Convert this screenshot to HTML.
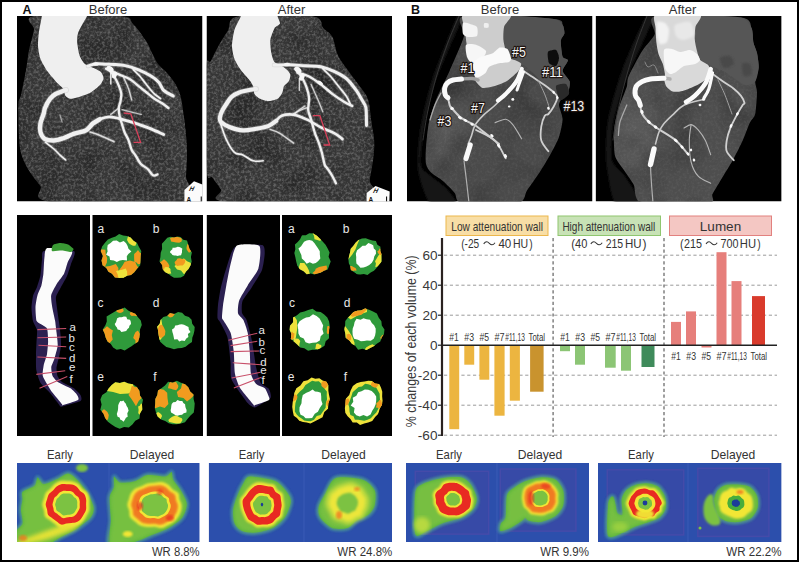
<!DOCTYPE html>
<html><head><meta charset="utf-8"><style>
html,body{margin:0;padding:0;background:#fff;width:799px;height:562px;overflow:hidden}
svg{display:block}
text{font-family:"Liberation Sans",sans-serif}
</style></head><body>
<svg width="799" height="562" viewBox="0 0 799 562">
<defs><filter id="spk" x="0" y="0" width="100%" height="100%" color-interpolation-filters="sRGB">
<feTurbulence type="fractalNoise" baseFrequency="0.38" numOctaves="3" seed="7" result="t"/>
<feColorMatrix in="t" type="matrix" values="0 0 0 0 1  0 0 0 0 1  0 0 0 0 1  0 0 0 2.6 -1.05"/>
<feGaussianBlur stdDeviation="0.7"/>
</filter>
<filter id="lowf" x="0" y="0" width="100%" height="100%" color-interpolation-filters="sRGB">
<feTurbulence type="fractalNoise" baseFrequency="0.03" numOctaves="2" seed="4" result="t"/>
<feColorMatrix in="t" type="matrix" values="0 0 0 0 0  0 0 0 0 0  0 0 0 0 0  0 0 0 1.8 -0.75"/>
</filter>
<filter id="blur1"><feGaussianBlur stdDeviation="0.6"/></filter>
<filter id="blur2"><feGaussianBlur stdDeviation="1.2"/></filter>
<filter id="blur3"><feGaussianBlur stdDeviation="2.2"/></filter>
<filter id="bl4"><feGaussianBlur stdDeviation="3.5"/></filter>
<filter id="lblsh" x="-30%" y="-30%" width="160%" height="160%"><feMorphology in="SourceAlpha" operator="dilate" radius="1.1" result="d"/><feFlood flood-color="#2a1a14"/><feComposite in2="d" operator="in" result="o"/><feMerge><feMergeNode in="o"/><feMergeNode in="SourceGraphic"/></feMerge></filter>

<clipPath id="clipa1"><rect x="17" y="16" width="185.5" height="185.5"/></clipPath>
<clipPath id="hearta1"><path d="M35.0,16.0 C49.2,13.7 102.7,14.7 119.0,16.0 C135.3,17.3 128.5,19.8 133.0,24.0 C137.5,28.2 142.8,36.2 146.0,41.0 C149.2,45.8 150.0,49.2 152.0,53.0 C154.0,56.8 155.5,60.7 158.0,64.0 C160.5,67.3 164.0,69.5 167.0,73.0 C170.0,76.5 173.7,80.8 176.0,85.0 C178.3,89.2 179.8,93.2 181.0,98.0 C182.2,102.8 182.8,109.4 183.5,114.0 C184.2,118.6 184.4,119.8 185.0,125.6 C185.6,131.4 186.8,140.6 187.0,149.0 C187.2,157.4 186.6,167.2 186.0,176.0 C185.4,184.8 205.8,197.7 183.3,202.0 C160.9,206.3 75.1,204.7 51.3,202.0 C27.5,199.3 43.9,190.9 40.4,186.0 C36.9,181.1 33.3,177.7 30.2,172.6 C27.1,167.5 23.6,161.3 21.8,155.7 C20.0,150.1 19.8,147.2 19.2,138.8 C18.6,130.4 18.1,112.3 18.4,105.0 C18.7,97.7 19.7,100.8 21.0,95.0 C22.3,89.2 24.7,77.5 26.0,70.0 C27.3,62.5 27.7,56.7 29.0,50.0 C30.3,43.3 33.0,35.7 34.0,30.0 C35.0,24.3 20.8,18.3 35.0,16.0Z"/></clipPath>
<clipPath id="clipa2"><rect x="206.5" y="16" width="185.5" height="185.5"/></clipPath>
<clipPath id="hearta2"><path d="M239.5,16.0 C253.4,13.5 297.0,14.0 311.0,16.0 C325.0,18.0 319.9,24.7 323.5,28.2 C327.1,31.7 330.0,32.6 332.4,37.1 C334.8,41.6 335.0,49.2 337.7,54.9 C340.4,60.5 344.8,66.0 348.4,71.0 C351.9,76.0 355.7,80.5 359.0,85.2 C362.3,89.9 365.9,93.1 368.0,99.4 C370.1,105.7 370.5,115.9 371.5,122.8 C372.5,129.7 373.9,134.7 374.2,140.6 C374.5,146.5 374.1,151.9 373.3,158.4 C372.6,164.9 370.9,172.4 369.7,179.7 C368.5,187.0 389.9,198.3 366.2,202.0 C342.5,205.7 251.9,204.1 227.7,202.0 C203.5,199.9 223.5,193.6 221.0,189.5 C218.5,185.4 214.9,181.4 212.5,177.7 C210.1,174.0 207.6,185.5 206.5,167.5 C205.4,149.5 205.3,87.5 206.0,69.8 C206.7,52.1 208.9,65.0 210.8,61.3 C212.7,57.6 214.7,52.9 217.5,47.8 C220.3,42.7 224.0,36.2 227.7,30.9 C231.4,25.6 225.6,18.5 239.5,16.0Z"/></clipPath>
<clipPath id="clipb1"><rect x="407" y="16" width="185.5" height="185.5"/></clipPath>
<clipPath id="hbb1"><path d="M464.0,16.0 C474.5,14.0 542.2,18.0 553.7,19.0 C565.2,20.0 561.4,23.0 562.6,24.7 C563.8,26.4 564.6,31.7 564.4,33.6 C564.2,35.5 561.0,38.0 560.8,40.7 C560.6,43.4 561.8,54.4 562.6,56.7 C563.4,59.0 568.0,58.6 568.0,60.3 C568.0,62.0 562.4,68.5 562.6,71.0 C562.8,73.5 569.1,79.1 569.7,81.6 C570.3,84.1 568.8,90.4 568.0,92.3 C567.2,94.2 563.6,96.1 562.6,97.6 C561.6,99.1 559.0,102.5 559.0,105.0 C559.0,107.5 562.6,115.5 562.6,119.2 C562.6,122.9 560.4,132.8 559.0,137.0 C557.6,141.2 552.5,150.6 550.2,154.8 C547.9,159.0 542.2,168.4 539.5,172.6 C536.8,176.8 529.5,186.9 527.0,190.4 C524.5,193.9 525.7,201.5 518.1,203.0 C510.5,204.5 469.4,204.2 462.0,203.0 C454.6,201.8 456.9,195.5 454.7,192.9 C452.5,190.3 445.7,183.4 442.9,181.0 C440.1,178.6 433.0,174.6 431.0,172.6 C429.0,170.6 426.6,167.0 426.0,164.0 C425.4,161.0 425.6,152.2 426.0,147.3 C426.4,142.4 427.8,127.4 429.0,121.9 C430.2,116.4 433.6,106.1 436.0,100.0 C438.4,93.9 446.7,77.5 450.0,70.0 C453.3,62.5 462.4,42.3 464.0,36.0 C465.6,29.7 453.5,18.0 464.0,16.0Z"/></clipPath>
<radialGradient id="lgb1" cx="0.5" cy="0.5" r="0.5"><stop offset="0" stop-color="#707070" stop-opacity="0.45"/><stop offset="1" stop-color="#707070" stop-opacity="0"/></radialGradient>
<clipPath id="clipb2"><rect x="595.6" y="16" width="186" height="185.5"/></clipPath>
<clipPath id="hbb2"><path d="M655.5,16.0 C665.6,14.1 729.8,16.2 741.0,17.6 C752.2,19.0 750.2,25.3 751.6,28.2 C753.0,31.1 752.8,39.6 753.4,42.5 C754.0,45.4 756.4,50.2 757.0,53.1 C757.6,56.0 758.9,64.1 758.7,67.4 C758.5,70.7 755.4,78.7 755.2,81.6 C755.0,84.5 757.0,88.5 757.0,92.3 C757.0,96.1 756.0,110.4 755.2,114.0 C754.4,117.6 751.3,119.7 749.8,122.8 C748.3,125.9 744.6,136.4 742.7,140.6 C740.8,144.8 736.1,154.2 733.8,158.4 C731.5,162.6 725.6,172.0 723.1,176.2 C720.6,180.4 714.2,190.9 712.5,194.0 C710.8,197.1 717.1,201.9 708.9,203.0 C700.7,204.1 650.8,205.2 642.0,203.0 C633.2,200.8 635.8,188.3 633.6,184.4 C631.4,180.5 625.6,172.5 623.4,169.2 C621.2,165.9 616.1,160.2 615.0,155.7 C613.9,151.2 613.6,135.8 614.0,130.4 C614.4,125.0 616.9,114.1 618.4,109.0 C619.9,103.9 625.6,90.5 626.8,86.7 C628.0,82.9 626.7,80.6 628.5,76.5 C630.3,72.4 638.9,56.1 642.0,51.2 C645.1,46.3 653.1,38.4 654.7,34.3 C656.3,30.2 645.4,17.9 655.5,16.0Z"/></clipPath>
<radialGradient id="lgb2" cx="0.5" cy="0.5" r="0.5"><stop offset="0" stop-color="#707070" stop-opacity="0.45"/><stop offset="1" stop-color="#707070" stop-opacity="0"/></radialGradient>
<clipPath id="csa"><path d="M140.7,255.9 L140.5,260.5 L140.2,265.3 L137.0,268.7 L134.3,272.2 L131.1,275.1 L127.0,275.8 L123.3,277.7 L119.1,278.1 L114.9,277.6 L112.0,273.8 L108.4,271.7 L106.3,268.0 L102.5,265.2 L101.5,260.6 L102.9,255.9 L100.7,251.0 L102.1,246.4 L105.0,242.8 L107.9,239.4 L111.9,237.8 L115.6,236.5 L119.1,234.0 L123.1,235.5 L127.0,236.0 L130.6,237.6 L133.5,240.7 L137.0,243.1 L139.0,247.1 L141.3,251.1Z"/></clipPath>
<clipPath id="csb"><path d="M190.9,256.9 L191.7,261.4 L190.5,265.6 L188.5,269.1 L185.9,271.8 L184.0,275.7 L180.8,277.6 L177.4,277.7 L174.0,277.7 L171.0,276.0 L168.3,273.7 L165.3,272.2 L162.7,269.3 L162.1,264.9 L159.5,261.4 L160.4,256.9 L160.7,252.7 L162.1,248.9 L161.9,243.8 L164.7,240.8 L167.3,237.8 L170.7,236.7 L174.1,237.5 L177.3,236.6 L180.6,237.0 L183.2,239.8 L187.0,240.4 L188.3,244.8 L189.5,248.8 L191.9,252.4Z"/></clipPath>
<clipPath id="csc"><path d="M140.0,329.4 L139.9,333.4 L139.4,337.6 L138.1,341.8 L134.5,343.9 L131.5,346.3 L128.2,348.3 L124.7,350.6 L120.8,348.9 L116.7,349.7 L113.1,347.6 L110.8,343.9 L107.5,341.5 L105.7,337.7 L104.6,333.6 L102.7,329.4 L105.4,325.3 L106.8,321.5 L106.6,316.5 L110.3,314.2 L113.7,312.2 L117.0,310.2 L120.7,309.2 L124.7,307.5 L128.2,310.5 L131.6,312.2 L135.3,313.8 L137.8,317.1 L140.8,320.4 L141.8,324.9Z"/></clipPath>
<clipPath id="csd"><path d="M194.4,330.7 L193.6,334.3 L192.3,337.7 L192.0,341.9 L188.6,344.2 L185.6,346.7 L181.8,347.9 L177.9,348.3 L174.0,349.2 L170.2,348.0 L166.3,346.9 L163.2,344.4 L160.2,341.8 L159.1,338.0 L158.6,334.3 L158.2,330.7 L157.1,326.8 L159.7,323.7 L160.5,319.9 L163.3,317.1 L167.2,316.1 L170.0,312.9 L174.2,314.0 L178.1,311.9 L182.1,312.8 L185.0,315.7 L188.9,316.9 L191.6,319.8 L192.2,323.8 L194.7,326.9Z"/></clipPath>
<clipPath id="cse"><path d="M142.0,404.6 L142.3,409.4 L140.0,413.4 L139.5,418.6 L135.3,420.8 L132.4,424.4 L128.8,427.5 L124.1,426.9 L119.7,428.7 L115.4,426.9 L111.6,424.4 L107.9,421.8 L105.1,418.1 L103.5,413.7 L100.3,409.7 L101.6,404.6 L100.4,399.6 L102.2,395.0 L106.4,392.2 L108.6,388.4 L111.7,385.1 L115.3,382.2 L119.9,383.1 L124.2,381.8 L128.3,383.5 L132.8,384.3 L136.7,386.8 L139.4,390.8 L140.1,395.8 L143.0,399.8Z"/></clipPath>
<clipPath id="csf"><path d="M194.7,403.4 L194.4,407.8 L193.8,412.4 L190.5,415.6 L187.7,418.8 L185.0,422.3 L180.9,423.6 L176.7,424.2 L172.6,424.3 L168.7,423.2 L165.2,421.0 L161.1,419.5 L157.6,416.6 L155.9,412.3 L154.8,407.9 L155.2,403.4 L155.3,399.0 L157.3,395.1 L158.0,390.4 L161.7,387.9 L165.0,385.4 L168.1,381.7 L172.7,382.6 L176.9,380.7 L181.0,382.7 L185.1,384.2 L188.3,387.2 L190.2,391.4 L193.5,394.4 L193.6,399.1Z"/></clipPath>
<clipPath id="csa2"><path d="M328.9,254.9 L329.2,259.3 L326.7,262.8 L326.9,268.0 L324.1,271.1 L321.2,274.3 L317.1,274.1 L313.6,274.8 L310.2,274.4 L306.8,273.9 L303.8,271.8 L299.9,270.8 L298.1,267.0 L295.3,263.8 L294.3,259.4 L294.9,254.9 L295.7,250.8 L296.3,246.6 L298.7,243.4 L300.0,239.0 L303.6,237.6 L306.8,236.0 L310.0,233.0 L313.7,234.3 L317.6,233.8 L321.2,235.6 L323.8,239.0 L325.5,243.0 L327.0,246.8 L328.3,250.7Z"/></clipPath>
<clipPath id="csb2"><path d="M381.0,256.9 L380.5,260.7 L379.7,264.4 L377.7,267.5 L376.1,271.2 L372.5,272.1 L369.7,274.3 L366.5,275.9 L363.0,275.5 L359.4,275.4 L356.9,272.4 L354.1,270.3 L352.0,267.4 L350.7,264.0 L349.8,260.5 L348.5,256.9 L349.3,253.2 L349.7,249.3 L350.8,245.4 L353.1,242.3 L356.3,240.3 L359.8,239.8 L363.1,238.9 L366.5,237.6 L369.6,240.1 L373.2,240.2 L375.2,243.7 L377.8,246.2 L379.7,249.4 L381.7,252.8Z"/></clipPath>
<clipPath id="csc2"><path d="M329.1,330.0 L329.0,334.0 L329.0,338.3 L325.7,341.2 L324.5,345.8 L320.8,348.2 L316.7,349.7 L312.4,349.8 L308.1,350.8 L304.3,348.3 L300.2,347.6 L297.2,344.6 L294.1,341.7 L290.8,338.7 L291.5,334.0 L289.6,330.0 L290.0,325.7 L293.1,322.3 L293.0,317.4 L297.0,315.2 L300.2,312.6 L304.3,311.5 L308.2,310.0 L312.5,308.8 L316.3,311.4 L320.6,312.1 L324.2,314.5 L327.3,317.6 L329.1,321.6 L329.7,325.9Z"/></clipPath>
<clipPath id="csd2"><path d="M383.2,329.4 L381.8,333.4 L382.5,338.2 L380.2,342.0 L376.6,344.4 L373.6,347.4 L369.5,347.9 L365.7,348.8 L361.8,349.0 L357.6,349.2 L354.5,346.3 L350.0,345.5 L349.1,340.6 L346.9,337.3 L346.0,333.3 L343.8,329.4 L345.3,325.2 L346.2,321.1 L348.6,317.7 L350.6,313.9 L354.3,312.0 L358.0,310.8 L361.8,309.3 L365.7,309.7 L369.4,311.1 L373.8,310.9 L377.0,313.8 L379.7,317.1 L382.3,320.6 L382.3,325.2Z"/></clipPath>
<clipPath id="cse2"><path d="M329.8,400.7 L327.9,405.4 L328.5,410.9 L325.5,414.6 L322.9,418.1 L320.1,421.6 L316.3,422.2 L312.8,423.3 L309.1,424.0 L305.6,422.4 L301.8,421.7 L299.1,418.1 L296.7,414.4 L295.1,410.0 L294.1,405.4 L292.5,400.7 L292.4,395.5 L294.9,391.3 L295.8,386.2 L299.3,383.5 L301.7,379.4 L305.6,379.0 L309.1,376.9 L312.9,377.4 L316.9,377.0 L320.3,379.4 L322.4,384.1 L324.7,387.6 L327.4,391.1 L327.9,396.0Z"/></clipPath>
<clipPath id="csf2"><path d="M381.2,402.0 L382.0,406.7 L380.4,411.0 L379.6,416.0 L376.5,419.0 L373.3,421.5 L370.2,424.7 L366.2,423.7 L362.4,425.5 L358.9,423.2 L355.2,422.0 L351.6,419.8 L349.3,415.8 L347.8,411.3 L346.1,406.9 L347.7,402.0 L347.1,397.4 L347.2,392.4 L349.4,388.3 L352.5,385.4 L355.8,383.3 L359.0,381.1 L362.5,379.8 L366.1,380.8 L370.2,379.3 L373.5,382.1 L376.3,385.2 L378.1,389.4 L380.3,393.1 L381.6,397.4Z"/></clipPath>
<clipPath id="sp17"><rect x="17" y="463" width="182.7" height="79"/></clipPath>
<clipPath id="sp208"><rect x="208.7" y="463" width="183.3" height="79"/></clipPath>
<clipPath id="sp406"><rect x="406" y="463" width="183" height="79"/></clipPath>
<clipPath id="sp598"><rect x="598" y="463" width="183.6" height="79"/></clipPath></defs>
<rect x="0" y="0" width="799" height="562" fill="#fff"/>
<text x="22.5" y="14.2" font-size="12.5" font-weight="bold" fill="#111">A</text>
<text x="108" y="14.2" font-size="13" fill="#333" text-anchor="middle">Before</text>
<text x="291.5" y="14.2" font-size="13" fill="#333" text-anchor="middle">After</text>
<text x="411" y="14.2" font-size="12.5" font-weight="bold" fill="#111">B</text>
<text x="500" y="14.2" font-size="13" fill="#333" text-anchor="middle">Before</text>
<text x="682.5" y="14.2" font-size="13" fill="#333" text-anchor="middle">After</text>
<g clip-path="url(#clipa1)">
<rect x="17" y="16" width="185.5" height="185.5" fill="#000"/>
<g clip-path="url(#hearta1)">
<rect x="17" y="16" width="185.5" height="185.5" fill="#363636"/>
<rect x="17" y="16" width="185.5" height="185.5" filter="url(#lowf)" opacity="0.4"/>
<rect x="17" y="16" width="185.5" height="185.5" filter="url(#spk)" opacity="0.22"/>
</g>
<path d="M42.0,12.0 C36.7,12.5 42.2,13.9 41.8,16.4 C41.4,18.9 39.2,29.7 38.8,33.2 C38.4,36.7 37.8,43.0 38.0,46.0 C38.2,49.0 39.3,55.8 40.4,58.8 C41.5,61.8 45.8,69.0 47.6,71.6 C49.4,74.2 53.7,79.1 55.6,81.2 C57.5,83.3 62.5,87.5 63.6,89.2 C64.7,90.9 64.5,94.5 65.2,95.6 C65.9,96.7 68.5,98.6 70.0,98.8 C71.5,99.0 75.6,97.9 78.0,97.2 C80.4,96.5 88.2,93.9 90.8,92.4 C93.4,90.9 98.9,86.1 100.4,84.4 C101.9,82.7 103.6,79.5 103.6,78.0 C103.6,76.5 101.9,72.9 100.4,71.6 C98.9,70.3 92.7,67.7 90.8,66.8 C88.9,65.9 85.7,64.9 84.4,63.6 C83.1,62.3 80.4,58.0 79.6,55.6 C78.8,53.2 77.4,45.4 77.2,42.8 C77.0,40.2 77.3,35.4 78.0,33.2 C78.7,31.0 81.8,25.6 82.8,23.6 C83.8,21.6 86.3,17.8 86.8,16.4 C87.3,15.0 92.2,12.5 87.0,12.0 C81.8,11.5 47.3,11.5 42.0,12.0Z" fill="#efefef"/>
<path d="M66.0,90.0 C65.6,90.1 65.3,90.1 63.6,90.8 C61.9,91.5 57.9,92.7 55.6,94.0 C53.3,95.3 51.8,96.5 50.0,98.8 C48.2,101.1 46.0,105.5 45.0,108.0 C44.0,110.5 44.5,110.9 43.7,113.5 C42.9,116.1 41.0,120.5 40.4,123.6 C39.8,126.7 39.7,129.5 40.4,132.0 C41.1,134.5 42.4,137.4 44.6,138.8 C46.9,140.2 50.7,140.6 53.9,140.5 C57.1,140.4 60.6,139.1 64.0,138.0 C67.4,136.9 70.5,135.0 74.2,133.7 C77.9,132.4 82.9,132.1 86.0,130.4 C89.1,128.7 90.5,125.4 92.8,123.6 C95.1,121.8 98.5,120.0 99.6,119.3" fill="none" stroke="#bbbbbb" stroke-width="6.0" stroke-linecap="round" opacity="0.35" filter="url(#blur1)"/>
<path d="M92.8,123.6 C93.9,122.9 96.9,120.4 99.6,119.3 C102.3,118.2 105.5,116.9 109.2,116.9 C112.9,116.9 117.2,118.1 122.0,119.3 C126.8,120.5 133.2,122.5 138.0,124.1 C142.8,125.7 146.6,127.2 150.9,128.9 C155.2,130.6 161.6,133.6 163.7,134.5" fill="none" stroke="#bbbbbb" stroke-width="4.4" stroke-linecap="round" opacity="0.35" filter="url(#blur1)"/>
<path d="M88.0,66.0 C89.4,65.6 93.6,64.1 96.5,63.8 C99.4,63.5 102.5,64.1 105.4,64.2 C108.3,64.3 110.7,64.3 114.0,64.5 C117.3,64.7 121.3,64.8 125.3,65.6 C129.3,66.4 133.7,67.9 138.0,69.6 C142.3,71.3 147.5,73.9 151.0,76.0 C154.5,78.1 156.8,80.0 158.9,82.4 C161.0,84.8 161.3,88.1 163.7,90.4 C166.1,92.7 171.7,95.1 173.3,96.0" fill="none" stroke="#bbbbbb" stroke-width="4.6" stroke-linecap="round" opacity="0.35" filter="url(#blur1)"/>
<path d="M106.0,68.8 C108.1,69.7 114.8,72.7 118.8,74.4 C122.8,76.1 126.8,77.3 130.0,79.2 C133.2,81.1 135.3,83.5 138.0,85.6 C140.7,87.7 143.3,89.8 146.0,92.0 C148.7,94.2 151.4,96.6 154.1,98.5 C156.8,100.4 159.7,101.7 162.1,103.3 C164.5,104.9 167.4,107.2 168.5,108.0" fill="none" stroke="#bbbbbb" stroke-width="3.9" stroke-linecap="round" opacity="0.35" filter="url(#blur1)"/>
<path d="M133.3,69.6 C134.4,70.7 137.6,73.6 139.7,76.0 C141.8,78.4 143.6,81.0 146.0,84.0 C148.4,87.0 151.7,91.3 154.1,93.7 C156.5,96.1 159.4,97.7 160.5,98.5" fill="none" stroke="#bbbbbb" stroke-width="3.3" stroke-linecap="round" opacity="0.35" filter="url(#blur1)"/>
<path d="M109.2,69.6 C110.0,70.7 112.4,73.3 114.0,76.0 C115.6,78.7 117.6,82.6 118.8,85.6 C120.0,88.5 121.0,91.0 121.3,93.7 C121.6,96.4 120.8,99.3 120.4,101.7 C120.0,104.1 118.9,105.6 118.8,108.0 C118.7,110.4 119.1,113.4 119.6,116.1 C120.1,118.8 121.2,121.4 122.0,124.1 C122.8,126.8 123.4,129.4 124.5,132.1 C125.6,134.8 127.3,137.1 128.5,140.1 C129.7,143.1 130.6,147.6 131.7,150.0 C132.8,152.4 133.7,152.5 135.2,154.8 C136.7,157.1 138.5,161.3 140.6,163.7 C142.7,166.1 145.6,167.1 147.7,169.0 C149.8,170.9 151.4,174.4 153.0,175.3 C154.6,176.2 156.8,174.6 157.5,174.4" fill="none" stroke="#bbbbbb" stroke-width="3.9" stroke-linecap="round" opacity="0.35" filter="url(#blur1)"/>
<path d="M110.8,72.8 C110.8,74.7 110.8,82.1 110.8,84.0" fill="none" stroke="#bbbbbb" stroke-width="3.2" stroke-linecap="round" opacity="0.315" filter="url(#blur1)"/>
<path d="M123.7,77.6 C124.5,79.5 127.2,85.1 128.5,88.8 C129.8,92.5 131.2,98.1 131.7,100.0" fill="none" stroke="#bbbbbb" stroke-width="2.9000000000000004" stroke-linecap="round" opacity="0.27999999999999997" filter="url(#blur1)"/>
<path d="M110.8,114.5 C112.1,113.4 117.5,109.1 118.8,108.0" fill="none" stroke="#bbbbbb" stroke-width="2.9000000000000004" stroke-linecap="round" opacity="0.27999999999999997" filter="url(#blur1)"/>
<path d="M122.0,109.7 C125.2,110.5 138.1,113.7 141.3,114.5" fill="none" stroke="#bbbbbb" stroke-width="2.8" stroke-linecap="round" opacity="0.24499999999999997" filter="url(#blur1)"/>
<path d="M90.0,132.0 C91.6,132.6 95.6,133.7 99.6,135.3 C103.6,136.9 111.6,140.6 114.0,141.7" fill="none" stroke="#bbbbbb" stroke-width="3.2" stroke-linecap="round" opacity="0.2975" filter="url(#blur1)"/>
<path d="M45.4,142.2 C46.8,143.3 51.4,146.8 53.9,149.0 C56.4,151.2 58.6,153.9 60.6,155.7 C62.6,157.5 64.9,159.3 65.7,160.0" fill="none" stroke="#bbbbbb" stroke-width="3.2" stroke-linecap="round" opacity="0.35" filter="url(#blur1)"/>
<path d="M60.0,115.0 C60.3,116.2 61.7,120.8 62.0,122.0" fill="none" stroke="#bbbbbb" stroke-width="2.6" stroke-linecap="round" opacity="0.21" filter="url(#blur1)"/>
<path d="M66.0,90.0 C65.6,90.1 65.3,90.1 63.6,90.8 C61.9,91.5 57.9,92.7 55.6,94.0 C53.3,95.3 51.8,96.5 50.0,98.8 C48.2,101.1 46.0,105.5 45.0,108.0 C44.0,110.5 44.5,110.9 43.7,113.5 C42.9,116.1 41.0,120.5 40.4,123.6 C39.8,126.7 39.7,129.5 40.4,132.0 C41.1,134.5 42.4,137.4 44.6,138.8 C46.9,140.2 50.7,140.6 53.9,140.5 C57.1,140.4 60.6,139.1 64.0,138.0 C67.4,136.9 70.5,135.0 74.2,133.7 C77.9,132.4 82.9,132.1 86.0,130.4 C89.1,128.7 90.5,125.4 92.8,123.6 C95.1,121.8 98.5,120.0 99.6,119.3" fill="none" stroke="#f0f0f0" stroke-width="4.4" stroke-linecap="round" stroke-linejoin="round" opacity="1"/>
<path d="M92.8,123.6 C93.9,122.9 96.9,120.4 99.6,119.3 C102.3,118.2 105.5,116.9 109.2,116.9 C112.9,116.9 117.2,118.1 122.0,119.3 C126.8,120.5 133.2,122.5 138.0,124.1 C142.8,125.7 146.6,127.2 150.9,128.9 C155.2,130.6 161.6,133.6 163.7,134.5" fill="none" stroke="#f0f0f0" stroke-width="2.8" stroke-linecap="round" stroke-linejoin="round" opacity="1"/>
<path d="M88.0,66.0 C89.4,65.6 93.6,64.1 96.5,63.8 C99.4,63.5 102.5,64.1 105.4,64.2 C108.3,64.3 110.7,64.3 114.0,64.5 C117.3,64.7 121.3,64.8 125.3,65.6 C129.3,66.4 133.7,67.9 138.0,69.6 C142.3,71.3 147.5,73.9 151.0,76.0 C154.5,78.1 156.8,80.0 158.9,82.4 C161.0,84.8 161.3,88.1 163.7,90.4 C166.1,92.7 171.7,95.1 173.3,96.0" fill="none" stroke="#f0f0f0" stroke-width="3.0" stroke-linecap="round" stroke-linejoin="round" opacity="1"/>
<path d="M106.0,68.8 C108.1,69.7 114.8,72.7 118.8,74.4 C122.8,76.1 126.8,77.3 130.0,79.2 C133.2,81.1 135.3,83.5 138.0,85.6 C140.7,87.7 143.3,89.8 146.0,92.0 C148.7,94.2 151.4,96.6 154.1,98.5 C156.8,100.4 159.7,101.7 162.1,103.3 C164.5,104.9 167.4,107.2 168.5,108.0" fill="none" stroke="#f0f0f0" stroke-width="2.3" stroke-linecap="round" stroke-linejoin="round" opacity="1"/>
<path d="M133.3,69.6 C134.4,70.7 137.6,73.6 139.7,76.0 C141.8,78.4 143.6,81.0 146.0,84.0 C148.4,87.0 151.7,91.3 154.1,93.7 C156.5,96.1 159.4,97.7 160.5,98.5" fill="none" stroke="#f0f0f0" stroke-width="1.7" stroke-linecap="round" stroke-linejoin="round" opacity="1"/>
<path d="M109.2,69.6 C110.0,70.7 112.4,73.3 114.0,76.0 C115.6,78.7 117.6,82.6 118.8,85.6 C120.0,88.5 121.0,91.0 121.3,93.7 C121.6,96.4 120.8,99.3 120.4,101.7 C120.0,104.1 118.9,105.6 118.8,108.0 C118.7,110.4 119.1,113.4 119.6,116.1 C120.1,118.8 121.2,121.4 122.0,124.1 C122.8,126.8 123.4,129.4 124.5,132.1 C125.6,134.8 127.3,137.1 128.5,140.1 C129.7,143.1 130.6,147.6 131.7,150.0 C132.8,152.4 133.7,152.5 135.2,154.8 C136.7,157.1 138.5,161.3 140.6,163.7 C142.7,166.1 145.6,167.1 147.7,169.0 C149.8,170.9 151.4,174.4 153.0,175.3 C154.6,176.2 156.8,174.6 157.5,174.4" fill="none" stroke="#f0f0f0" stroke-width="2.3" stroke-linecap="round" stroke-linejoin="round" opacity="1"/>
<path d="M110.8,72.8 C110.8,74.7 110.8,82.1 110.8,84.0" fill="none" stroke="#f0f0f0" stroke-width="1.6" stroke-linecap="round" stroke-linejoin="round" opacity="0.9"/>
<path d="M123.7,77.6 C124.5,79.5 127.2,85.1 128.5,88.8 C129.8,92.5 131.2,98.1 131.7,100.0" fill="none" stroke="#f0f0f0" stroke-width="1.3" stroke-linecap="round" stroke-linejoin="round" opacity="0.8"/>
<path d="M110.8,114.5 C112.1,113.4 117.5,109.1 118.8,108.0" fill="none" stroke="#f0f0f0" stroke-width="1.3" stroke-linecap="round" stroke-linejoin="round" opacity="0.8"/>
<path d="M122.0,109.7 C125.2,110.5 138.1,113.7 141.3,114.5" fill="none" stroke="#f0f0f0" stroke-width="1.2" stroke-linecap="round" stroke-linejoin="round" opacity="0.7"/>
<path d="M90.0,132.0 C91.6,132.6 95.6,133.7 99.6,135.3 C103.6,136.9 111.6,140.6 114.0,141.7" fill="none" stroke="#f0f0f0" stroke-width="1.6" stroke-linecap="round" stroke-linejoin="round" opacity="0.85"/>
<path d="M45.4,142.2 C46.8,143.3 51.4,146.8 53.9,149.0 C56.4,151.2 58.6,153.9 60.6,155.7 C62.6,157.5 64.9,159.3 65.7,160.0" fill="none" stroke="#f0f0f0" stroke-width="1.6" stroke-linecap="round" stroke-linejoin="round" opacity="1"/>
<path d="M60.0,115.0 C60.3,116.2 61.7,120.8 62.0,122.0" fill="none" stroke="#f0f0f0" stroke-width="1" stroke-linecap="round" stroke-linejoin="round" opacity="0.6"/>
<ellipse cx="110" cy="69" rx="4" ry="2.6" fill="#f6f6f6" transform="rotate(35 110 69)"/>
<ellipse cx="114.5" cy="75" rx="2.4" ry="3.5" fill="#f6f6f6" transform="rotate(20 114.5 75)"/>
<ellipse cx="96" cy="64" rx="3" ry="1.8" fill="#f6f6f6" transform="rotate(0 96 64)"/>
<path d="M123.7,113 L130.8,113.9 L140.6,142.4 L133.5,142.4" fill="none" stroke="#d8405a" stroke-width="1.3"/>
<path d="M184.4,190.0 L194.0,181.3 L204.0,185.0 L204.0,202.0 L184.4,202.0Z" fill="#fbfbfb"/>
<text x="191.7" y="190.65" font-size="6.5" font-weight="bold" fill="#111" transform="skewX(-25) translate(85.8,0)">H</text>
<text x="186.4" y="201.5" font-size="6.5" font-weight="bold" fill="#111">A</text>
<rect x="200.7" y="196.5" width="1.1" height="5" fill="#111"/>
</g>
<g clip-path="url(#clipa2)">
<rect x="206.5" y="16" width="185.5" height="185.5" fill="#000"/>
<g clip-path="url(#hearta2)">
<rect x="206.5" y="16" width="185.5" height="185.5" fill="#363636"/>
<rect x="206.5" y="16" width="185.5" height="185.5" filter="url(#lowf)" opacity="0.4"/>
<rect x="206.5" y="16" width="185.5" height="185.5" filter="url(#spk)" opacity="0.22"/>
</g>
<path d="M241.0,12.0 C236.7,12.5 241.6,14.3 240.8,16.4 C240.0,18.5 235.4,26.5 234.4,30.0 C233.4,33.5 232.0,42.6 232.0,46.0 C232.0,49.4 233.4,56.0 234.4,58.8 C235.4,61.6 238.9,67.4 240.8,70.0 C242.7,72.6 248.9,79.1 250.4,81.2 C251.9,83.3 253.1,86.1 253.6,87.6 C254.1,89.1 253.7,92.7 254.4,94.0 C255.1,95.3 258.4,98.0 260.0,98.8 C261.6,99.6 265.9,101.2 268.0,101.2 C270.1,101.2 275.9,99.8 277.6,98.8 C279.3,97.8 281.7,93.9 282.4,92.4 C283.1,90.9 283.3,87.3 284.0,86.0 C284.7,84.7 288.1,82.5 288.8,81.2 C289.5,79.9 290.6,76.1 290.4,74.8 C290.2,73.5 288.3,71.1 287.2,70.0 C286.1,68.9 282.3,66.1 280.8,65.2 C279.3,64.3 275.5,63.5 274.4,62.0 C273.3,60.5 271.7,55.0 271.2,52.4 C270.7,49.8 270.0,42.4 270.4,39.6 C270.8,36.8 273.3,30.3 274.4,28.4 C275.5,26.5 279.6,25.0 280.0,23.6 C280.4,22.2 277.9,17.8 277.6,16.4 C277.3,15.0 281.9,12.5 277.6,12.0 C273.3,11.5 245.3,11.5 241.0,12.0Z" fill="#efefef"/>
<path d="M256.0,89.0 C255.6,89.0 256.4,88.6 253.6,89.2 C250.8,89.8 242.9,91.1 239.2,92.4 C235.5,93.7 233.3,95.3 231.2,97.2 C229.1,99.1 227.8,101.9 226.4,104.0 C225.0,106.1 223.7,107.9 222.6,110.0 C221.5,112.1 220.3,114.8 220.0,116.8 C219.7,118.8 219.3,120.2 220.9,121.9 C222.5,123.6 225.7,125.6 229.4,127.0 C233.1,128.4 238.4,130.1 242.9,130.4 C247.4,130.7 252.2,129.4 256.4,128.7 C260.6,128.0 264.9,127.4 268.2,126.1 C271.5,124.8 274.7,121.8 276.0,121.0" fill="none" stroke="#bbbbbb" stroke-width="5.800000000000001" stroke-linecap="round" opacity="0.35" filter="url(#blur1)"/>
<path d="M276.0,121.0 C276.9,120.1 278.8,116.8 281.7,115.7 C284.6,114.7 289.2,114.1 293.5,114.7 C297.8,115.3 302.6,117.5 307.2,119.6 C311.8,121.7 316.3,125.1 320.9,127.4 C325.5,129.7 331.0,131.4 334.6,133.3 C338.2,135.2 341.1,138.1 342.4,139.1" fill="none" stroke="#bbbbbb" stroke-width="4.2" stroke-linecap="round" opacity="0.35" filter="url(#blur1)"/>
<path d="M274.0,65.0 C276.6,65.0 284.4,64.7 289.6,64.8 C294.8,64.9 300.0,65.5 305.2,65.8 C310.4,66.1 316.0,65.7 320.9,66.7 C325.8,67.7 330.4,69.6 334.6,71.6 C338.8,73.6 342.7,75.4 346.3,78.5 C349.9,81.6 353.5,86.6 356.1,90.2 C358.7,93.8 360.4,97.1 362.0,100.0 C363.6,102.9 365.1,103.6 365.9,107.8 C366.6,112.0 366.4,122.5 366.5,125.4" fill="none" stroke="#bbbbbb" stroke-width="4.6" stroke-linecap="round" opacity="0.35" filter="url(#blur1)"/>
<path d="M297.4,72.6 C299.3,73.2 305.2,74.5 309.1,76.5 C313.0,78.5 317.0,81.5 320.9,84.4 C324.8,87.3 328.7,91.2 332.6,94.1 C336.5,97.0 341.1,100.0 344.4,102.0 C347.7,104.0 350.9,105.2 352.2,105.9" fill="none" stroke="#bbbbbb" stroke-width="4.0" stroke-linecap="round" opacity="0.35" filter="url(#blur1)"/>
<path d="M322.8,68.7 C324.1,70.0 328.1,73.6 330.7,76.5 C333.3,79.4 335.9,83.0 338.5,86.3 C341.1,89.6 344.4,93.2 346.3,96.1 C348.2,99.0 349.6,102.6 350.2,103.9" fill="none" stroke="#bbbbbb" stroke-width="3.3" stroke-linecap="round" opacity="0.35" filter="url(#blur1)"/>
<path d="M295.4,68.7 C296.4,70.0 299.5,73.6 301.3,76.5 C303.1,79.4 304.9,82.7 306.2,86.3 C307.5,89.9 308.8,94.1 309.1,98.0 C309.4,101.9 307.9,106.2 308.2,109.8 C308.5,113.4 310.0,115.7 311.1,119.6 C312.2,123.5 313.7,129.4 315.0,133.3 C316.3,137.2 317.8,139.8 318.9,143.1 C320.0,146.3 320.9,149.2 321.9,152.8 C322.9,156.5 323.9,162.5 324.8,165.0 C325.7,167.5 325.7,166.1 327.0,168.0 C328.3,169.9 330.9,173.6 332.4,176.2 C333.9,178.8 335.3,182.1 335.9,183.3" fill="none" stroke="#bbbbbb" stroke-width="3.9" stroke-linecap="round" opacity="0.35" filter="url(#blur1)"/>
<path d="M299.4,78.5 C299.4,80.5 299.4,88.2 299.4,90.2" fill="none" stroke="#bbbbbb" stroke-width="3.1" stroke-linecap="round" opacity="0.2975" filter="url(#blur1)"/>
<path d="M311.1,84.4 C312.4,87.3 316.9,97.4 318.9,102.0 C320.8,106.6 322.1,110.2 322.8,111.8" fill="none" stroke="#bbbbbb" stroke-width="2.8" stroke-linecap="round" opacity="0.27999999999999997" filter="url(#blur1)"/>
<path d="M293.5,113.7 C294.8,113.0 299.0,110.8 301.3,109.8 C303.6,108.8 306.2,108.1 307.2,107.8" fill="none" stroke="#bbbbbb" stroke-width="2.9000000000000004" stroke-linecap="round" opacity="0.27999999999999997" filter="url(#blur1)"/>
<path d="M270.0,129.4 C271.6,130.1 275.9,131.0 279.8,133.3 C283.7,135.6 291.2,141.5 293.5,143.1" fill="none" stroke="#bbbbbb" stroke-width="3.0" stroke-linecap="round" opacity="0.27999999999999997" filter="url(#blur1)"/>
<path d="M220.0,121.9 C221.0,124.7 223.6,133.7 226.0,138.8 C228.4,143.9 231.6,149.6 234.4,152.3 C237.2,155.0 239.8,153.5 242.9,154.9 C246.0,156.3 249.6,159.8 253.0,160.8 C256.4,161.8 261.5,160.8 263.2,160.8" fill="none" stroke="#bbbbbb" stroke-width="3.2" stroke-linecap="round" opacity="0.35" filter="url(#blur1)"/>
<path d="M293.6,115.0 C294.5,114.2 297.1,111.5 299.0,110.0 C300.9,108.5 304.0,106.7 305.0,106.0" fill="none" stroke="#bbbbbb" stroke-width="2.9000000000000004" stroke-linecap="round" opacity="0.27999999999999997" filter="url(#blur1)"/>
<path d="M256.0,89.0 C255.6,89.0 256.4,88.6 253.6,89.2 C250.8,89.8 242.9,91.1 239.2,92.4 C235.5,93.7 233.3,95.3 231.2,97.2 C229.1,99.1 227.8,101.9 226.4,104.0 C225.0,106.1 223.7,107.9 222.6,110.0 C221.5,112.1 220.3,114.8 220.0,116.8 C219.7,118.8 219.3,120.2 220.9,121.9 C222.5,123.6 225.7,125.6 229.4,127.0 C233.1,128.4 238.4,130.1 242.9,130.4 C247.4,130.7 252.2,129.4 256.4,128.7 C260.6,128.0 264.9,127.4 268.2,126.1 C271.5,124.8 274.7,121.8 276.0,121.0" fill="none" stroke="#f0f0f0" stroke-width="4.2" stroke-linecap="round" stroke-linejoin="round" opacity="1"/>
<path d="M276.0,121.0 C276.9,120.1 278.8,116.8 281.7,115.7 C284.6,114.7 289.2,114.1 293.5,114.7 C297.8,115.3 302.6,117.5 307.2,119.6 C311.8,121.7 316.3,125.1 320.9,127.4 C325.5,129.7 331.0,131.4 334.6,133.3 C338.2,135.2 341.1,138.1 342.4,139.1" fill="none" stroke="#f0f0f0" stroke-width="2.6" stroke-linecap="round" stroke-linejoin="round" opacity="1"/>
<path d="M274.0,65.0 C276.6,65.0 284.4,64.7 289.6,64.8 C294.8,64.9 300.0,65.5 305.2,65.8 C310.4,66.1 316.0,65.7 320.9,66.7 C325.8,67.7 330.4,69.6 334.6,71.6 C338.8,73.6 342.7,75.4 346.3,78.5 C349.9,81.6 353.5,86.6 356.1,90.2 C358.7,93.8 360.4,97.1 362.0,100.0 C363.6,102.9 365.1,103.6 365.9,107.8 C366.6,112.0 366.4,122.5 366.5,125.4" fill="none" stroke="#f0f0f0" stroke-width="3.0" stroke-linecap="round" stroke-linejoin="round" opacity="1"/>
<path d="M297.4,72.6 C299.3,73.2 305.2,74.5 309.1,76.5 C313.0,78.5 317.0,81.5 320.9,84.4 C324.8,87.3 328.7,91.2 332.6,94.1 C336.5,97.0 341.1,100.0 344.4,102.0 C347.7,104.0 350.9,105.2 352.2,105.9" fill="none" stroke="#f0f0f0" stroke-width="2.4" stroke-linecap="round" stroke-linejoin="round" opacity="1"/>
<path d="M322.8,68.7 C324.1,70.0 328.1,73.6 330.7,76.5 C333.3,79.4 335.9,83.0 338.5,86.3 C341.1,89.6 344.4,93.2 346.3,96.1 C348.2,99.0 349.6,102.6 350.2,103.9" fill="none" stroke="#f0f0f0" stroke-width="1.7" stroke-linecap="round" stroke-linejoin="round" opacity="1"/>
<path d="M295.4,68.7 C296.4,70.0 299.5,73.6 301.3,76.5 C303.1,79.4 304.9,82.7 306.2,86.3 C307.5,89.9 308.8,94.1 309.1,98.0 C309.4,101.9 307.9,106.2 308.2,109.8 C308.5,113.4 310.0,115.7 311.1,119.6 C312.2,123.5 313.7,129.4 315.0,133.3 C316.3,137.2 317.8,139.8 318.9,143.1 C320.0,146.3 320.9,149.2 321.9,152.8 C322.9,156.5 323.9,162.5 324.8,165.0 C325.7,167.5 325.7,166.1 327.0,168.0 C328.3,169.9 330.9,173.6 332.4,176.2 C333.9,178.8 335.3,182.1 335.9,183.3" fill="none" stroke="#f0f0f0" stroke-width="2.3" stroke-linecap="round" stroke-linejoin="round" opacity="1"/>
<path d="M299.4,78.5 C299.4,80.5 299.4,88.2 299.4,90.2" fill="none" stroke="#f0f0f0" stroke-width="1.5" stroke-linecap="round" stroke-linejoin="round" opacity="0.85"/>
<path d="M311.1,84.4 C312.4,87.3 316.9,97.4 318.9,102.0 C320.8,106.6 322.1,110.2 322.8,111.8" fill="none" stroke="#f0f0f0" stroke-width="1.2" stroke-linecap="round" stroke-linejoin="round" opacity="0.8"/>
<path d="M293.5,113.7 C294.8,113.0 299.0,110.8 301.3,109.8 C303.6,108.8 306.2,108.1 307.2,107.8" fill="none" stroke="#f0f0f0" stroke-width="1.3" stroke-linecap="round" stroke-linejoin="round" opacity="0.8"/>
<path d="M270.0,129.4 C271.6,130.1 275.9,131.0 279.8,133.3 C283.7,135.6 291.2,141.5 293.5,143.1" fill="none" stroke="#f0f0f0" stroke-width="1.4" stroke-linecap="round" stroke-linejoin="round" opacity="0.8"/>
<path d="M220.0,121.9 C221.0,124.7 223.6,133.7 226.0,138.8 C228.4,143.9 231.6,149.6 234.4,152.3 C237.2,155.0 239.8,153.5 242.9,154.9 C246.0,156.3 249.6,159.8 253.0,160.8 C256.4,161.8 261.5,160.8 263.2,160.8" fill="none" stroke="#f0f0f0" stroke-width="1.6" stroke-linecap="round" stroke-linejoin="round" opacity="1"/>
<path d="M293.6,115.0 C294.5,114.2 297.1,111.5 299.0,110.0 C300.9,108.5 304.0,106.7 305.0,106.0" fill="none" stroke="#f0f0f0" stroke-width="1.3" stroke-linecap="round" stroke-linejoin="round" opacity="0.8"/>
<ellipse cx="298" cy="70" rx="4" ry="2.6" fill="#f6f6f6" transform="rotate(40 298 70)"/>
<ellipse cx="302" cy="77" rx="2.4" ry="3.8" fill="#f6f6f6" transform="rotate(25 302 77)"/>
<ellipse cx="320" cy="83" rx="3.2" ry="1.8" fill="#f6f6f6" transform="rotate(35 320 83)"/>
<ellipse cx="287" cy="64.5" rx="3" ry="1.8" fill="#f6f6f6" transform="rotate(0 287 64.5)"/>
<path d="M312.8,115.7 L319.9,115.7 L329.7,145 L323.5,145" fill="none" stroke="#d8405a" stroke-width="1.3"/>
<path d="M366.6,193.1 L375.5,186.0 L389.7,191.4 L389.3,202.0 L366.6,202.0Z" fill="#fbfbfb"/>
<text x="375.65" y="193.0" font-size="6.5" font-weight="bold" fill="#111" transform="skewX(-25) translate(86.9,0)">H</text>
<text x="368.6" y="201.5" font-size="6.5" font-weight="bold" fill="#111">A</text>
<rect x="386.0" y="196.5" width="1.1" height="5" fill="#111"/>
</g>
<g clip-path="url(#clipb1)">
<rect x="407" y="16" width="185.5" height="185.5" fill="#000"/>
<path d="M458.0,14.0 C461.7,6.3 466.6,6.3 464.0,14.0 C461.4,21.7 440.7,66.5 436.0,80.0 C431.3,93.5 425.8,120.1 424.0,130.0 C422.2,139.9 420.2,159.6 421.0,165.0 C421.8,170.4 428.1,173.3 431.0,176.0 C433.9,178.7 443.1,184.8 446.0,188.0 C448.9,191.2 457.9,201.2 456.0,203.0 C454.1,204.8 434.4,206.8 430.0,203.0 C425.6,199.2 419.2,178.5 418.0,170.0 C416.8,161.5 418.4,140.5 420.0,130.0 C421.6,119.5 427.6,93.5 432.0,80.0 C436.4,66.5 454.3,21.7 458.0,14.0Z" fill="#141414" filter="url(#blur2)"/>
<path d="M464.0,16.0 C474.5,14.0 542.2,18.0 553.7,19.0 C565.2,20.0 561.4,23.0 562.6,24.7 C563.8,26.4 564.6,31.7 564.4,33.6 C564.2,35.5 561.0,38.0 560.8,40.7 C560.6,43.4 561.8,54.4 562.6,56.7 C563.4,59.0 568.0,58.6 568.0,60.3 C568.0,62.0 562.4,68.5 562.6,71.0 C562.8,73.5 569.1,79.1 569.7,81.6 C570.3,84.1 568.8,90.4 568.0,92.3 C567.2,94.2 563.6,96.1 562.6,97.6 C561.6,99.1 559.0,102.5 559.0,105.0 C559.0,107.5 562.6,115.5 562.6,119.2 C562.6,122.9 560.4,132.8 559.0,137.0 C557.6,141.2 552.5,150.6 550.2,154.8 C547.9,159.0 542.2,168.4 539.5,172.6 C536.8,176.8 529.5,186.9 527.0,190.4 C524.5,193.9 525.7,201.5 518.1,203.0 C510.5,204.5 469.4,204.2 462.0,203.0 C454.6,201.8 456.9,195.5 454.7,192.9 C452.5,190.3 445.7,183.4 442.9,181.0 C440.1,178.6 433.0,174.6 431.0,172.6 C429.0,170.6 426.6,167.0 426.0,164.0 C425.4,161.0 425.6,152.2 426.0,147.3 C426.4,142.4 427.8,127.4 429.0,121.9 C430.2,116.4 433.6,106.1 436.0,100.0 C438.4,93.9 446.7,77.5 450.0,70.0 C453.3,62.5 462.4,42.3 464.0,36.0 C465.6,29.7 453.5,18.0 464.0,16.0Z" fill="#4a4a4a"/>
<g clip-path="url(#hbb1)"><ellipse cx="447" cy="136" rx="30" ry="55" fill="url(#lgb1)"/></g>
<g clip-path="url(#hbb1)"><rect x="407" y="16" width="185.5" height="185.5" filter="url(#lowf)" opacity="0.3"/><rect x="407" y="16" width="185.5" height="185.5" filter="url(#spk)" opacity="0.05"/></g>
<path d="M506.0,16.0 C511.9,14.6 547.1,18.0 553.7,19.0 C560.3,20.0 561.4,23.0 562.6,24.7 C563.8,26.4 564.6,31.7 564.4,33.6 C564.2,35.5 561.0,38.0 560.8,40.7 C560.6,43.4 561.8,54.4 562.6,56.7 C563.4,59.0 568.0,58.6 568.0,60.3 C568.0,62.0 562.4,68.5 562.6,71.0 C562.8,73.5 569.1,79.1 569.7,81.6 C570.3,84.1 569.1,90.2 568.0,92.3 C566.9,94.4 562.7,100.9 560.0,100.0 C557.3,99.1 549.1,89.0 545.0,85.0 C540.9,81.0 529.2,68.9 525.0,66.0 C520.8,63.1 511.4,62.5 509.0,60.0 C506.6,57.5 504.7,48.4 504.0,45.0 C503.3,41.6 502.8,34.4 503.0,31.0 C503.2,27.6 500.1,17.4 506.0,16.0Z" fill="#525252"/>
<path d="M548.0,52.0 C548.8,50.5 554.7,49.3 556.0,50.0 C557.3,50.7 559.0,56.1 559.0,58.0 C559.0,59.9 557.2,65.4 556.0,66.0 C554.8,66.6 549.9,64.6 549.0,63.0 C548.1,61.4 547.2,53.5 548.0,52.0Z" fill="#0c0c0c" filter="url(#blur1)"/>
<path d="M556.0,86.0 C556.7,84.1 564.5,83.1 566.0,84.0 C567.5,84.9 569.7,92.1 569.0,94.0 C568.3,95.9 561.5,100.9 560.0,100.0 C558.5,99.1 555.3,87.9 556.0,86.0Z" fill="#2a2a2a" filter="url(#blur1)"/>
<path d="M464.2,14.0 C459.0,15.7 464.6,24.9 464.9,28.2 C465.2,31.5 466.0,39.5 466.4,42.5 C466.8,45.5 467.6,51.4 468.5,53.9 C469.4,56.4 473.3,61.7 474.2,63.8 C475.1,65.9 476.0,70.3 476.0,72.0 C476.0,73.7 474.4,77.2 474.5,78.5 C474.6,79.8 476.0,81.9 477.0,83.0 C478.0,84.1 480.9,87.6 482.7,88.0 C484.5,88.4 489.9,87.4 492.7,86.6 C495.5,85.8 504.0,82.7 507.0,80.9 C510.0,79.1 516.6,73.0 518.3,71.0 C520.0,69.0 521.4,65.0 521.2,63.8 C521.0,62.6 518.2,61.7 516.9,61.0 C515.6,60.3 511.1,59.4 509.8,58.1 C508.5,56.8 506.2,51.8 505.5,49.6 C504.8,47.4 503.6,42.3 503.4,39.6 C503.2,36.9 503.4,29.8 504.1,26.8 C504.8,23.8 514.5,15.5 509.8,14.0 C505.1,12.5 469.4,12.3 464.2,14.0Z" fill="#cdcdcd"/>
<path d="M463.0,23.0 C463.8,21.8 468.4,23.5 470.0,24.0 C471.6,24.5 476.2,25.6 477.0,27.0 C477.8,28.4 478.1,34.8 477.0,36.0 C475.9,37.2 469.6,37.2 468.0,37.0 C466.4,36.8 463.6,35.6 463.0,34.0 C462.4,32.4 462.2,24.2 463.0,23.0Z" fill="#f4f4f4" filter="url(#blur1)"/>
<path d="M484.2,23.3 C484.7,22.8 487.9,23.0 488.4,23.5 C488.9,24.0 488.9,27.0 488.4,27.5 C487.9,28.0 484.7,28.0 484.2,27.5 C483.7,27.0 483.7,23.8 484.2,23.3Z" fill="#f0f0f0" filter="url(#blur1)"/>
<path d="M466.0,45.0 C467.1,43.6 473.7,44.0 476.0,44.7 C478.3,45.4 485.3,49.3 486.0,51.0 C486.7,52.7 483.6,57.6 482.0,59.0 C480.4,60.4 473.8,63.2 472.0,63.0 C470.2,62.8 467.7,59.1 467.0,57.0 C466.3,54.9 464.9,46.4 466.0,45.0Z" fill="#f6f6f6" filter="url(#blur1)"/>
<path d="M473.0,64.0 C473.6,61.8 477.3,58.7 479.6,57.5 C481.9,56.3 490.3,54.5 492.7,53.3 C495.1,52.1 498.1,48.1 499.8,47.6 C501.5,47.1 506.2,47.8 507.5,49.0 C508.8,50.2 510.8,56.6 511.0,58.1 C511.2,59.6 510.5,61.4 509.0,62.0 C507.5,62.6 500.3,62.9 498.0,63.5 C495.7,64.1 490.5,65.9 489.0,67.0 C487.5,68.1 486.7,71.8 485.5,73.0 C484.3,74.2 480.3,76.7 479.0,77.0 C477.7,77.3 475.3,77.5 474.6,76.0 C473.9,74.5 472.4,66.2 473.0,64.0Z" fill="#fafafa" filter="url(#blur1)"/>
<path d="M459.0,16.0 C457.0,20.8 450.8,34.7 447.0,45.0 C443.2,55.3 439.2,67.2 436.0,78.0 C432.8,88.8 430.2,99.7 428.0,110.0 C425.8,120.3 423.8,135.0 423.0,140.0" fill="none" stroke="#3a3a3a" stroke-width="0.9" stroke-linecap="round" stroke-linejoin="round" opacity="1"/>
<path d="M461.5,79.0 C463.2,78.9 469.2,78.3 472.0,78.5 C474.8,78.7 477.0,79.8 478.0,80.0" fill="none" stroke="#a0a0a0" stroke-width="3.5" stroke-linecap="round" stroke-linejoin="round" opacity="1"/>
<path d="M448.0,97.7 C448.3,99.1 449.4,104.4 450.0,106.0 C450.6,107.6 449.7,105.7 451.3,107.5 C452.9,109.3 457.0,114.4 459.8,116.8 C462.6,119.2 465.7,120.5 468.2,121.9 C470.7,123.3 471.4,122.8 475.0,125.3 C478.6,127.8 486.0,133.9 490.0,137.0 C494.0,140.1 497.5,142.8 499.0,143.9" fill="none" stroke="#cfcfcf" stroke-width="2.0" stroke-linecap="round" stroke-linejoin="round" opacity="1"/>
<path d="M516.0,80.0 C514.3,82.3 509.1,89.8 505.7,94.0 C502.2,98.2 499.0,101.5 495.3,105.0 C491.6,108.5 486.8,111.7 483.4,115.1 C480.0,118.5 477.0,121.9 475.0,125.3 C473.0,128.7 472.7,132.3 471.6,135.4 C470.5,138.5 468.8,142.5 468.2,143.9" fill="none" stroke="#c8c8c8" stroke-width="1.6" stroke-linecap="round" stroke-linejoin="round" opacity="1"/>
<path d="M464.0,160.8 C464.4,164.2 465.7,174.0 466.5,181.0 C467.3,188.0 468.6,199.3 469.0,203.0" fill="none" stroke="#b0b0b0" stroke-width="1.2" stroke-linecap="round" stroke-linejoin="round" opacity="1"/>
<path d="M523.5,71.0 C525.3,72.2 530.6,75.6 534.1,78.0 C537.6,80.4 541.5,82.8 544.8,85.2 C548.1,87.6 551.6,90.2 553.7,92.3 C555.8,94.4 557.3,95.2 557.3,97.6 C557.3,100.0 555.2,103.8 553.7,106.5 C552.2,109.2 549.9,112.5 548.4,114.0 C546.9,115.5 546.0,113.6 544.8,115.7 C543.6,117.8 541.9,122.2 541.3,126.4 C540.7,130.6 540.1,136.4 541.3,140.6 C542.5,144.8 547.2,149.5 548.4,151.3" fill="none" stroke="#cfcfcf" stroke-width="1.8" stroke-linecap="round" stroke-linejoin="round" opacity="1"/>
<path d="M441.0,93.0 C440.0,95.0 436.8,100.5 435.0,105.0 C433.2,109.5 430.8,117.5 430.0,120.0" fill="none" stroke="#a8a8a8" stroke-width="1.3" stroke-linecap="round" stroke-linejoin="round" opacity="1"/>
<path d="M495.0,122.8 C496.8,122.2 502.7,118.9 505.7,119.2 C508.7,119.5 510.1,121.3 512.8,124.6 C515.5,127.9 520.2,136.4 521.7,138.8" fill="none" stroke="#b4b4b4" stroke-width="1.1" stroke-linecap="round" stroke-linejoin="round" opacity="1"/>
<path d="M476.0,130.0 C479.2,131.8 490.1,135.9 495.0,140.6 C499.9,145.3 503.9,155.4 505.7,158.4" fill="none" stroke="#d0d0d0" stroke-width="1.8" stroke-linecap="round" stroke-linejoin="round" opacity="1"/>
<path d="M538.0,80.0 C539.2,82.5 543.0,90.0 545.0,95.0 C547.0,100.0 549.2,107.5 550.0,110.0" fill="none" stroke="#a0a0a0" stroke-width="1.0" stroke-linecap="round" stroke-linejoin="round" opacity="1"/>
<path d="M461.5,79.0 C460.1,79.2 455.4,79.3 453.0,80.0 C450.6,80.7 448.5,81.9 447.1,83.3 C445.7,84.7 444.9,86.4 444.6,88.4 C444.3,90.4 444.8,93.5 445.4,95.1 C446.0,96.6 447.6,97.3 448.0,97.7" fill="none" stroke="#fafafa" stroke-width="5.0" stroke-linecap="round"/>
<path d="M521.7,69.0 C520.8,71.1 519.1,77.4 516.4,81.6 C513.7,85.8 508.8,90.8 505.7,94.0 C502.6,97.2 499.3,99.4 498.0,100.5" fill="none" stroke="#fafafa" stroke-width="4.2" stroke-linecap="round"/>
<path d="M523.5,72.0 C522.9,73.6 521.1,78.6 520.0,81.6 C518.9,84.6 517.5,88.6 517.0,90.0" fill="none" stroke="#fafafa" stroke-width="3.0" stroke-linecap="round"/>
<path d="M470.2,145.0 C469.5,147.2 466.7,156.2 466.0,158.5" fill="none" stroke="#fafafa" stroke-width="5.2" stroke-linecap="round"/>
<ellipse cx="452" cy="108.4" rx="1.8" ry="1.5" fill="#fafafa" transform="rotate(0 452 108.4)"/>
<ellipse cx="460" cy="117.7" rx="2.2" ry="1.4" fill="#fafafa" transform="rotate(35 460 117.7)"/>
<ellipse cx="465.4" cy="120.4" rx="2" ry="1.3" fill="#fafafa" transform="rotate(30 465.4 120.4)"/>
<ellipse cx="472" cy="124.4" rx="1.8" ry="1.2" fill="#fafafa" transform="rotate(30 472 124.4)"/>
<ellipse cx="512.8" cy="99.4" rx="1.5" ry="1.3" fill="#fafafa" transform="rotate(0 512.8 99.4)"/>
<ellipse cx="509.2" cy="106.5" rx="1.3" ry="1.1" fill="#fafafa" transform="rotate(0 509.2 106.5)"/>
<ellipse cx="553.7" cy="92.3" rx="1.6" ry="1.2" fill="#fafafa" transform="rotate(60 553.7 92.3)"/>
<ellipse cx="557.3" cy="97.6" rx="1.5" ry="1.2" fill="#fafafa" transform="rotate(60 557.3 97.6)"/>
<ellipse cx="548.4" cy="108.3" rx="1.5" ry="1.2" fill="#fafafa" transform="rotate(60 548.4 108.3)"/>
<ellipse cx="491.9" cy="135.7" rx="2" ry="1.3" fill="#fafafa" transform="rotate(45 491.9 135.7)"/>
<ellipse cx="498.7" cy="145.8" rx="2.2" ry="1.4" fill="#fafafa" transform="rotate(55 498.7 145.8)"/>
<ellipse cx="505.4" cy="156" rx="2" ry="1.5" fill="#fafafa" transform="rotate(60 505.4 156)"/>
<text x="460.5" y="72.5" font-size="14.5" fill="#f4f4f4" stroke="#201510" stroke-width="2.4" paint-order="stroke" stroke-linejoin="round" textLength="13.8" lengthAdjust="spacingAndGlyphs">#1</text>
<text x="512" y="56.8" font-size="14.5" fill="#f4f4f4" stroke="#201510" stroke-width="2.4" paint-order="stroke" stroke-linejoin="round" textLength="13.8" lengthAdjust="spacingAndGlyphs">#5</text>
<text x="542" y="77.3" font-size="14.5" fill="#f4f4f4" stroke="#201510" stroke-width="2.4" paint-order="stroke" stroke-linejoin="round" textLength="20.7" lengthAdjust="spacingAndGlyphs">#11</text>
<text x="437.5" y="125.5" font-size="14.5" fill="#f4f4f4" stroke="#201510" stroke-width="2.4" paint-order="stroke" stroke-linejoin="round" textLength="13.8" lengthAdjust="spacingAndGlyphs">#3</text>
<text x="471" y="112.6" font-size="14.5" fill="#f4f4f4" stroke="#201510" stroke-width="2.4" paint-order="stroke" stroke-linejoin="round" textLength="13.8" lengthAdjust="spacingAndGlyphs">#7</text>
<text x="563.5" y="111.2" font-size="14.5" fill="#f4f4f4" stroke="#201510" stroke-width="2.4" paint-order="stroke" stroke-linejoin="round" textLength="20.7" lengthAdjust="spacingAndGlyphs">#13</text>
</g>
<g clip-path="url(#clipb2)">
<rect x="595.6" y="16" width="186" height="185.5" fill="#000"/>
<path d="M647.0,14.0 C650.9,7.5 658.0,6.3 655.5,14.0 C653.0,21.7 631.0,67.0 626.0,80.0 C621.0,93.0 614.6,115.7 613.0,125.0 C611.4,134.3 610.7,154.2 612.0,160.0 C613.3,165.8 621.4,171.5 624.0,175.0 C626.6,178.5 632.1,186.7 634.0,190.0 C635.9,193.3 642.2,201.5 640.0,203.0 C637.8,204.5 619.0,208.0 615.0,203.0 C611.0,198.0 606.8,169.7 606.0,160.0 C605.2,150.3 606.1,130.5 608.0,120.0 C609.9,109.5 617.5,82.4 622.0,70.0 C626.5,57.6 643.1,20.5 647.0,14.0Z" fill="#141414" filter="url(#blur2)"/>
<path d="M655.5,16.0 C665.6,14.1 729.8,16.2 741.0,17.6 C752.2,19.0 750.2,25.3 751.6,28.2 C753.0,31.1 752.8,39.6 753.4,42.5 C754.0,45.4 756.4,50.2 757.0,53.1 C757.6,56.0 758.9,64.1 758.7,67.4 C758.5,70.7 755.4,78.7 755.2,81.6 C755.0,84.5 757.0,88.5 757.0,92.3 C757.0,96.1 756.0,110.4 755.2,114.0 C754.4,117.6 751.3,119.7 749.8,122.8 C748.3,125.9 744.6,136.4 742.7,140.6 C740.8,144.8 736.1,154.2 733.8,158.4 C731.5,162.6 725.6,172.0 723.1,176.2 C720.6,180.4 714.2,190.9 712.5,194.0 C710.8,197.1 717.1,201.9 708.9,203.0 C700.7,204.1 650.8,205.2 642.0,203.0 C633.2,200.8 635.8,188.3 633.6,184.4 C631.4,180.5 625.6,172.5 623.4,169.2 C621.2,165.9 616.1,160.2 615.0,155.7 C613.9,151.2 613.6,135.8 614.0,130.4 C614.4,125.0 616.9,114.1 618.4,109.0 C619.9,103.9 625.6,90.5 626.8,86.7 C628.0,82.9 626.7,80.6 628.5,76.5 C630.3,72.4 638.9,56.1 642.0,51.2 C645.1,46.3 653.1,38.4 654.7,34.3 C656.3,30.2 645.4,17.9 655.5,16.0Z" fill="#4e4e4e"/>
<g clip-path="url(#hbb2)"><ellipse cx="635.6" cy="136" rx="30" ry="55" fill="url(#lgb2)"/></g>
<g clip-path="url(#hbb2)"><rect x="595.6" y="16" width="186" height="185.5" filter="url(#lowf)" opacity="0.3"/><rect x="595.6" y="16" width="186" height="185.5" filter="url(#spk)" opacity="0.05"/></g>
<path d="M702.0,16.0 C707.3,14.8 735.2,16.2 741.0,17.6 C746.8,19.0 750.2,25.3 751.6,28.2 C753.0,31.1 752.8,39.6 753.4,42.5 C754.0,45.4 756.4,50.2 757.0,53.1 C757.6,56.0 758.9,64.1 758.7,67.4 C758.5,70.7 756.8,79.5 755.2,81.6 C753.6,83.7 748.5,86.1 745.0,85.0 C741.5,83.9 728.9,74.2 725.0,72.0 C721.1,69.8 714.9,67.4 712.0,66.0 C709.1,64.6 701.9,61.9 700.0,60.0 C698.1,58.1 696.1,53.3 695.6,49.6 C695.1,45.9 694.9,31.9 695.6,28.0 C696.3,24.1 696.7,17.2 702.0,16.0Z" fill="#565656" filter="url(#blur1)"/>
<path d="M720.0,58.0 C720.7,56.6 728.4,55.3 730.0,56.0 C731.6,56.7 734.7,62.6 734.0,64.0 C733.3,65.4 725.6,68.7 724.0,68.0 C722.4,67.3 719.3,59.4 720.0,58.0Z" fill="#484848" filter="url(#blur2)"/>
<path d="M742.0,64.0 C742.7,62.6 748.8,62.8 750.0,64.0 C751.2,65.2 752.7,72.6 752.0,74.0 C751.3,75.4 745.2,77.2 744.0,76.0 C742.8,74.8 741.3,65.4 742.0,64.0Z" fill="#484848" filter="url(#blur2)"/>
<path d="M656.4,14.0 C651.3,15.7 655.7,24.9 655.7,28.2 C655.7,31.5 656.1,39.5 656.4,42.5 C656.7,45.5 657.8,51.4 658.5,53.9 C659.2,56.4 662.1,61.5 662.8,63.8 C663.5,66.1 664.7,72.0 664.9,73.8 C665.1,75.6 664.0,78.0 664.2,79.5 C664.4,81.0 665.3,85.2 666.3,86.6 C667.3,88.0 670.8,91.1 672.7,91.6 C674.6,92.1 679.9,91.6 682.7,90.9 C685.5,90.2 694.2,86.5 696.9,85.2 C699.6,83.9 704.0,81.2 705.5,79.5 C707.0,77.8 709.5,72.7 709.8,71.0 C710.1,69.3 709.5,66.5 708.3,65.2 C707.1,63.9 701.1,61.3 699.8,59.6 C698.5,57.9 697.6,53.3 697.0,51.0 C696.4,48.7 695.0,42.4 694.8,39.6 C694.6,36.8 694.9,29.8 695.5,26.8 C696.1,23.8 704.4,15.5 699.8,14.0 C695.2,12.5 661.5,12.3 656.4,14.0Z" fill="#d9d9d9"/>
<path d="M657.0,22.0 C657.9,20.6 663.6,22.1 665.0,23.0 C666.4,23.9 668.8,27.8 669.0,30.0 C669.2,32.2 668.0,40.4 667.0,42.0 C666.0,43.6 661.2,44.8 660.0,44.0 C658.8,43.2 657.4,37.6 657.0,35.0 C656.6,32.4 656.1,23.4 657.0,22.0Z" fill="#f2f2f2" filter="url(#blur2)"/>
<path d="M664.0,50.0 C664.8,47.8 670.1,48.8 672.0,49.0 C673.9,49.2 677.9,51.9 680.0,52.0 C682.1,52.1 688.0,49.8 690.0,50.0 C692.0,50.2 695.8,52.8 697.0,54.0 C698.2,55.2 700.2,58.8 700.0,60.0 C699.8,61.2 696.9,63.3 695.0,64.0 C693.1,64.7 686.2,65.1 684.0,66.0 C681.8,66.9 677.6,71.1 676.0,72.0 C674.4,72.9 671.3,74.5 670.0,74.0 C668.7,73.5 665.7,70.8 665.0,68.0 C664.3,65.2 663.2,52.2 664.0,50.0Z" fill="#f7f7f7" filter="url(#blur1)"/>
<path d="M675.0,25.0 C676.6,23.4 687.8,20.8 690.0,22.0 C692.2,23.2 694.8,32.9 694.0,35.0 C693.2,37.1 685.1,39.9 683.0,40.0 C680.9,40.1 676.9,37.8 676.0,36.0 C675.1,34.2 673.4,26.6 675.0,25.0Z" fill="#e8e8e8" filter="url(#blur2)"/>
<path d="M647.0,16.0 C645.2,20.8 639.5,34.7 636.0,45.0 C632.5,55.3 629.0,67.2 626.0,78.0 C623.0,88.8 620.2,99.7 618.0,110.0 C615.8,120.3 613.8,135.0 613.0,140.0" fill="none" stroke="#3a3a3a" stroke-width="0.9" stroke-linecap="round" stroke-linejoin="round" opacity="1"/>
<path d="M650.5,79.0 C652.8,78.9 660.8,78.2 664.0,78.2 C667.2,78.2 669.0,78.9 670.0,79.0" fill="none" stroke="#b0b0b0" stroke-width="3.5" stroke-linecap="round" stroke-linejoin="round" opacity="1"/>
<path d="M640.3,105.3 C640.6,106.7 640.6,110.7 642.0,113.5 C643.4,116.3 646.5,119.7 648.8,121.9 C651.0,124.2 653.5,125.6 655.5,127.0 C657.5,128.4 657.2,128.2 660.6,130.4 C664.0,132.7 671.2,136.6 675.8,140.5 C680.4,144.4 686.0,151.8 688.0,154.0" fill="none" stroke="#d0d0d0" stroke-width="2.0" stroke-linecap="round" stroke-linejoin="round" opacity="1"/>
<path d="M703.6,99.4 C700.4,100.3 689.5,102.4 684.3,105.0 C679.1,107.6 675.8,112.0 672.4,115.1 C669.0,118.2 666.2,120.8 664.0,123.6 C661.8,126.4 660.4,128.6 659.0,132.0 C657.6,135.4 656.1,141.9 655.5,143.9" fill="none" stroke="#c8c8c8" stroke-width="1.6" stroke-linecap="round" stroke-linejoin="round" opacity="1"/>
<path d="M650.5,165.9 C650.6,168.4 650.9,174.8 651.3,181.0 C651.7,187.2 652.7,199.3 653.0,203.0" fill="none" stroke="#b0b0b0" stroke-width="1.2" stroke-linecap="round" stroke-linejoin="round" opacity="1"/>
<path d="M713.4,74.5 C715.0,75.7 719.7,79.2 723.1,81.6 C726.5,84.0 730.8,86.3 733.8,88.7 C736.8,91.1 739.2,93.5 741.0,95.9 C742.8,98.3 744.2,101.5 744.5,103.0 C744.8,104.5 743.9,103.2 742.7,105.0 C741.5,106.8 739.5,110.1 737.4,113.9 C735.3,117.8 732.1,123.6 730.3,128.1 C728.5,132.5 727.3,136.7 726.7,140.6 C726.1,144.5 725.5,148.0 726.7,151.3 C727.9,154.6 732.6,158.7 733.8,160.2" fill="none" stroke="#d0d0d0" stroke-width="1.8" stroke-linecap="round" stroke-linejoin="round" opacity="1"/>
<path d="M626.8,105.0 C625.7,107.8 621.4,116.8 620.0,121.9 C618.6,127.0 618.7,133.2 618.4,135.4" fill="none" stroke="#a8a8a8" stroke-width="1.3" stroke-linecap="round" stroke-linejoin="round" opacity="1"/>
<path d="M684.0,128.1 C685.2,127.5 688.7,124.3 691.1,124.6 C693.5,124.9 695.8,127.2 698.2,129.9 C700.6,132.6 703.3,136.4 705.4,140.6 C707.5,144.8 709.8,152.4 710.7,154.8" fill="none" stroke="#b4b4b4" stroke-width="1.1" stroke-linecap="round" stroke-linejoin="round" opacity="1"/>
<path d="M691.1,124.6 C690.8,127.3 689.3,134.4 689.3,140.6 C689.3,146.8 689.6,156.1 691.1,162.0 C692.6,167.9 694.9,172.6 698.2,176.2 C701.5,179.8 708.6,182.1 710.7,183.3" fill="none" stroke="#b4b4b4" stroke-width="1.1" stroke-linecap="round" stroke-linejoin="round" opacity="1"/>
<path d="M718.0,80.0 C719.2,82.5 722.7,89.3 725.0,95.0 C727.3,100.7 730.8,110.8 732.0,114.0" fill="none" stroke="#a0a0a0" stroke-width="1.0" stroke-linecap="round" stroke-linejoin="round" opacity="1"/>
<path d="M645.0,62.0 C645.5,62.8 646.5,66.5 648.0,67.0 C649.5,67.5 652.3,64.0 654.0,65.0 C655.7,66.0 657.3,71.7 658.0,73.0" fill="none" stroke="#909090" stroke-width="0.9" stroke-linecap="round" stroke-linejoin="round" opacity="1"/>
<path d="M664.0,78.2 C661.8,78.3 654.2,78.4 650.5,79.0 C646.8,79.6 644.4,80.3 642.0,81.6 C639.6,82.9 637.2,84.5 636.1,86.7 C635.0,89.0 634.9,92.8 635.3,95.1 C635.7,97.3 637.8,98.5 638.6,100.2 C639.4,101.9 640.0,104.5 640.3,105.3" fill="none" stroke="#fafafa" stroke-width="5.0" stroke-linecap="round"/>
<path d="M710.7,69.2 C709.8,71.6 708.1,79.0 705.4,83.4 C702.7,87.9 697.9,92.8 694.7,95.9 C691.5,99.0 687.5,101.0 686.0,102.0" fill="none" stroke="#fafafa" stroke-width="4.6" stroke-linecap="round"/>
<path d="M712.5,72.7 C711.9,75.4 710.3,84.5 708.9,88.7 C707.5,92.9 704.8,96.5 704.0,98.0" fill="none" stroke="#fafafa" stroke-width="3.2" stroke-linecap="round"/>
<path d="M654.0,149.0 C653.4,151.6 651.1,161.9 650.5,164.5" fill="none" stroke="#fafafa" stroke-width="5.4" stroke-linecap="round"/>
<ellipse cx="642" cy="112" rx="2" ry="1.6" fill="#fafafa" transform="rotate(70 642 112)"/>
<ellipse cx="648.8" cy="121.9" rx="2.4" ry="1.5" fill="#fafafa" transform="rotate(40 648.8 121.9)"/>
<ellipse cx="655.5" cy="127" rx="2" ry="1.4" fill="#fafafa" transform="rotate(35 655.5 127)"/>
<ellipse cx="675.8" cy="140.5" rx="2.2" ry="1.4" fill="#fafafa" transform="rotate(40 675.8 140.5)"/>
<ellipse cx="682" cy="147" rx="2" ry="1.3" fill="#fafafa" transform="rotate(45 682 147)"/>
<ellipse cx="688" cy="154" rx="1.8" ry="1.3" fill="#fafafa" transform="rotate(50 688 154)"/>
<ellipse cx="737.4" cy="113.9" rx="1.8" ry="1.3" fill="#fafafa" transform="rotate(-60 737.4 113.9)"/>
<ellipse cx="731" cy="126" rx="2" ry="1.3" fill="#fafafa" transform="rotate(-65 731 126)"/>
<ellipse cx="703.6" cy="99.4" rx="1.6" ry="1.4" fill="#fafafa" transform="rotate(0 703.6 99.4)"/>
<ellipse cx="700" cy="105" rx="1.4" ry="1.2" fill="#fafafa" transform="rotate(0 700 105)"/>
<ellipse cx="691" cy="150" rx="1.4" ry="1.2" fill="#fafafa" transform="rotate(70 691 150)"/>
<ellipse cx="694" cy="160" rx="1.6" ry="1.2" fill="#fafafa" transform="rotate(70 694 160)"/>
</g>
<rect x="17" y="215" width="73" height="221" fill="#000"/>
<path d="M44.0,251.0 C40.8,251.9 42.4,257.6 42.0,260.0 C41.6,262.4 41.0,272.3 40.5,275.0 C40.0,277.7 37.8,284.9 37.0,287.0 C36.2,289.1 33.5,293.9 33.0,296.0 C32.5,298.1 31.5,305.5 31.5,308.0 C31.5,310.5 32.5,318.8 33.0,321.0 C33.5,323.2 36.6,327.9 37.0,330.0 C37.4,332.1 36.6,339.5 36.5,342.0 C36.4,344.5 36.0,352.2 36.0,355.0 C36.0,357.8 35.8,367.2 36.3,370.0 C36.8,372.8 39.1,380.6 40.6,383.0 C42.1,385.4 49.0,391.6 51.0,394.0 C53.0,396.4 59.4,405.2 60.5,406.5 C61.6,407.8 60.0,407.1 62.0,406.5 C64.0,405.9 78.7,402.1 80.5,401.0 C82.3,399.9 81.2,396.3 80.5,395.0 C79.8,393.7 75.3,389.3 73.5,388.0 C71.7,386.7 63.6,383.2 62.0,382.0 C60.4,380.8 58.0,377.4 57.5,376.0 C57.0,374.6 56.4,369.7 56.5,368.0 C56.6,366.3 58.0,361.2 58.5,359.0 C59.0,356.8 60.8,348.5 61.0,346.0 C61.2,343.5 60.7,336.4 60.5,334.0 C60.3,331.6 59.4,324.6 59.0,322.0 C58.6,319.4 57.3,310.5 57.0,308.0 C56.7,305.5 55.6,299.1 56.0,297.0 C56.4,294.9 59.9,289.1 61.0,287.0 C62.1,284.9 66.0,278.3 67.0,276.0 C68.0,273.7 70.3,266.5 71.0,264.0 C71.7,261.5 76.7,252.3 74.0,251.0 C71.3,249.7 47.2,250.1 44.0,251.0Z" fill="#2b2050"/>
<path d="M47.3,248.0 C44.6,248.7 44.8,255.4 44.4,258.0 C44.0,260.6 43.7,270.9 43.4,273.7 C43.1,276.4 42.0,283.4 41.4,285.5 C40.8,287.6 38.1,293.1 37.5,295.2 C36.9,297.3 35.6,304.4 35.5,307.0 C35.4,309.6 36.0,319.0 36.5,320.7 C37.0,322.4 39.6,323.2 40.6,324.0 C41.6,324.8 46.2,326.8 47.0,328.5 C47.8,330.2 48.1,338.7 48.1,341.3 C48.1,343.9 47.4,351.8 47.0,354.2 C46.6,356.6 44.2,362.7 43.8,364.8 C43.4,366.9 42.4,373.6 42.7,375.5 C43.0,377.4 46.0,382.3 47.0,384.0 C48.0,385.7 50.9,390.6 52.4,392.6 C53.9,394.6 61.0,403.0 62.0,404.3 C63.0,405.6 60.4,405.8 62.0,405.4 C63.6,405.0 76.5,401.1 78.0,400.0 C79.5,398.9 77.7,395.9 76.9,394.7 C76.2,393.5 72.4,389.6 70.5,388.3 C68.6,387.0 59.5,383.2 57.7,381.9 C55.9,380.6 53.0,377.0 52.4,375.5 C51.8,374.0 51.1,368.7 51.3,367.0 C51.5,365.3 53.9,360.5 54.5,358.4 C55.1,356.3 57.5,348.2 57.7,345.6 C57.9,343.0 56.8,334.9 56.6,332.8 C56.4,330.7 55.8,326.2 55.6,325.0 C55.5,323.8 55.4,322.5 55.1,320.7 C54.8,318.9 52.6,309.6 52.2,307.0 C51.8,304.4 50.7,297.6 51.2,295.2 C51.7,292.8 55.7,285.6 57.0,283.5 C58.3,281.4 62.9,275.8 64.0,273.7 C65.1,271.6 67.0,264.2 67.8,262.0 C68.6,259.8 73.8,252.6 71.8,251.2 C69.8,249.8 50.0,247.3 47.3,248.0Z" fill="#fbfbfb"/>
<path d="M53.0,245.0 C53.8,244.2 58.5,243.1 60.0,243.0 C61.5,242.9 66.7,243.9 68.0,244.5 C69.3,245.1 73.2,248.2 73.5,249.0 C73.8,249.8 72.2,251.8 71.0,252.0 C69.8,252.2 63.9,250.6 62.0,250.5 C60.1,250.4 52.9,251.6 52.0,251.0 C51.1,250.4 52.2,245.8 53.0,245.0Z" fill="#3a9a34"/>
<line x1="37.4" y1="329.6" x2="66.2" y2="328.5" stroke="#c8506a" stroke-width="1.1"/>
<line x1="37.5" y1="337.7" x2="66.2" y2="337" stroke="#c8506a" stroke-width="1.1"/>
<line x1="38.5" y1="345.2" x2="66.2" y2="346.7" stroke="#c8506a" stroke-width="1.1"/>
<line x1="37.4" y1="357" x2="66.2" y2="358.4" stroke="#c8506a" stroke-width="1.1"/>
<line x1="36.3" y1="374.4" x2="65.2" y2="370.8" stroke="#c8506a" stroke-width="1.1"/>
<line x1="39.5" y1="388.3" x2="67.3" y2="376.6" stroke="#c8506a" stroke-width="1.1"/>
<text x="69.4" y="330.7" font-size="11.5" fill="#e8e8e8">a</text>
<text x="68.5" y="342.4" font-size="11.5" fill="#e8e8e8">b</text>
<text x="69" y="350.6" font-size="11.5" fill="#e8e8e8">c</text>
<text x="69" y="361.6" font-size="11.5" fill="#e8e8e8">d</text>
<text x="69" y="371.2" font-size="11.5" fill="#e8e8e8">e</text>
<text x="69.6" y="383" font-size="11.5" fill="#e8e8e8">f</text>
<rect x="92.5" y="215" width="110.5" height="221" fill="#000"/>
<text x="97.6" y="233" font-size="12" fill="#e8e8e8">a</text>
<text x="152.8" y="233" font-size="12" fill="#e8e8e8">b</text>
<text x="97.6" y="306.7" font-size="12" fill="#e8e8e8">c</text>
<text x="152.8" y="306.7" font-size="12" fill="#e8e8e8">d</text>
<text x="97.3" y="380.7" font-size="12" fill="#e8e8e8">e</text>
<text x="153.3" y="380.7" font-size="12" fill="#e8e8e8">f</text>
<g transform="rotate(0 121.2 255.9)">
<g clip-path="url(#csa)">
<rect x="98.6" y="231" width="45.20000000000002" height="49.80000000000001" fill="#2f9a3b"/>
<path d="M118.2,272.0 L120.2,276.7 L115.7,279.8 L110.0,279.0 L105.0,278.9 L101.6,275.9 L99.2,272.0 L100.1,267.4 L106.0,266.5 L110.0,265.9 L115.8,263.9 L118.4,268.1Z" fill="#f19b1f"/>
<path d="M142.3,270.0 L140.6,275.5 L133.9,276.1 L130.0,277.1 L124.2,279.1 L120.3,275.0 L119.2,270.0 L122.2,265.9 L124.7,261.8 L130.0,260.5 L135.2,261.9 L137.2,266.3Z" fill="#f19b1f"/>
<path d="M127.2,274.0 L127.3,276.6 L124.8,278.0 L122.0,279.3 L118.8,278.6 L117.9,276.0 L117.5,274.0 L115.9,271.1 L119.4,270.2 L122.0,269.7 L125.7,268.6 L127.1,271.5Z" fill="#eee23b"/>
<path d="M137.3,240.0 L136.5,242.8 L135.4,245.7 L133.0,245.8 L131.0,244.7 L128.9,243.3 L127.0,240.0 L128.0,236.0 L130.2,233.1 L133.0,234.0 L135.5,233.8 L136.8,236.9Z" fill="#eee23b"/>
<path d="M107.2,258.0 L106.9,262.5 L105.3,266.0 L103.0,267.8 L100.8,265.8 L98.8,262.8 L99.9,258.0 L99.6,254.1 L100.6,249.5 L103.0,249.4 L105.4,249.7 L105.8,254.8Z" fill="#f19b1f"/>
<path d="M142.6,258.0 L142.0,262.1 L140.0,264.0 L138.0,264.2 L136.5,262.5 L134.3,261.8 L134.1,258.0 L134.1,254.0 L136.1,252.3 L138.0,250.1 L139.8,252.6 L142.0,254.0Z" fill="#f19b1f"/>
</g>
<path d="M131.4,251.4 L128.3,254.0 L126.8,256.3 L127.0,260.4 L122.8,260.0 L119.9,260.6 L116.8,262.1 L113.9,260.5 L110.1,260.1 L109.5,256.6 L106.1,254.7 L107.6,251.4 L107.2,248.4 L107.7,245.1 L110.6,243.1 L113.1,240.8 L116.7,240.5 L119.9,242.4 L123.7,240.9 L126.1,243.3 L127.6,246.1 L128.5,248.7Z" fill="#fff"/>
</g>
<g transform="rotate(0 175.7 256.9)">
<g clip-path="url(#csb)">
<rect x="156.8" y="233" width="37.79999999999998" height="47.80000000000001" fill="#2f9a3b"/>
<path d="M169.5,266.0 L168.3,268.9 L167.2,272.5 L164.0,271.5 L160.9,272.2 L159.2,269.3 L159.3,266.0 L158.8,262.5 L161.7,261.3 L164.0,259.2 L166.4,261.2 L168.1,263.2Z" fill="#f19b1f"/>
<path d="M170.5,271.0 L171.3,273.5 L168.6,273.8 L167.0,275.4 L165.4,273.7 L164.0,272.7 L162.0,271.0 L164.0,269.3 L164.9,267.3 L167.0,267.1 L169.0,267.6 L170.5,269.0Z" fill="#eee23b"/>
<path d="M191.9,266.0 L190.5,269.3 L187.3,271.0 L184.0,274.3 L181.0,270.6 L177.1,269.5 L174.4,266.0 L178.5,263.2 L179.9,259.8 L184.0,258.6 L187.1,261.3 L190.5,262.7Z" fill="#eee23b"/>
<path d="M185.2,262.0 L184.2,263.9 L182.6,265.6 L180.0,265.4 L177.1,266.0 L175.0,264.3 L174.6,262.0 L176.4,260.3 L177.5,258.5 L180.0,258.3 L182.2,259.0 L185.3,259.5Z" fill="#f19b1f"/>
<path d="M181.9,240.0 L181.6,241.6 L179.2,242.8 L176.0,242.5 L173.7,242.0 L171.1,241.4 L170.7,240.0 L170.0,238.3 L172.7,237.2 L176.0,236.8 L179.1,237.3 L181.6,238.4Z" fill="#f19b1f"/>
<path d="M191.6,248.0 L191.8,250.2 L190.6,251.8 L189.0,252.7 L187.7,250.9 L186.8,249.7 L186.5,248.0 L186.8,246.3 L187.3,244.1 L189.0,244.7 L190.5,244.5 L191.2,246.3Z" fill="#f19b1f"/>
</g>
<path d="M182.0,251.4 L182.0,252.6 L181.5,253.7 L181.1,255.2 L179.2,255.5 L177.6,256.1 L175.9,255.4 L174.2,255.5 L172.4,255.1 L171.6,253.8 L170.2,252.8 L170.1,251.4 L171.2,250.2 L172.4,249.3 L172.5,247.8 L174.5,247.7 L176.0,247.6 L177.6,246.7 L179.4,246.9 L181.0,247.7 L182.4,248.7 L182.0,250.2Z" fill="#fff"/>
</g>
<g transform="rotate(0 122.7 329.4)">
<g clip-path="url(#csc)">
<rect x="101" y="305.7" width="43.30000000000001" height="47.30000000000001" fill="#2f9a3b"/>
<path d="M111.8,335.0 L112.7,339.4 L110.2,342.5 L107.0,344.8 L104.3,341.1 L102.4,338.5 L100.3,335.0 L101.4,330.7 L104.3,328.8 L107.0,326.3 L109.8,328.4 L112.9,330.4Z" fill="#f19b1f"/>
<path d="M142.9,338.0 L140.6,340.3 L140.2,343.8 L138.0,343.0 L135.5,344.5 L135.4,340.3 L133.2,338.0 L134.2,334.7 L135.6,331.9 L138.0,330.5 L139.7,333.5 L141.2,335.2Z" fill="#f19b1f"/>
<path d="M123.7,310.0 L123.4,311.5 L121.9,312.5 L120.0,312.9 L118.1,312.5 L116.3,311.6 L116.5,310.0 L116.3,308.4 L118.5,308.0 L120.0,307.3 L121.8,307.6 L122.8,308.8Z" fill="#f19b1f"/>
<path d="M138.0,313.0 L138.0,314.7 L136.5,316.2 L134.0,315.7 L131.7,315.9 L130.2,314.7 L129.7,313.0 L131.2,311.8 L132.5,311.0 L134.0,310.2 L136.2,310.1 L137.0,311.7Z" fill="#f19b1f"/>
</g>
<path d="M131.0,324.0 L129.4,325.8 L129.0,327.7 L127.5,329.1 L126.2,331.1 L123.9,331.6 L121.4,332.0 L119.8,329.9 L117.6,329.4 L116.9,327.4 L115.6,325.9 L114.7,324.0 L116.0,322.2 L116.5,320.4 L117.2,318.3 L119.3,317.3 L121.7,317.3 L123.9,316.6 L126.3,316.8 L127.2,319.2 L130.0,319.7 L130.8,321.8Z" fill="#fff"/>
</g>
<g transform="rotate(0 176.0 330.7)">
<g clip-path="url(#csd)">
<rect x="154.3" y="309.7" width="43.39999999999998" height="42.0" fill="#2f9a3b"/>
<path d="M162.4,330.0 L162.7,336.5 L160.8,339.5 L159.0,340.2 L157.0,340.3 L155.5,336.0 L155.0,330.0 L155.6,324.1 L157.2,320.8 L159.0,319.5 L161.2,318.6 L162.2,324.5Z" fill="#eee23b"/>
<path d="M165.4,331.0 L165.0,335.0 L163.0,337.1 L161.0,338.0 L159.1,336.7 L156.7,335.4 L157.4,331.0 L158.1,328.1 L159.2,325.7 L161.0,324.8 L162.8,325.5 L164.1,327.9Z" fill="#f19b1f"/>
<path d="M174.8,314.0 L173.8,315.6 L172.3,316.9 L170.0,317.6 L168.2,316.3 L166.3,315.6 L165.2,314.0 L165.9,312.2 L167.9,311.3 L170.0,311.5 L171.9,311.5 L174.3,312.1Z" fill="#f19b1f"/>
</g>
<path d="M190.5,332.0 L187.9,334.1 L188.4,337.0 L186.3,338.5 L184.7,340.9 L181.8,340.4 L179.3,341.6 L177.4,339.2 L174.2,339.5 L173.6,336.6 L173.1,334.2 L172.4,332.0 L172.0,329.5 L174.3,327.9 L175.2,325.6 L177.5,325.2 L179.6,324.4 L181.8,324.2 L184.0,324.7 L186.0,325.8 L188.5,326.9 L188.8,329.6Z" fill="#fff"/>
</g>
<g transform="rotate(0 122.0 404.6)">
<g clip-path="url(#cse)">
<rect x="98.3" y="379" width="47.39999999999999" height="51.30000000000001" fill="#2f9a3b"/>
<path d="M133.3,386.0 L135.2,390.4 L128.5,393.4 L120.0,393.9 L113.1,391.9 L104.1,390.6 L101.5,386.0 L106.1,382.0 L112.0,379.1 L120.0,379.1 L126.0,380.8 L133.0,382.3Z" fill="#eee23b"/>
<path d="M144.6,395.0 L141.0,398.7 L138.7,400.9 L136.0,406.2 L133.1,401.6 L131.1,398.6 L128.5,395.0 L130.4,390.8 L131.8,385.7 L136.0,387.2 L140.3,385.4 L141.5,390.9Z" fill="#f19b1f"/>
<path d="M108.8,415.0 L108.2,418.7 L106.4,421.2 L104.0,419.8 L101.9,420.4 L100.7,417.9 L99.9,415.0 L101.2,412.6 L102.3,410.6 L104.0,409.2 L105.7,410.5 L107.4,412.1Z" fill="#f19b1f"/>
<path d="M144.3,410.0 L144.0,413.5 L142.3,414.4 L141.0,417.5 L139.7,414.4 L138.2,413.3 L138.6,410.0 L138.1,406.6 L139.8,405.7 L141.0,403.4 L142.7,404.2 L143.9,406.6Z" fill="#eee23b"/>
</g>
<path d="M128.6,410.7 L127.3,413.3 L127.7,416.8 L125.9,417.7 L124.9,419.7 L123.5,421.7 L121.9,420.2 L120.4,419.8 L119.5,417.5 L117.6,416.8 L116.8,413.9 L117.8,410.7 L118.1,408.2 L118.2,405.3 L119.1,403.1 L120.3,400.9 L121.9,401.2 L123.4,400.6 L124.7,402.5 L125.9,403.8 L126.6,405.9 L127.8,407.8Z" fill="#fff"/>
</g>
<g transform="rotate(0 174.7 403.4)">
<g clip-path="url(#csf)">
<rect x="151.7" y="379" width="46.0" height="48.69999999999999" fill="#2f9a3b"/>
<path d="M167.5,398.0 L168.4,404.1 L164.7,408.1 L160.0,406.6 L155.3,408.3 L152.6,403.3 L153.8,398.0 L151.5,391.9 L156.5,390.4 L160.0,389.0 L163.8,389.7 L167.2,392.8Z" fill="#f19b1f"/>
<path d="M197.1,392.0 L193.6,395.8 L190.8,398.6 L187.0,401.5 L183.5,398.1 L178.1,397.1 L176.8,392.0 L181.0,388.5 L182.1,383.5 L187.0,383.0 L191.8,383.7 L196.6,386.5Z" fill="#f19b1f"/>
<path d="M178.4,386.0 L177.8,388.2 L176.1,390.3 L173.0,389.4 L171.0,388.7 L168.0,388.3 L168.4,386.0 L168.9,384.1 L170.1,382.0 L173.0,382.6 L176.0,381.8 L177.3,384.0Z" fill="#f19b1f"/>
<path d="M182.5,420.0 L181.6,421.6 L180.2,423.6 L176.0,423.4 L172.7,422.8 L169.2,422.0 L168.3,420.0 L170.1,418.3 L172.2,416.7 L176.0,415.3 L179.3,417.2 L181.8,418.3Z" fill="#eee23b"/>
<path d="M162.1,416.0 L161.2,417.8 L160.3,420.1 L158.0,419.6 L156.0,419.5 L154.8,417.8 L154.2,416.0 L153.7,413.5 L156.4,413.2 L158.0,412.1 L159.7,413.0 L161.2,414.2Z" fill="#eee23b"/>
</g>
<path d="M185.7,408.0 L186.6,410.1 L186.4,412.5 L183.7,413.3 L182.1,414.7 L179.8,415.0 L177.5,415.7 L175.2,415.0 L173.3,413.7 L171.1,412.5 L170.6,410.2 L171.1,408.0 L171.3,406.0 L171.7,403.9 L173.2,402.2 L175.6,401.9 L177.5,400.1 L179.8,400.9 L182.3,400.9 L183.3,403.1 L185.1,404.3 L185.3,406.2Z" fill="#fff"/>
</g>
<rect x="206.8" y="215" width="73.2" height="221" fill="#000"/>
<path d="M235.0,247.0 C231.5,249.1 228.4,262.0 227.0,266.0 C225.6,270.0 221.9,283.1 221.0,287.0 C220.1,290.9 218.3,301.9 218.0,305.0 C217.7,308.1 217.3,316.3 217.5,318.0 C217.7,319.7 219.0,320.1 220.0,322.0 C221.0,323.9 226.3,332.9 227.4,337.0 C228.5,341.1 230.2,358.4 230.6,362.7 C231.0,367.0 230.0,375.7 231.7,379.7 C233.4,383.7 245.6,400.3 247.7,403.0 C249.8,405.7 252.2,406.6 253.0,407.0 C253.8,407.4 254.2,407.9 256.0,407.0 C257.8,406.1 269.2,399.8 270.5,398.0 C271.8,396.2 269.9,390.5 268.9,389.0 C267.9,387.5 262.2,385.4 260.9,383.3 C259.6,381.2 257.1,371.9 256.2,367.7 C255.3,363.5 253.0,345.8 252.0,341.0 C251.0,336.2 247.6,322.8 246.6,320.0 C245.6,317.2 242.4,314.9 242.0,313.0 C241.6,311.1 241.5,303.6 242.5,301.0 C243.5,298.4 250.1,290.1 252.0,287.0 C253.9,283.9 260.7,273.4 262.0,270.0 C263.3,266.6 264.7,255.9 264.7,253.4 C264.7,250.9 265.0,245.6 262.0,245.0 C259.0,244.4 238.5,244.9 235.0,247.0Z" fill="#2b2050"/>
<path d="M237.0,245.5 C234.1,247.3 231.7,260.0 230.6,264.0 C229.5,268.0 227.1,281.3 226.3,285.4 C225.6,289.5 223.5,301.4 223.1,304.6 C222.7,307.8 222.0,316.0 222.0,317.5 C222.0,319.0 222.2,318.5 223.1,320.0 C224.0,321.5 229.5,329.6 230.6,332.8 C231.7,336.0 233.4,347.9 233.8,352.0 C234.2,356.1 234.3,369.8 234.9,373.4 C235.5,377.0 238.3,385.1 240.2,388.3 C242.1,391.5 252.7,403.7 254.1,405.4 C255.5,407.1 252.6,405.9 254.1,405.4 C255.6,404.9 267.6,401.1 269.0,400.0 C270.4,398.9 268.4,395.9 268.0,394.7 C267.6,393.5 266.0,389.4 264.8,388.3 C263.6,387.2 257.6,385.5 256.2,384.0 C254.8,382.5 251.5,376.6 250.9,373.4 C250.3,370.2 250.1,356.1 249.8,352.0 C249.5,347.9 248.3,336.0 247.7,332.8 C247.1,329.6 244.4,322.0 243.4,320.0 C242.4,318.0 238.4,315.2 238.0,313.2 C237.6,311.2 238.2,303.2 239.2,300.4 C240.2,297.6 245.8,288.6 247.7,285.4 C249.6,282.2 257.2,272.3 258.4,268.4 C259.6,264.5 261.5,248.3 259.4,246.0 C257.3,243.7 239.9,243.7 237.0,245.5Z" fill="#fbfbfb"/>
<line x1="228.5" y1="340.3" x2="257.3" y2="333.2" stroke="#c8506a" stroke-width="1.1"/>
<line x1="230.6" y1="345.6" x2="257.3" y2="341.3" stroke="#c8506a" stroke-width="1.1"/>
<line x1="230.6" y1="351.6" x2="259.4" y2="351" stroke="#c8506a" stroke-width="1.1"/>
<line x1="232.7" y1="362.7" x2="261.6" y2="364.8" stroke="#c8506a" stroke-width="1.1"/>
<line x1="231.7" y1="378" x2="260.5" y2="372.3" stroke="#c8506a" stroke-width="1.1"/>
<line x1="233.8" y1="387.9" x2="261.6" y2="377.2" stroke="#c8506a" stroke-width="1.1"/>
<text x="258.4" y="333.9" font-size="11.5" fill="#e8e8e8">a</text>
<text x="258.6" y="345.6" font-size="11.5" fill="#e8e8e8">b</text>
<text x="259.4" y="354" font-size="11.5" fill="#e8e8e8">c</text>
<text x="260.3" y="366" font-size="11.5" fill="#e8e8e8">d</text>
<text x="260.3" y="374.4" font-size="11.5" fill="#e8e8e8">e</text>
<text x="261.5" y="384" font-size="11.5" fill="#e8e8e8">f</text>
<rect x="282" y="215" width="110" height="221" fill="#000"/>
<text x="288" y="233" font-size="12" fill="#e8e8e8">a</text>
<text x="342.8" y="233" font-size="12" fill="#e8e8e8">b</text>
<text x="289" y="307.3" font-size="12" fill="#e8e8e8">c</text>
<text x="343.7" y="307.3" font-size="12" fill="#e8e8e8">d</text>
<text x="287.7" y="380.7" font-size="12" fill="#e8e8e8">e</text>
<text x="343.7" y="380.7" font-size="12" fill="#e8e8e8">f</text>
<g transform="rotate(-22 311.9 254.9)">
<g clip-path="url(#csa2)">
<rect x="291.5" y="231" width="40.80000000000001" height="47.80000000000001" fill="#2f9a3b"/>
<path d="M303.3,268.0 L302.9,271.6 L301.3,275.4 L298.0,277.8 L295.1,274.4 L293.1,271.6 L291.9,268.0 L291.2,262.9 L295.1,261.6 L298.0,257.9 L301.8,259.6 L303.0,264.3Z" fill="#eee23b"/>
<path d="M328.9,238.0 L328.7,240.6 L327.3,242.7 L325.0,245.2 L322.5,243.2 L320.2,241.3 L321.0,238.0 L320.7,235.0 L322.1,231.9 L325.0,231.9 L328.1,231.6 L330.2,234.4Z" fill="#eee23b"/>
<path d="M321.2,272.0 L320.5,273.6 L318.1,275.0 L314.0,274.7 L310.2,274.8 L306.8,273.8 L305.6,272.0 L308.9,270.7 L310.2,269.2 L314.0,268.8 L317.5,269.4 L321.5,270.2Z" fill="#f19b1f"/>
</g>
<path d="M320.0,251.0 L320.6,254.4 L319.4,257.5 L318.4,261.3 L315.5,262.9 L312.5,263.8 L309.5,263.5 L307.2,260.9 L303.7,261.1 L302.7,257.4 L301.2,254.5 L302.1,251.0 L301.9,247.8 L301.8,243.9 L305.1,242.9 L307.3,241.4 L309.6,239.7 L312.4,239.6 L315.1,240.1 L317.5,242.0 L318.7,245.1 L319.3,248.1Z" fill="#fff"/>
</g>
<g transform="rotate(30 364.8 256.9)">
<g clip-path="url(#csb2)">
<rect x="345.5" y="235.5" width="38.5" height="42.80000000000001" fill="#2f9a3b"/>
<path d="M353.0,255.0 L352.7,261.3 L351.8,267.2 L350.0,269.4 L348.2,267.4 L347.6,260.6 L346.3,255.0 L347.5,249.2 L348.6,245.6 L350.0,245.4 L351.5,244.5 L352.1,250.0Z" fill="#eee23b"/>
<path d="M382.1,250.0 L381.9,255.1 L380.7,258.8 L379.0,260.6 L377.7,257.0 L375.8,255.5 L375.9,250.0 L376.1,244.9 L377.3,241.2 L379.0,239.1 L380.3,243.1 L381.4,245.8Z" fill="#eee23b"/>
<path d="M378.7,244.0 L379.2,245.9 L377.8,247.2 L376.0,247.6 L374.3,247.0 L372.9,245.8 L373.7,244.0 L373.2,242.4 L374.7,241.7 L376.0,240.7 L377.4,241.5 L378.7,242.5Z" fill="#f19b1f"/>
<path d="M364.4,273.0 L362.8,273.8 L362.1,274.8 L360.0,275.3 L357.7,275.0 L356.5,274.0 L355.7,273.0 L356.8,272.1 L358.0,271.2 L360.0,271.4 L362.2,271.1 L363.6,271.9Z" fill="#f19b1f"/>
</g>
<path d="M373.8,255.0 L373.8,258.4 L372.7,261.6 L371.0,264.3 L369.1,266.8 L366.4,268.4 L363.7,267.5 L360.9,266.9 L359.0,264.2 L357.5,261.4 L355.5,258.7 L354.8,255.0 L356.2,251.6 L357.2,248.3 L359.8,247.0 L360.9,243.0 L363.7,242.7 L366.3,242.7 L368.4,245.1 L371.0,245.7 L372.8,248.3 L372.8,251.9Z" fill="#fff"/>
</g>
<g transform="rotate(0 310.3 330.0)">
<g clip-path="url(#csc2)">
<rect x="287.3" y="307" width="46.0" height="46" fill="#2f9a3b"/>
<path d="M297.3,328.0 L296.3,334.8 L295.2,341.5 L293.0,339.0 L290.8,341.3 L289.8,334.6 L288.8,328.0 L290.1,322.2 L291.2,316.8 L293.0,315.6 L294.8,316.9 L296.9,320.2Z" fill="#eee23b"/>
<path d="M299.4,344.0 L299.4,346.4 L298.2,348.8 L296.0,348.3 L293.6,349.1 L293.0,346.2 L292.7,344.0 L292.6,341.6 L294.2,340.0 L296.0,338.5 L298.4,338.7 L300.3,340.9Z" fill="#eee23b"/>
<path d="M294.1,336.0 L294.0,337.9 L293.1,338.9 L292.0,339.8 L290.7,339.6 L289.7,338.1 L289.8,336.0 L290.0,334.1 L291.0,333.1 L292.0,331.4 L293.1,332.9 L294.6,333.6Z" fill="#f19b1f"/>
<path d="M331.4,330.0 L331.6,332.4 L330.0,332.7 L329.0,333.6 L327.5,334.3 L326.7,332.2 L327.0,330.0 L327.0,328.2 L327.5,325.9 L329.0,326.1 L330.0,327.4 L331.6,327.6Z" fill="#f19b1f"/>
<path d="M321.4,347.0 L320.1,348.2 L319.3,349.3 L318.0,350.0 L316.8,349.0 L315.1,348.7 L315.7,347.0 L315.8,345.7 L316.3,344.1 L318.0,343.5 L319.4,344.5 L321.2,345.1Z" fill="#eee23b"/>
</g>
<path d="M322.4,329.3 L323.6,333.4 L320.7,336.2 L319.8,340.5 L316.4,342.4 L312.7,342.7 L309.1,343.6 L305.6,342.3 L303.7,338.5 L300.2,336.9 L298.4,333.4 L298.2,329.3 L297.5,324.9 L299.6,321.2 L303.0,319.1 L306.1,317.5 L309.4,316.9 L313.0,314.2 L316.6,315.9 L319.6,318.4 L321.5,321.9 L323.2,325.4Z" fill="#fff"/>
</g>
<g transform="rotate(-25 363.8 329.4)">
<g clip-path="url(#csd2)">
<rect x="341.5" y="306" width="44.5" height="46.69999999999999" fill="#2f9a3b"/>
<path d="M381.1,310.0 L375.6,311.9 L374.1,314.9 L365.0,314.2 L356.2,314.8 L354.6,311.9 L350.8,310.0 L350.7,307.4 L356.3,305.3 L365.0,304.0 L372.6,305.9 L377.3,307.8Z" fill="#eee23b"/>
<path d="M377.4,311.0 L375.5,312.5 L372.2,313.5 L368.0,315.2 L362.8,314.1 L358.5,312.9 L357.7,311.0 L359.8,309.4 L362.4,307.6 L368.0,307.4 L373.7,307.5 L377.4,309.1Z" fill="#f19b1f"/>
<path d="M350.2,331.0 L349.8,337.5 L348.0,341.3 L346.0,342.9 L344.2,340.6 L342.0,338.0 L342.5,331.0 L343.2,326.2 L344.3,322.3 L346.0,318.7 L348.4,318.7 L349.5,324.9Z" fill="#eee23b"/>
<path d="M349.7,330.0 L348.7,331.5 L348.1,333.1 L347.0,333.4 L345.6,333.9 L344.6,332.2 L344.0,330.0 L345.3,328.4 L345.8,326.7 L347.0,326.9 L348.1,327.0 L349.2,328.0Z" fill="#f19b1f"/>
<path d="M380.3,345.0 L380.9,346.6 L379.2,347.1 L378.0,347.9 L376.4,347.8 L375.0,346.7 L375.1,345.0 L375.4,343.5 L376.9,343.0 L378.0,342.1 L379.4,342.6 L381.1,343.2Z" fill="#f19b1f"/>
<path d="M369.2,349.0 L368.1,350.5 L364.3,350.7 L362.0,351.2 L359.4,350.9 L356.2,350.4 L356.0,349.0 L356.6,347.7 L358.6,346.6 L362.0,346.4 L365.5,346.5 L366.2,348.0Z" fill="#eee23b"/>
</g>
<path d="M374.9,330.0 L375.0,333.5 L373.5,336.7 L371.5,339.6 L368.8,342.1 L365.3,342.7 L362.0,340.8 L359.1,340.1 L356.1,339.0 L354.1,336.3 L351.0,333.8 L351.3,330.0 L352.6,326.6 L354.2,323.8 L356.5,321.6 L358.6,318.8 L361.7,316.7 L365.0,319.2 L368.2,319.2 L370.7,321.3 L373.5,323.3 L373.8,326.9Z" fill="#fff"/>
</g>
<g transform="rotate(25 311.0 400.7)">
<g clip-path="url(#cse2)">
<rect x="290" y="374" width="42" height="53.39999999999998" fill="#eee23b"/>
<path d="M327.3,401.0 L326.4,405.4 L325.7,409.7 L322.7,412.2 L321.8,416.7 L319.3,419.6 L316.1,420.6 L313.1,421.5 L310.0,420.7 L306.9,420.4 L303.9,419.2 L300.9,417.3 L299.2,413.3 L297.9,409.4 L297.3,405.2 L295.9,401.0 L297.2,396.8 L298.8,393.2 L299.3,388.7 L301.4,385.6 L303.6,382.1 L306.9,381.5 L309.9,379.8 L313.0,380.9 L316.1,381.3 L318.5,384.3 L321.5,385.7 L323.1,389.4 L325.0,392.7 L325.6,396.9Z" fill="#2f9a3b"/>
<path d="M319.8,380.0 L319.5,382.0 L318.4,384.1 L316.0,383.4 L314.3,383.0 L313.4,381.5 L312.8,380.0 L313.4,378.5 L314.3,377.1 L316.0,376.0 L318.5,375.7 L319.8,377.8Z" fill="#f19b1f"/>
<path d="M330.7,395.0 L330.6,397.0 L329.2,397.7 L328.0,398.7 L326.8,397.7 L326.0,396.5 L325.3,395.0 L325.9,393.4 L326.6,391.9 L328.0,390.5 L329.2,392.3 L330.8,392.9Z" fill="#f19b1f"/>
<path d="M297.6,405.0 L296.5,406.9 L295.6,408.6 L294.0,409.7 L292.7,408.0 L291.4,407.0 L290.9,405.0 L290.8,402.6 L292.9,402.3 L294.0,401.9 L295.4,401.8 L297.0,402.7Z" fill="#f19b1f"/>
</g>
<path d="M322.0,403.5 L321.9,407.7 L319.9,410.9 L319.3,415.8 L316.4,417.5 L313.5,418.9 L310.6,417.7 L307.5,417.9 L305.0,415.2 L303.4,411.5 L303.5,407.1 L302.1,403.5 L301.1,398.9 L303.5,395.5 L305.7,392.9 L307.7,389.8 L310.7,390.6 L313.4,389.8 L316.5,389.3 L318.5,392.6 L320.1,395.9 L322.9,398.9Z" fill="#fff"/>
</g>
<g transform="rotate(25 364.4 402.0)">
<g clip-path="url(#csf2)">
<rect x="343.5" y="376.5" width="41.69999999999999" height="51.0" fill="#eee23b"/>
<path d="M379.9,402.3 L379.6,406.4 L378.3,410.2 L377.1,414.0 L374.7,416.7 L372.2,419.1 L369.2,419.8 L366.3,420.6 L363.3,422.1 L360.6,419.6 L357.2,419.7 L354.9,416.9 L353.1,413.5 L350.7,410.6 L350.6,406.3 L350.2,402.3 L349.6,398.1 L351.3,394.4 L352.8,390.8 L355.7,389.0 L357.3,385.1 L360.4,384.3 L363.4,383.9 L366.4,382.5 L369.4,384.1 L372.0,386.1 L374.7,388.0 L376.4,391.3 L378.2,394.5 L379.9,398.1Z" fill="#2f9a3b"/>
<path d="M369.7,382.0 L369.3,383.4 L368.0,384.5 L366.0,384.8 L364.0,384.6 L362.7,383.4 L362.9,382.0 L362.7,380.6 L364.5,380.0 L366.0,379.6 L367.8,379.7 L370.3,380.2Z" fill="#f19b1f"/>
<path d="M382.1,398.0 L381.1,399.6 L380.7,401.8 L379.0,401.6 L377.2,402.2 L376.8,399.7 L375.6,398.0 L376.8,396.3 L377.2,393.7 L379.0,393.3 L380.2,395.2 L381.8,395.9Z" fill="#f19b1f"/>
<path d="M350.4,410.0 L350.5,411.9 L349.2,412.8 L348.0,414.5 L346.5,413.5 L346.0,411.5 L345.7,410.0 L345.1,407.8 L346.8,407.1 L348.0,405.5 L349.6,406.3 L350.6,408.0Z" fill="#f19b1f"/>
</g>
<path d="M375.7,403.0 L375.2,406.6 L375.3,410.8 L372.9,413.9 L369.0,414.2 L366.3,417.1 L362.7,417.5 L359.3,415.9 L358.0,411.5 L353.5,411.0 L354.2,406.4 L352.0,403.0 L354.5,399.7 L354.6,395.8 L357.2,393.4 L359.5,390.5 L362.7,389.2 L366.3,388.9 L369.7,390.1 L372.8,392.1 L374.5,395.7 L375.6,399.3Z" fill="#fff"/>
</g>
<line x1="444" y1="255.2" x2="777" y2="255.2" stroke="#9a9a9a" stroke-width="1" stroke-dasharray="3.2 2.6"/>
<line x1="444" y1="285.2" x2="777" y2="285.2" stroke="#9a9a9a" stroke-width="1" stroke-dasharray="3.2 2.6"/>
<line x1="444" y1="315.2" x2="777" y2="315.2" stroke="#9a9a9a" stroke-width="1" stroke-dasharray="3.2 2.6"/>
<line x1="444" y1="375.2" x2="777" y2="375.2" stroke="#9a9a9a" stroke-width="1" stroke-dasharray="3.2 2.6"/>
<line x1="444" y1="405.2" x2="777" y2="405.2" stroke="#9a9a9a" stroke-width="1" stroke-dasharray="3.2 2.6"/>
<line x1="444" y1="435.2" x2="777" y2="435.2" stroke="#9a9a9a" stroke-width="1" stroke-dasharray="3.2 2.6"/>
<line x1="553.1" y1="238" x2="553.1" y2="437" stroke="#777" stroke-width="1.4" stroke-dasharray="3.2 2.6"/>
<line x1="664" y1="238" x2="664" y2="437" stroke="#777" stroke-width="1.4" stroke-dasharray="3.2 2.6"/>
<rect x="449.3" y="345.2" width="9.9" height="84.0" fill="#ecb540"/>
<rect x="464.3" y="345.2" width="9.9" height="19.5" fill="#ecb540"/>
<rect x="479.4" y="345.2" width="9.9" height="34.5" fill="#ecb540"/>
<rect x="494.4" y="345.2" width="10.2" height="70.5" fill="#ecb540"/>
<rect x="509.8" y="345.2" width="10.1" height="55.5" fill="#ecb540"/>
<rect x="530.1" y="345.2" width="13.5" height="46.5" fill="#c9932e"/>
<rect x="560" y="345.2" width="10.0" height="6.0" fill="#8cc575"/>
<rect x="575" y="345.2" width="10.0" height="19.5" fill="#8cc575"/>
<rect x="590" y="345.2" width="10.0" height="0.4" fill="#8cc575"/>
<rect x="605" y="345.2" width="10.7" height="22.5" fill="#8cc575"/>
<rect x="621" y="345.2" width="10.0" height="25.5" fill="#8cc575"/>
<rect x="641.5" y="345.2" width="13" height="21.8" fill="#3f8b5b"/>
<rect x="671" y="321.9" width="10.0" height="23.2" fill="#e67f7b"/>
<rect x="686" y="311.4" width="10.0" height="33.8" fill="#e67f7b"/>
<rect x="716.5" y="252.2" width="10.0" height="93.0" fill="#e67f7b"/>
<rect x="731.5" y="281.1" width="10.0" height="64.1" fill="#e67f7b"/>
<rect x="701.5" y="345.2" width="10" height="2.3" fill="#e67f7b"/>
<rect x="752" y="296.1" width="13" height="49.1" fill="#d93b2c"/>
<line x1="441" y1="345.2" x2="777" y2="345.2" stroke="#222" stroke-width="1.6"/>
<line x1="442" y1="238" x2="442" y2="436" stroke="#2a2220" stroke-width="2.2"/>
<line x1="438" y1="255.2" x2="442" y2="255.2" stroke="#222" stroke-width="1.2"/>
<line x1="438" y1="285.2" x2="442" y2="285.2" stroke="#222" stroke-width="1.2"/>
<line x1="438" y1="315.2" x2="442" y2="315.2" stroke="#222" stroke-width="1.2"/>
<line x1="438" y1="345.2" x2="442" y2="345.2" stroke="#222" stroke-width="1.2"/>
<line x1="438" y1="375.2" x2="442" y2="375.2" stroke="#222" stroke-width="1.2"/>
<line x1="438" y1="405.2" x2="442" y2="405.2" stroke="#222" stroke-width="1.2"/>
<line x1="438" y1="435.2" x2="442" y2="435.2" stroke="#222" stroke-width="1.2"/>
<text x="437.5" y="260.1" font-size="13.6" fill="#3a3a3a" text-anchor="end">60</text>
<text x="437.5" y="290.1" font-size="13.6" fill="#3a3a3a" text-anchor="end">40</text>
<text x="437.5" y="320.1" font-size="13.6" fill="#3a3a3a" text-anchor="end">20</text>
<text x="437.5" y="350.1" font-size="13.6" fill="#3a3a3a" text-anchor="end">0</text>
<text x="437.5" y="380.1" font-size="13.6" fill="#3a3a3a" text-anchor="end">-20</text>
<text x="437.5" y="410.1" font-size="13.6" fill="#3a3a3a" text-anchor="end">-40</text>
<text x="437.5" y="440.1" font-size="13.6" fill="#3a3a3a" text-anchor="end">-60</text>
<text x="449.3" y="341.3" font-size="11" fill="#333" textLength="9.5" lengthAdjust="spacingAndGlyphs">#1</text>
<text x="464.3" y="341.3" font-size="11" fill="#333" textLength="9.7" lengthAdjust="spacingAndGlyphs">#3</text>
<text x="479.4" y="341.3" font-size="11" fill="#333" textLength="9.6" lengthAdjust="spacingAndGlyphs">#5</text>
<text x="494.4" y="341.3" font-size="11" fill="#333" textLength="10.1" lengthAdjust="spacingAndGlyphs">#7</text>
<text x="505.3" y="341.3" font-size="11" fill="#333" textLength="19.6" lengthAdjust="spacingAndGlyphs">#11,13</text>
<text x="528.6" y="341.3" font-size="11" fill="#333" textLength="16.5" lengthAdjust="spacingAndGlyphs">Total</text>
<text x="560.3" y="341.3" font-size="11" fill="#333" textLength="9.5" lengthAdjust="spacingAndGlyphs">#1</text>
<text x="575.3" y="341.3" font-size="11" fill="#333" textLength="9.7" lengthAdjust="spacingAndGlyphs">#3</text>
<text x="590.4" y="341.3" font-size="11" fill="#333" textLength="9.6" lengthAdjust="spacingAndGlyphs">#5</text>
<text x="605.4" y="341.3" font-size="11" fill="#333" textLength="10.1" lengthAdjust="spacingAndGlyphs">#7</text>
<text x="616.3" y="341.3" font-size="11" fill="#333" textLength="19.6" lengthAdjust="spacingAndGlyphs">#11,13</text>
<text x="639.6" y="341.3" font-size="11" fill="#333" textLength="16.5" lengthAdjust="spacingAndGlyphs">Total</text>
<text x="671.3" y="360" font-size="11" fill="#333" textLength="9.5" lengthAdjust="spacingAndGlyphs">#1</text>
<text x="686.3" y="360" font-size="11" fill="#333" textLength="9.7" lengthAdjust="spacingAndGlyphs">#3</text>
<text x="701.4" y="360" font-size="11" fill="#333" textLength="9.6" lengthAdjust="spacingAndGlyphs">#5</text>
<text x="716.4" y="360" font-size="11" fill="#333" textLength="10.1" lengthAdjust="spacingAndGlyphs">#7</text>
<text x="727.3" y="360" font-size="11" fill="#333" textLength="19.6" lengthAdjust="spacingAndGlyphs">#11,13</text>
<text x="750.6" y="360" font-size="11" fill="#333" textLength="16.5" lengthAdjust="spacingAndGlyphs">Total</text>
<rect x="446" y="216" width="102" height="19.5" fill="#f8dea6" stroke="#ecb74c" stroke-width="1"/>
<rect x="558" y="216" width="102.5" height="19.5" fill="#c8e2b6" stroke="#8fc66f" stroke-width="1"/>
<rect x="669.5" y="216" width="102" height="19.5" fill="#f4c7c3" stroke="#e2817f" stroke-width="1"/>
<text x="451.3" y="231.3" font-size="13" fill="#333" textLength="91.7" lengthAdjust="spacingAndGlyphs">Low attenuation wall</text>
<text x="562.4" y="231.3" font-size="13" fill="#333" textLength="92.9" lengthAdjust="spacingAndGlyphs">High attenuation wall</text>
<text x="720.5" y="231.3" font-size="13.5" fill="#333" text-anchor="middle">Lumen</text>
<text x="461.2" y="247.8" font-size="13.5" fill="#333" textLength="3.4" lengthAdjust="spacingAndGlyphs">(</text>
<text x="464.6" y="247.8" font-size="13.5" fill="#333" textLength="14.6" lengthAdjust="spacingAndGlyphs">-25</text>
<text x="498.4" y="247.8" font-size="13.5" fill="#333" textLength="12.9" lengthAdjust="spacingAndGlyphs">40</text>
<text x="513" y="247.8" font-size="13.5" fill="#333" textLength="15.2" lengthAdjust="spacingAndGlyphs">HU</text>
<text x="529.3" y="247.8" font-size="13.5" fill="#333" textLength="3.4" lengthAdjust="spacingAndGlyphs">)</text>
<path d="M483.7,243.9 C485.96,240.74 487.655,241.70000000000002 489.35,243.3 S492.74,245.86 495,242.70000000000002" fill="none" stroke="#333" stroke-width="1.05"/>
<text x="571.2" y="247.8" font-size="13.5" fill="#333" textLength="3.8" lengthAdjust="spacingAndGlyphs">(</text>
<text x="575" y="247.8" font-size="13.5" fill="#333" textLength="12.3" lengthAdjust="spacingAndGlyphs">40</text>
<text x="605.7" y="247.8" font-size="13.5" fill="#333" textLength="17.5" lengthAdjust="spacingAndGlyphs">215</text>
<text x="625" y="247.8" font-size="13.5" fill="#333" textLength="16.6" lengthAdjust="spacingAndGlyphs">HU</text>
<text x="642.5" y="247.8" font-size="13.5" fill="#333" textLength="4.0" lengthAdjust="spacingAndGlyphs">)</text>
<path d="M590.8,243.9 C593.0799999999999,240.74 594.79,241.70000000000002 596.5,243.3 S599.9200000000001,245.86 602.2,242.70000000000002" fill="none" stroke="#333" stroke-width="1.05"/>
<text x="680" y="247.8" font-size="13.5" fill="#333" textLength="3.6" lengthAdjust="spacingAndGlyphs">(</text>
<text x="684" y="247.8" font-size="13.5" fill="#333" textLength="18.0" lengthAdjust="spacingAndGlyphs">215</text>
<text x="720.6" y="247.8" font-size="13.5" fill="#333" textLength="18.0" lengthAdjust="spacingAndGlyphs">700</text>
<text x="739.8" y="247.8" font-size="13.5" fill="#333" textLength="16.2" lengthAdjust="spacingAndGlyphs">HU</text>
<text x="757.2" y="247.8" font-size="13.5" fill="#333" textLength="3.4" lengthAdjust="spacingAndGlyphs">)</text>
<path d="M706,243.9 C708.24,240.74 709.92,241.70000000000002 711.6,243.3 S714.96,245.86 717.2,242.70000000000002" fill="none" stroke="#333" stroke-width="1.05"/>
<text transform="translate(415.5,341.3) rotate(-90)" font-size="14" fill="#3a3a3a" text-anchor="middle" textLength="172" lengthAdjust="spacingAndGlyphs">% changes of each volume (%)</text>
<g clip-path="url(#sp17)">
<rect x="17" y="463" width="182.7" height="79" fill="#2c4fac"/>
<path d="M22.6,491.8 C24.2,490.0 32.7,487.6 34.7,485.7 C36.7,483.8 36.5,477.6 37.7,477.4 C38.9,477.2 40.9,484.1 43.7,484.2 C46.5,484.3 55.7,479.6 58.9,478.2 C62.1,476.8 65.8,473.6 68.0,473.6 C70.2,473.6 73.3,476.2 75.5,478.2 C77.7,480.2 82.6,485.9 84.6,488.7 C86.6,491.5 89.4,496.7 90.6,499.3 C91.8,501.9 93.7,506.0 93.7,508.4 C93.7,510.8 93.0,514.7 90.6,517.5 C88.2,520.3 79.5,527.0 75.5,529.6 C71.5,532.2 64.4,535.1 60.4,537.2 C56.4,539.3 51.4,544.0 45.3,545.0 C39.2,546.0 19.0,546.7 15.0,545.0 C11.0,543.3 14.0,535.5 15.0,532.6 C16.0,529.7 21.8,526.5 22.6,523.5 C23.4,520.5 21.0,513.2 21.0,510.0 C21.0,506.8 22.4,501.7 22.6,499.3 C22.8,496.9 21.0,493.6 22.6,491.8Z" fill="none" stroke="#3a8cb8" stroke-width="5" filter="url(#blur2)" opacity="0.6"/>
<path d="M22.6,491.8 C24.2,490.0 32.7,487.6 34.7,485.7 C36.7,483.8 36.5,477.6 37.7,477.4 C38.9,477.2 40.9,484.1 43.7,484.2 C46.5,484.3 55.7,479.6 58.9,478.2 C62.1,476.8 65.8,473.6 68.0,473.6 C70.2,473.6 73.3,476.2 75.5,478.2 C77.7,480.2 82.6,485.9 84.6,488.7 C86.6,491.5 89.4,496.7 90.6,499.3 C91.8,501.9 93.7,506.0 93.7,508.4 C93.7,510.8 93.0,514.7 90.6,517.5 C88.2,520.3 79.5,527.0 75.5,529.6 C71.5,532.2 64.4,535.1 60.4,537.2 C56.4,539.3 51.4,544.0 45.3,545.0 C39.2,546.0 19.0,546.7 15.0,545.0 C11.0,543.3 14.0,535.5 15.0,532.6 C16.0,529.7 21.8,526.5 22.6,523.5 C23.4,520.5 21.0,513.2 21.0,510.0 C21.0,506.8 22.4,501.7 22.6,499.3 C22.8,496.9 21.0,493.6 22.6,491.8Z" fill="#49ad3a" filter="url(#blur1)"/>
<path d="M22.6,491.8 C24.2,490.0 32.7,487.6 34.7,485.7 C36.7,483.8 36.5,477.6 37.7,477.4 C38.9,477.2 40.9,484.1 43.7,484.2 C46.5,484.3 55.7,479.6 58.9,478.2 C62.1,476.8 65.8,473.6 68.0,473.6 C70.2,473.6 73.3,476.2 75.5,478.2 C77.7,480.2 82.6,485.9 84.6,488.7 C86.6,491.5 89.4,496.7 90.6,499.3 C91.8,501.9 93.7,506.0 93.7,508.4 C93.7,510.8 93.0,514.7 90.6,517.5 C88.2,520.3 79.5,527.0 75.5,529.6 C71.5,532.2 64.4,535.1 60.4,537.2 C56.4,539.3 51.4,544.0 45.3,545.0 C39.2,546.0 19.0,546.7 15.0,545.0 C11.0,543.3 14.0,535.5 15.0,532.6 C16.0,529.7 21.8,526.5 22.6,523.5 C23.4,520.5 21.0,513.2 21.0,510.0 C21.0,506.8 22.4,501.7 22.6,499.3 C22.8,496.9 21.0,493.6 22.6,491.8Z" fill="#7cc242" transform="translate(0,0)" filter="url(#blur3)" opacity="0.9"/>
<path d="M17,542 C30,536 50,530 70,522 L82,514 L76,528 C60,536 40,542 17,545Z" fill="#f2e634" filter="url(#blur3)" opacity="0.9"/>
<ellipse cx="23" cy="538" rx="4" ry="3" fill="#f07a22" filter="url(#blur2)" opacity="0.8"/>
<ellipse cx="82" cy="468" rx="6" ry="4" fill="#7cc242" filter="url(#blur2)" opacity="1"/>
<path d="M89.3,504.5 C89.3,506.5 89.7,508.7 89.2,510.6 C88.7,512.5 87.5,514.3 86.5,516.0 C85.5,517.8 84.6,519.7 83.2,521.2 C81.9,522.7 80.2,524.2 78.3,525.0 C76.5,525.8 74.3,525.8 72.3,526.1 C70.3,526.4 68.5,526.5 66.5,526.8 C64.5,527.1 62.1,528.3 60.2,527.9 C58.3,527.5 56.7,525.5 55.1,524.3 C53.4,523.1 52.0,521.9 50.4,520.6 C48.8,519.4 46.3,518.5 45.2,516.8 C44.2,515.1 44.5,512.6 44.0,510.5 C43.5,508.5 42.3,506.5 42.3,504.5 C42.3,502.5 43.3,500.4 44.0,498.5 C44.6,496.5 44.9,494.3 46.0,492.6 C47.1,491.0 49.1,490.0 50.5,488.5 C52.0,487.1 53.0,485.2 54.6,484.0 C56.3,482.7 58.2,481.6 60.2,481.1 C62.2,480.6 64.4,481.0 66.5,481.0 C68.6,481.1 70.7,480.9 72.7,481.4 C74.7,481.8 76.8,482.7 78.4,483.9 C80.0,485.1 80.8,487.2 82.3,488.7 C83.8,490.1 86.1,490.9 87.3,492.5 C88.5,494.1 89.0,496.4 89.3,498.4 C89.6,500.4 89.3,502.5 89.3,504.5Z" fill="#f2e634" filter="url(#blur2)"/>
<path d="M86.1,504.5 C86.1,506.2 86.4,508.1 86.0,509.7 C85.6,511.4 84.6,512.9 83.7,514.4 C82.8,516.0 82.0,517.6 80.9,518.9 C79.7,520.2 78.3,521.4 76.7,522.1 C75.1,522.8 73.2,522.8 71.5,523.1 C69.8,523.3 68.2,523.4 66.5,523.6 C64.8,523.9 62.8,525.0 61.1,524.6 C59.5,524.2 58.1,522.5 56.7,521.5 C55.3,520.5 54.1,519.4 52.6,518.4 C51.2,517.3 49.1,516.5 48.2,515.1 C47.3,513.6 47.5,511.5 47.1,509.7 C46.7,507.9 45.7,506.2 45.7,504.5 C45.7,502.8 46.6,501.0 47.1,499.3 C47.6,497.6 47.9,495.7 48.8,494.3 C49.8,492.9 51.5,492.0 52.8,490.8 C54.0,489.5 54.9,487.9 56.3,486.8 C57.7,485.8 59.4,484.8 61.1,484.3 C62.8,483.9 64.7,484.3 66.5,484.3 C68.3,484.4 70.1,484.2 71.8,484.6 C73.5,485.0 75.4,485.7 76.7,486.8 C78.1,487.8 78.8,489.7 80.1,490.9 C81.4,492.1 83.4,492.8 84.4,494.2 C85.4,495.6 85.8,497.5 86.1,499.2 C86.4,501.0 86.1,502.8 86.1,504.5Z" fill="#e82a22" filter="url(#blur1)"/>
<path d="M79.7,504.5 C79.7,505.7 79.9,506.9 79.7,508.0 C79.4,509.1 78.7,510.2 78.1,511.2 C77.5,512.2 77.0,513.3 76.2,514.2 C75.4,515.1 74.4,515.9 73.4,516.4 C72.3,516.9 71.0,516.9 69.9,517.0 C68.7,517.2 67.7,517.2 66.5,517.4 C65.3,517.6 64.0,518.3 62.9,518.1 C61.8,517.8 60.8,516.7 59.9,516.0 C58.9,515.3 58.1,514.6 57.2,513.8 C56.2,513.1 54.8,512.6 54.2,511.6 C53.5,510.6 53.7,509.2 53.4,508.0 C53.1,506.8 52.5,505.7 52.5,504.5 C52.5,503.3 53.1,502.1 53.4,501.0 C53.8,499.8 53.9,498.6 54.6,497.6 C55.2,496.7 56.4,496.1 57.2,495.2 C58.1,494.4 58.7,493.3 59.6,492.6 C60.6,491.9 61.7,491.2 62.9,490.9 C64.0,490.6 65.3,490.9 66.5,490.9 C67.7,490.9 68.9,490.8 70.1,491.1 C71.2,491.3 72.5,491.8 73.4,492.5 C74.3,493.3 74.8,494.5 75.7,495.3 C76.5,496.2 77.9,496.6 78.6,497.5 C79.2,498.5 79.5,499.8 79.7,501.0 C79.9,502.1 79.7,503.3 79.7,504.5Z" fill="#f2e634" filter="url(#blur1)"/>
<path d="M77.2,504.5 C77.2,505.5 77.4,506.5 77.2,507.4 C77.0,508.3 76.4,509.1 75.9,509.9 C75.4,510.8 75.0,511.7 74.4,512.4 C73.7,513.1 72.9,513.8 72.1,514.1 C71.2,514.5 70.2,514.5 69.2,514.7 C68.3,514.8 67.4,514.8 66.5,515.0 C65.6,515.1 64.5,515.7 63.6,515.5 C62.7,515.3 61.9,514.4 61.1,513.8 C60.4,513.2 59.7,512.7 58.9,512.1 C58.2,511.5 57.0,511.1 56.5,510.3 C56.0,509.5 56.1,508.3 55.9,507.3 C55.7,506.4 55.1,505.4 55.1,504.5 C55.1,503.6 55.6,502.6 55.9,501.7 C56.2,500.7 56.3,499.7 56.8,498.9 C57.4,498.1 58.3,497.7 59.0,497.0 C59.7,496.3 60.2,495.4 60.9,494.8 C61.7,494.3 62.6,493.7 63.5,493.5 C64.5,493.3 65.5,493.5 66.5,493.5 C67.5,493.5 68.5,493.4 69.4,493.6 C70.3,493.8 71.3,494.2 72.1,494.8 C72.8,495.4 73.2,496.4 73.9,497.1 C74.6,497.7 75.7,498.1 76.3,498.9 C76.8,499.6 77.1,500.7 77.2,501.6 C77.4,502.6 77.2,503.5 77.2,504.5Z" fill="#7cc242" filter="url(#blur1)"/>
<path d="M114.0,476.6 C114.8,476.0 117.3,482.1 120.1,482.7 C122.9,483.3 131.7,482.2 135.3,481.2 C138.9,480.2 143.4,475.7 147.4,475.1 C151.4,474.5 162.3,477.0 165.5,476.6 C168.7,476.2 170.6,471.7 171.6,472.1 C172.6,472.5 171.9,477.3 173.1,479.7 C174.3,482.1 178.8,487.1 180.6,490.3 C182.4,493.5 186.5,500.3 186.7,503.9 C186.9,507.5 184.6,514.3 182.2,517.5 C179.8,520.7 172.7,525.7 168.5,528.1 C164.3,530.5 154.8,533.8 150.4,535.6 C146.0,537.4 140.8,540.4 135.3,541.7 C129.8,543.0 112.7,547.8 109.5,545.0 C106.3,542.2 111.0,526.8 111.0,520.5 C111.0,514.2 109.1,502.2 109.5,497.8 C109.9,493.4 113.4,490.0 114.0,487.2 C114.6,484.4 113.2,477.2 114.0,476.6Z" fill="none" stroke="#3a8cb8" stroke-width="5" filter="url(#blur2)" opacity="0.6"/>
<path d="M114.0,476.6 C114.8,476.0 117.3,482.1 120.1,482.7 C122.9,483.3 131.7,482.2 135.3,481.2 C138.9,480.2 143.4,475.7 147.4,475.1 C151.4,474.5 162.3,477.0 165.5,476.6 C168.7,476.2 170.6,471.7 171.6,472.1 C172.6,472.5 171.9,477.3 173.1,479.7 C174.3,482.1 178.8,487.1 180.6,490.3 C182.4,493.5 186.5,500.3 186.7,503.9 C186.9,507.5 184.6,514.3 182.2,517.5 C179.8,520.7 172.7,525.7 168.5,528.1 C164.3,530.5 154.8,533.8 150.4,535.6 C146.0,537.4 140.8,540.4 135.3,541.7 C129.8,543.0 112.7,547.8 109.5,545.0 C106.3,542.2 111.0,526.8 111.0,520.5 C111.0,514.2 109.1,502.2 109.5,497.8 C109.9,493.4 113.4,490.0 114.0,487.2 C114.6,484.4 113.2,477.2 114.0,476.6Z" fill="#49ad3a" filter="url(#blur1)"/>
<path d="M114.0,476.6 C114.8,476.0 117.3,482.1 120.1,482.7 C122.9,483.3 131.7,482.2 135.3,481.2 C138.9,480.2 143.4,475.7 147.4,475.1 C151.4,474.5 162.3,477.0 165.5,476.6 C168.7,476.2 170.6,471.7 171.6,472.1 C172.6,472.5 171.9,477.3 173.1,479.7 C174.3,482.1 178.8,487.1 180.6,490.3 C182.4,493.5 186.5,500.3 186.7,503.9 C186.9,507.5 184.6,514.3 182.2,517.5 C179.8,520.7 172.7,525.7 168.5,528.1 C164.3,530.5 154.8,533.8 150.4,535.6 C146.0,537.4 140.8,540.4 135.3,541.7 C129.8,543.0 112.7,547.8 109.5,545.0 C106.3,542.2 111.0,526.8 111.0,520.5 C111.0,514.2 109.1,502.2 109.5,497.8 C109.9,493.4 113.4,490.0 114.0,487.2 C114.6,484.4 113.2,477.2 114.0,476.6Z" fill="#7cc242" transform="translate(0,0)" filter="url(#blur3)" opacity="0.9"/>
<ellipse cx="127.7" cy="534" rx="5" ry="3" fill="#f2e634" filter="url(#blur2)" opacity="1"/>
<path d="M181.6,505.0 C181.9,507.0 181.6,509.1 181.0,511.0 C180.5,513.0 179.5,514.9 178.4,516.7 C177.2,518.5 175.9,520.4 174.2,521.8 C172.5,523.2 170.2,524.2 168.1,525.2 C166.0,526.2 163.9,527.7 161.6,528.0 C159.3,528.2 156.7,526.9 154.3,526.7 C151.9,526.6 149.7,527.1 147.3,526.9 C145.0,526.8 142.3,526.6 140.2,525.6 C138.1,524.7 136.6,522.8 134.9,521.4 C133.2,519.9 130.9,518.6 130.0,516.9 C129.0,515.1 129.7,512.6 129.2,510.7 C128.8,508.7 127.4,506.9 127.4,505.0 C127.3,503.1 128.3,501.2 128.9,499.2 C129.5,497.3 129.8,495.3 130.8,493.6 C131.8,491.8 133.3,490.0 135.1,488.8 C136.8,487.5 139.4,487.1 141.5,486.2 C143.5,485.4 145.4,484.2 147.5,483.6 C149.7,483.0 152.0,483.0 154.3,482.7 C156.6,482.4 159.3,481.7 161.6,482.1 C163.9,482.4 166.3,483.5 168.2,484.7 C170.0,486.0 171.0,488.0 172.7,489.4 C174.4,490.8 177.3,491.6 178.4,493.3 C179.5,494.9 178.9,497.4 179.4,499.3 C180.0,501.3 181.4,503.0 181.6,505.0Z" fill="#f2e634" filter="url(#blur2)"/>
<path d="M177.8,505.0 C178.0,506.7 177.7,508.5 177.3,510.2 C176.8,511.9 176.0,513.5 175.0,515.1 C174.0,516.6 172.9,518.3 171.4,519.5 C170.0,520.7 168.0,521.5 166.2,522.4 C164.4,523.3 162.5,524.5 160.6,524.7 C158.6,525.0 156.3,523.8 154.3,523.7 C152.3,523.5 150.3,524.0 148.3,523.9 C146.3,523.7 144.0,523.5 142.2,522.7 C140.4,521.9 139.1,520.3 137.6,519.1 C136.2,517.8 134.2,516.7 133.4,515.2 C132.6,513.7 133.1,511.6 132.7,509.9 C132.4,508.2 131.2,506.6 131.2,505.0 C131.1,503.4 131.9,501.7 132.4,500.1 C132.9,498.4 133.2,496.7 134.1,495.2 C135.0,493.6 136.2,492.1 137.8,491.0 C139.3,490.0 141.5,489.6 143.3,488.8 C145.0,488.1 146.6,487.1 148.5,486.6 C150.3,486.1 152.3,486.0 154.3,485.8 C156.3,485.6 158.6,485.0 160.6,485.3 C162.5,485.6 164.6,486.5 166.2,487.6 C167.8,488.6 168.7,490.4 170.2,491.6 C171.6,492.8 174.0,493.5 175.0,494.9 C176.0,496.3 175.5,498.4 175.9,500.1 C176.4,501.8 177.6,503.3 177.8,505.0Z" fill="#f07a22" filter="url(#blur2)"/>
<path d="M170.7,505.0 C170.9,506.2 170.7,507.5 170.3,508.6 C170.0,509.8 169.4,511.0 168.7,512.0 C168.1,513.1 167.3,514.3 166.3,515.1 C165.2,515.9 163.9,516.5 162.6,517.1 C161.3,517.7 160.1,518.6 158.7,518.8 C157.3,518.9 155.7,518.1 154.3,518.0 C152.9,517.9 151.5,518.3 150.1,518.2 C148.7,518.1 147.1,517.9 145.8,517.4 C144.6,516.8 143.7,515.7 142.7,514.8 C141.7,513.9 140.3,513.2 139.7,512.1 C139.1,511.0 139.5,509.6 139.3,508.4 C139.0,507.2 138.2,506.1 138.2,505.0 C138.1,503.9 138.7,502.7 139.0,501.5 C139.4,500.4 139.6,499.2 140.2,498.1 C140.8,497.1 141.7,496.0 142.8,495.3 C143.8,494.5 145.4,494.2 146.6,493.7 C147.8,493.2 148.9,492.5 150.2,492.2 C151.5,491.8 152.9,491.8 154.3,491.6 C155.7,491.5 157.3,491.0 158.7,491.2 C160.1,491.4 161.5,492.1 162.6,492.8 C163.7,493.6 164.3,494.8 165.4,495.7 C166.4,496.5 168.1,497.0 168.7,498.0 C169.4,498.9 169.1,500.4 169.4,501.6 C169.7,502.8 170.5,503.8 170.7,505.0Z" fill="#f2e634" filter="url(#blur1)"/>
<path d="M168.0,505.0 C168.1,506.0 167.9,507.0 167.7,508.0 C167.4,509.0 166.9,510.0 166.3,510.9 C165.8,511.8 165.1,512.7 164.3,513.4 C163.4,514.1 162.3,514.6 161.2,515.1 C160.2,515.6 159.1,516.4 157.9,516.5 C156.8,516.6 155.5,515.9 154.3,515.9 C153.1,515.8 152.0,516.1 150.8,516.0 C149.6,515.9 148.3,515.8 147.3,515.3 C146.2,514.8 145.5,513.9 144.6,513.2 C143.8,512.5 142.6,511.8 142.1,510.9 C141.7,510.0 142.0,508.8 141.8,507.8 C141.5,506.8 140.9,506.0 140.8,505.0 C140.8,504.0 141.3,503.1 141.6,502.1 C141.9,501.2 142.0,500.1 142.6,499.3 C143.1,498.4 143.8,497.5 144.7,496.9 C145.6,496.3 146.8,496.0 147.9,495.6 C148.9,495.2 149.8,494.6 150.9,494.3 C152.0,494.0 153.1,494.0 154.3,493.9 C155.5,493.7 156.8,493.4 157.9,493.5 C159.1,493.7 160.3,494.3 161.2,494.9 C162.2,495.5 162.7,496.5 163.5,497.2 C164.4,497.9 165.8,498.3 166.3,499.1 C166.9,500.0 166.6,501.2 166.9,502.2 C167.1,503.1 167.8,504.0 168.0,505.0Z" fill="#7cc242" filter="url(#blur1)"/>
<ellipse cx="140" cy="506" rx="3" ry="4" fill="#e82a22" filter="url(#blur2)" opacity="0.7"/>
<ellipse cx="170" cy="518" rx="4" ry="3" fill="#e82a22" filter="url(#blur2)" opacity="0.7"/>
<ellipse cx="160" cy="492" rx="3" ry="3" fill="#e82a22" filter="url(#blur2)" opacity="0.6"/>
<line x1="109" y1="463" x2="109" y2="542" stroke="#4a68c0" stroke-width="0.8" opacity="0.6"/>
</g>
<g clip-path="url(#sp208)">
<rect x="208.7" y="463" width="183.3" height="79" fill="#2c4fac"/>
<path d="M249.9,476.6 C254.1,476.4 270.6,479.0 275.6,481.2 C280.6,483.4 285.7,490.5 287.7,493.3 C289.7,496.1 291.1,499.2 290.7,502.4 C290.3,505.6 287.1,514.1 284.7,517.5 C282.3,520.9 276.4,526.1 272.6,528.1 C268.8,530.1 259.9,532.2 255.9,532.6 C251.9,533.0 245.1,532.3 242.3,531.1 C239.5,529.9 235.9,526.3 234.7,523.5 C233.5,520.7 232.8,513.7 233.2,509.9 C233.6,506.1 236.4,498.4 237.8,494.8 C239.2,491.2 242.2,485.1 243.8,482.7 C245.4,480.3 245.7,476.8 249.9,476.6Z" fill="none" stroke="#3a8cb8" stroke-width="5" filter="url(#blur2)" opacity="0.6"/>
<path d="M249.9,476.6 C254.1,476.4 270.6,479.0 275.6,481.2 C280.6,483.4 285.7,490.5 287.7,493.3 C289.7,496.1 291.1,499.2 290.7,502.4 C290.3,505.6 287.1,514.1 284.7,517.5 C282.3,520.9 276.4,526.1 272.6,528.1 C268.8,530.1 259.9,532.2 255.9,532.6 C251.9,533.0 245.1,532.3 242.3,531.1 C239.5,529.9 235.9,526.3 234.7,523.5 C233.5,520.7 232.8,513.7 233.2,509.9 C233.6,506.1 236.4,498.4 237.8,494.8 C239.2,491.2 242.2,485.1 243.8,482.7 C245.4,480.3 245.7,476.8 249.9,476.6Z" fill="#49ad3a" filter="url(#blur1)"/>
<path d="M249.9,476.6 C254.1,476.4 270.6,479.0 275.6,481.2 C280.6,483.4 285.7,490.5 287.7,493.3 C289.7,496.1 291.1,499.2 290.7,502.4 C290.3,505.6 287.1,514.1 284.7,517.5 C282.3,520.9 276.4,526.1 272.6,528.1 C268.8,530.1 259.9,532.2 255.9,532.6 C251.9,533.0 245.1,532.3 242.3,531.1 C239.5,529.9 235.9,526.3 234.7,523.5 C233.5,520.7 232.8,513.7 233.2,509.9 C233.6,506.1 236.4,498.4 237.8,494.8 C239.2,491.2 242.2,485.1 243.8,482.7 C245.4,480.3 245.7,476.8 249.9,476.6Z" fill="#7cc242" transform="translate(0,0)" filter="url(#blur3)" opacity="0.9"/>
<path d="M284.3,505.4 C284.3,507.3 283.6,509.1 283.2,511.1 C282.8,513.0 283.0,515.3 282.0,516.9 C281.1,518.5 278.9,519.4 277.5,520.8 C276.1,522.1 275.2,524.1 273.6,525.1 C272.0,526.2 270.0,526.7 268.1,527.0 C266.2,527.4 264.3,527.0 262.4,527.1 C260.5,527.1 258.4,527.8 256.6,527.3 C254.9,526.9 253.4,525.1 251.8,524.1 C250.1,523.1 248.0,522.7 246.7,521.3 C245.4,520.0 244.8,518.0 243.9,516.3 C243.1,514.5 242.3,512.8 241.7,511.0 C241.1,509.2 240.5,507.4 240.3,505.4 C240.0,503.4 239.6,501.2 240.2,499.3 C240.7,497.5 242.7,496.1 243.8,494.5 C245.0,492.9 245.9,491.3 247.1,489.8 C248.3,488.3 249.6,486.7 251.1,485.5 C252.7,484.3 254.5,483.0 256.4,482.5 C258.3,482.0 260.4,482.3 262.4,482.5 C264.4,482.7 266.2,483.3 268.1,483.7 C270.1,484.1 272.5,483.7 274.1,484.8 C275.6,485.9 276.1,488.6 277.5,490.1 C278.8,491.5 281.4,492.0 282.4,493.6 C283.4,495.2 283.2,497.7 283.5,499.6 C283.8,501.6 284.4,503.5 284.3,505.4Z" fill="#f2e634" filter="url(#blur2)"/>
<path d="M281.7,505.4 C281.6,507.1 281.0,508.7 280.7,510.4 C280.4,512.1 280.5,514.1 279.7,515.5 C278.8,517.0 276.9,517.7 275.7,518.9 C274.4,520.1 273.6,521.8 272.2,522.8 C270.9,523.7 269.1,524.1 267.4,524.4 C265.8,524.7 264.1,524.4 262.4,524.5 C260.7,524.5 258.9,525.1 257.3,524.7 C255.8,524.3 254.5,522.8 253.0,521.9 C251.6,521.0 249.8,520.6 248.6,519.4 C247.5,518.3 246.9,516.5 246.1,515.0 C245.4,513.4 244.8,512.0 244.2,510.4 C243.7,508.8 243.2,507.1 242.9,505.4 C242.7,503.7 242.3,501.7 242.8,500.1 C243.3,498.5 245.0,497.2 246.0,495.8 C247.1,494.4 247.8,493.0 248.9,491.7 C250.0,490.3 251.1,489.0 252.5,487.9 C253.8,486.8 255.4,485.7 257.1,485.2 C258.7,484.8 260.7,485.1 262.4,485.3 C264.1,485.4 265.7,486.0 267.4,486.3 C269.1,486.6 271.3,486.3 272.7,487.3 C274.0,488.2 274.4,490.6 275.6,491.9 C276.9,493.2 279.1,493.7 280.0,495.1 C280.9,496.5 280.7,498.6 281.0,500.3 C281.2,502.1 281.7,503.7 281.7,505.4Z" fill="#e82a22" filter="url(#blur1)"/>
<path d="M274.2,505.4 C274.2,506.4 273.8,507.4 273.6,508.5 C273.4,509.5 273.5,510.7 273.0,511.6 C272.5,512.5 271.3,513.0 270.6,513.7 C269.8,514.4 269.3,515.5 268.4,516.1 C267.6,516.6 266.5,516.9 265.5,517.1 C264.5,517.3 263.4,517.1 262.4,517.1 C261.4,517.1 260.2,517.5 259.3,517.2 C258.3,517.0 257.5,516.1 256.7,515.5 C255.8,515.0 254.6,514.7 253.9,514.0 C253.2,513.3 252.9,512.2 252.4,511.3 C252.0,510.3 251.6,509.4 251.2,508.4 C250.9,507.5 250.6,506.5 250.4,505.4 C250.3,504.3 250.1,503.1 250.4,502.1 C250.7,501.1 251.7,500.4 252.4,499.5 C253.0,498.6 253.5,497.8 254.1,497.0 C254.8,496.2 255.5,495.3 256.3,494.6 C257.1,494.0 258.1,493.3 259.1,493.0 C260.2,492.8 261.3,492.9 262.4,493.0 C263.5,493.2 264.4,493.5 265.5,493.7 C266.5,493.9 267.9,493.7 268.7,494.3 C269.5,494.9 269.8,496.3 270.5,497.1 C271.3,497.9 272.7,498.2 273.2,499.1 C273.7,499.9 273.6,501.2 273.8,502.3 C274.0,503.4 274.3,504.4 274.2,505.4Z" fill="#f2e634" filter="url(#blur1)"/>
<path d="M271.6,505.4 C271.6,506.2 271.3,507.0 271.1,507.8 C271.0,508.6 271.0,509.6 270.6,510.2 C270.2,510.9 269.3,511.3 268.7,511.9 C268.2,512.4 267.8,513.2 267.1,513.7 C266.4,514.1 265.6,514.3 264.8,514.5 C264.0,514.6 263.2,514.5 262.4,514.5 C261.6,514.5 260.7,514.8 260.0,514.6 C259.2,514.4 258.6,513.7 257.9,513.3 C257.2,512.9 256.4,512.6 255.8,512.1 C255.3,511.5 255.0,510.7 254.6,510.0 C254.3,509.2 254.0,508.5 253.7,507.8 C253.5,507.0 253.2,506.2 253.1,505.4 C253.0,504.6 252.8,503.6 253.1,502.9 C253.3,502.1 254.1,501.5 254.6,500.8 C255.1,500.1 255.4,499.5 256.0,498.8 C256.5,498.2 257.0,497.5 257.7,497.0 C258.3,496.5 259.1,496.0 259.9,495.8 C260.7,495.6 261.6,495.7 262.4,495.8 C263.2,495.9 264.0,496.1 264.8,496.3 C265.6,496.4 266.7,496.3 267.3,496.8 C268.0,497.2 268.1,498.3 268.7,499.0 C269.3,499.6 270.4,499.8 270.8,500.5 C271.2,501.1 271.1,502.2 271.3,503.0 C271.4,503.8 271.6,504.6 271.6,505.4Z" fill="#7cc242" filter="url(#blur1)"/>
<ellipse cx="262" cy="504.6" rx="1.2" ry="1.8" fill="#1a3a9a" filter="url(#blur1)" opacity="1"/>
<path d="M335.3,478.2 C340.3,476.2 357.3,478.1 362.5,479.7 C367.7,481.3 373.0,486.9 374.6,490.3 C376.2,493.7 375.4,502.2 374.6,505.4 C373.8,508.6 371.0,512.5 368.6,514.5 C366.2,516.5 359.3,518.7 356.5,520.5 C353.7,522.3 350.6,527.1 347.4,528.1 C344.2,529.1 335.9,529.5 332.3,528.1 C328.7,526.7 322.0,520.3 320.2,517.5 C318.4,514.7 318.1,509.9 318.7,506.9 C319.3,503.9 322.5,498.6 324.7,494.8 C326.9,491.0 330.3,480.2 335.3,478.2Z" fill="none" stroke="#3a8cb8" stroke-width="5" filter="url(#blur2)" opacity="0.6"/>
<path d="M335.3,478.2 C340.3,476.2 357.3,478.1 362.5,479.7 C367.7,481.3 373.0,486.9 374.6,490.3 C376.2,493.7 375.4,502.2 374.6,505.4 C373.8,508.6 371.0,512.5 368.6,514.5 C366.2,516.5 359.3,518.7 356.5,520.5 C353.7,522.3 350.6,527.1 347.4,528.1 C344.2,529.1 335.9,529.5 332.3,528.1 C328.7,526.7 322.0,520.3 320.2,517.5 C318.4,514.7 318.1,509.9 318.7,506.9 C319.3,503.9 322.5,498.6 324.7,494.8 C326.9,491.0 330.3,480.2 335.3,478.2Z" fill="#49ad3a" filter="url(#blur1)"/>
<path d="M335.3,478.2 C340.3,476.2 357.3,478.1 362.5,479.7 C367.7,481.3 373.0,486.9 374.6,490.3 C376.2,493.7 375.4,502.2 374.6,505.4 C373.8,508.6 371.0,512.5 368.6,514.5 C366.2,516.5 359.3,518.7 356.5,520.5 C353.7,522.3 350.6,527.1 347.4,528.1 C344.2,529.1 335.9,529.5 332.3,528.1 C328.7,526.7 322.0,520.3 320.2,517.5 C318.4,514.7 318.1,509.9 318.7,506.9 C319.3,503.9 322.5,498.6 324.7,494.8 C326.9,491.0 330.3,480.2 335.3,478.2Z" fill="#7cc242" transform="translate(0,0)" filter="url(#blur3)" opacity="0.9"/>
<path d="M368.5,503.1 C368.4,504.9 368.2,506.7 367.6,508.3 C367.0,510.0 365.9,511.3 365.1,512.9 C364.3,514.6 364.2,516.9 362.9,518.1 C361.7,519.2 359.2,519.1 357.5,519.9 C355.8,520.7 354.6,522.1 352.9,522.8 C351.2,523.5 349.2,524.5 347.4,524.3 C345.6,524.2 343.9,522.6 342.1,522.0 C340.4,521.4 338.4,521.6 336.7,520.9 C335.1,520.1 333.4,519.0 332.2,517.7 C331.1,516.4 330.7,514.4 329.9,512.8 C329.0,511.3 327.9,509.9 327.2,508.3 C326.5,506.7 325.8,504.8 325.8,503.1 C325.7,501.4 326.5,499.6 327.0,497.8 C327.5,496.1 327.6,494.1 328.6,492.7 C329.6,491.2 331.5,490.3 332.9,489.2 C334.3,488.0 335.5,486.7 337.1,485.9 C338.6,485.1 340.4,484.7 342.1,484.2 C343.8,483.6 345.6,483.0 347.4,482.7 C349.2,482.4 351.3,482.1 353.1,482.6 C354.9,483.0 356.5,484.3 358.1,485.3 C359.7,486.2 361.6,487.0 362.8,488.3 C364.0,489.6 364.6,491.5 365.5,493.0 C366.5,494.6 367.9,496.0 368.4,497.7 C368.9,499.4 368.6,501.3 368.5,503.1Z" fill="#cfe03c" filter="url(#blur3)"/>
<path d="M364.3,503.1 C364.2,504.5 364.0,506.0 363.6,507.3 C363.1,508.6 362.2,509.7 361.6,511.0 C360.9,512.3 360.8,514.1 359.8,515.1 C358.8,516.0 356.8,515.9 355.5,516.5 C354.1,517.2 353.1,518.3 351.8,518.9 C350.4,519.5 348.8,520.2 347.4,520.1 C346.0,520.0 344.6,518.7 343.2,518.2 C341.8,517.7 340.2,517.9 338.9,517.3 C337.6,516.7 336.2,515.8 335.3,514.8 C334.4,513.7 334.1,512.1 333.4,510.9 C332.7,509.6 331.8,508.6 331.2,507.3 C330.7,506.0 330.1,504.5 330.1,503.1 C330.1,501.7 330.7,500.3 331.1,498.9 C331.5,497.5 331.6,495.9 332.4,494.8 C333.2,493.6 334.7,492.9 335.8,492.0 C336.9,491.1 337.9,490.0 339.1,489.3 C340.4,488.7 341.8,488.4 343.2,487.9 C344.6,487.5 345.9,487.0 347.4,486.8 C348.9,486.6 350.5,486.3 352.0,486.7 C353.4,487.0 354.7,488.1 356.0,488.8 C357.2,489.6 358.7,490.2 359.7,491.2 C360.7,492.3 361.2,493.8 361.9,495.0 C362.7,496.3 363.8,497.4 364.2,498.8 C364.6,500.1 364.4,501.7 364.3,503.1Z" fill="#ece63a" filter="url(#blur2)"/>
<path d="M358.0,503.1 C357.9,504.0 357.8,504.9 357.5,505.7 C357.2,506.5 356.6,507.2 356.2,508.0 C355.9,508.8 355.8,510.0 355.2,510.6 C354.5,511.2 353.3,511.1 352.4,511.5 C351.6,511.9 351.0,512.6 350.1,513.0 C349.3,513.3 348.3,513.8 347.4,513.7 C346.5,513.6 345.7,512.8 344.8,512.5 C343.9,512.3 342.9,512.3 342.1,512.0 C341.2,511.6 340.4,511.1 339.8,510.4 C339.2,509.7 339.1,508.7 338.6,508.0 C338.2,507.2 337.6,506.5 337.3,505.7 C336.9,504.9 336.6,504.0 336.6,503.1 C336.6,502.2 337.0,501.3 337.2,500.5 C337.4,499.6 337.5,498.6 338.0,497.9 C338.5,497.2 339.5,496.7 340.2,496.1 C340.9,495.6 341.5,494.9 342.2,494.5 C343.0,494.1 343.9,493.9 344.8,493.6 C345.6,493.4 346.5,493.0 347.4,492.9 C348.3,492.8 349.4,492.6 350.3,492.8 C351.2,493.0 351.9,493.7 352.7,494.2 C353.6,494.7 354.5,495.0 355.1,495.7 C355.7,496.3 356.0,497.3 356.5,498.1 C356.9,498.8 357.6,499.6 357.9,500.4 C358.1,501.2 358.0,502.2 358.0,503.1Z" fill="#7cc242" filter="url(#blur2)"/>
<ellipse cx="339" cy="515" rx="3" ry="4" fill="#f07a22" filter="url(#blur2)" opacity="0.8"/>
<ellipse cx="357" cy="489" rx="3" ry="2" fill="#f07a22" filter="url(#blur2)" opacity="0.7"/>
<line x1="304" y1="463" x2="304" y2="542" stroke="#4a68c0" stroke-width="0.8" opacity="0.6"/>
</g>
<g clip-path="url(#sp406)">
<rect x="406" y="463" width="183" height="79" fill="#2c4fac"/>
<rect x="415.3" y="471.3" width="73.39999999999998" height="62.80000000000001" fill="#4046a4" stroke="#5a48a8" stroke-width="1.5" opacity="0.55" filter="url(#blur1)"/>
<path d="M422.2,484.2 C425.7,482.2 436.6,479.1 441.8,478.2 C447.0,477.3 457.7,476.6 461.5,477.4 C465.3,478.2 468.6,481.5 470.6,484.2 C472.6,486.9 476.2,494.6 476.6,497.8 C477.0,501.0 475.6,505.8 473.6,508.4 C471.6,511.0 465.7,515.5 461.5,517.5 C457.3,519.5 446.4,521.7 441.8,523.5 C437.2,525.3 430.2,529.7 426.7,531.1 C423.2,532.5 416.8,539.1 415.3,534.1 C413.8,529.1 414.4,500.0 415.3,493.3 C416.2,486.6 418.7,486.2 422.2,484.2Z" fill="none" stroke="#3a8cb8" stroke-width="5" filter="url(#blur2)" opacity="0.6"/>
<path d="M422.2,484.2 C425.7,482.2 436.6,479.1 441.8,478.2 C447.0,477.3 457.7,476.6 461.5,477.4 C465.3,478.2 468.6,481.5 470.6,484.2 C472.6,486.9 476.2,494.6 476.6,497.8 C477.0,501.0 475.6,505.8 473.6,508.4 C471.6,511.0 465.7,515.5 461.5,517.5 C457.3,519.5 446.4,521.7 441.8,523.5 C437.2,525.3 430.2,529.7 426.7,531.1 C423.2,532.5 416.8,539.1 415.3,534.1 C413.8,529.1 414.4,500.0 415.3,493.3 C416.2,486.6 418.7,486.2 422.2,484.2Z" fill="#49ad3a" filter="url(#blur1)"/>
<path d="M422.2,484.2 C425.7,482.2 436.6,479.1 441.8,478.2 C447.0,477.3 457.7,476.6 461.5,477.4 C465.3,478.2 468.6,481.5 470.6,484.2 C472.6,486.9 476.2,494.6 476.6,497.8 C477.0,501.0 475.6,505.8 473.6,508.4 C471.6,511.0 465.7,515.5 461.5,517.5 C457.3,519.5 446.4,521.7 441.8,523.5 C437.2,525.3 430.2,529.7 426.7,531.1 C423.2,532.5 416.8,539.1 415.3,534.1 C413.8,529.1 414.4,500.0 415.3,493.3 C416.2,486.6 418.7,486.2 422.2,484.2Z" fill="#7cc242" transform="translate(0,0)" filter="url(#blur3)" opacity="0.9"/>
<ellipse cx="422" cy="525" rx="8" ry="8" fill="#c8e040" filter="url(#blur3)" opacity="0.8"/>
<path d="M473.4,499.4 C473.6,501.0 473.2,502.6 472.9,504.2 C472.6,505.9 472.4,507.7 471.5,509.1 C470.6,510.5 468.8,511.4 467.5,512.5 C466.1,513.6 464.8,514.7 463.3,515.5 C461.8,516.4 460.1,517.2 458.4,517.5 C456.7,517.8 454.9,517.4 453.1,517.4 C451.3,517.4 449.5,517.7 447.8,517.4 C446.1,517.1 444.4,516.5 442.8,515.7 C441.2,515.0 439.4,514.2 438.3,512.9 C437.1,511.7 436.9,509.8 436.2,508.3 C435.4,506.9 434.2,505.6 433.8,504.1 C433.3,502.6 433.7,501.0 433.5,499.4 C433.4,497.8 432.5,496.0 432.8,494.4 C433.0,492.9 434.0,491.2 435.1,489.9 C436.2,488.7 438.1,488.1 439.3,486.9 C440.6,485.6 441.0,483.6 442.4,482.5 C443.8,481.5 445.8,480.9 447.6,480.6 C449.4,480.3 451.3,480.4 453.1,480.5 C454.9,480.6 456.8,480.7 458.4,481.2 C460.1,481.8 461.6,482.9 463.0,483.8 C464.3,484.8 465.5,485.8 466.8,486.9 C468.1,487.9 470.0,488.8 470.8,490.1 C471.7,491.4 471.5,493.2 471.9,494.8 C472.4,496.4 473.2,497.8 473.4,499.4Z" fill="#f2e634" filter="url(#blur2)"/>
<path d="M471.0,499.4 C471.1,500.8 470.8,502.2 470.5,503.7 C470.3,505.1 470.1,506.7 469.3,507.9 C468.5,509.1 467.0,510.0 465.8,510.9 C464.5,511.9 463.4,512.9 462.1,513.6 C460.8,514.3 459.3,515.1 457.8,515.3 C456.3,515.6 454.7,515.3 453.1,515.3 C451.5,515.2 450.0,515.5 448.4,515.2 C446.9,515.0 445.4,514.4 444.0,513.8 C442.6,513.1 441.0,512.4 440.0,511.3 C439.1,510.2 438.8,508.5 438.2,507.3 C437.5,506.0 436.5,504.9 436.1,503.6 C435.7,502.2 436.0,500.8 435.9,499.4 C435.7,498.0 435.0,496.4 435.2,495.0 C435.5,493.6 436.3,492.2 437.3,491.1 C438.2,489.9 439.9,489.4 441.0,488.4 C442.1,487.3 442.5,485.5 443.7,484.5 C444.9,483.6 446.7,483.1 448.2,482.9 C449.8,482.6 451.5,482.7 453.1,482.8 C454.7,482.9 456.4,482.9 457.8,483.4 C459.2,483.9 460.5,484.9 461.8,485.7 C463.0,486.5 464.0,487.5 465.2,488.4 C466.3,489.3 467.9,490.0 468.7,491.2 C469.4,492.4 469.3,494.0 469.7,495.4 C470.1,496.7 470.8,498.0 471.0,499.4Z" fill="#e82a22" filter="url(#blur1)"/>
<path d="M462.2,499.4 C462.3,500.1 462.2,500.9 462.0,501.6 C461.9,502.3 461.8,503.1 461.4,503.8 C461.0,504.4 460.2,504.8 459.6,505.3 C459.0,505.8 458.4,506.3 457.7,506.7 C457.0,507.0 456.3,507.4 455.5,507.6 C454.7,507.7 453.9,507.5 453.1,507.5 C452.3,507.5 451.5,507.6 450.7,507.5 C449.9,507.4 449.2,507.1 448.5,506.7 C447.7,506.4 446.9,506.0 446.4,505.5 C445.9,504.9 445.8,504.1 445.5,503.4 C445.1,502.8 444.6,502.2 444.4,501.5 C444.2,500.9 444.4,500.1 444.3,499.4 C444.2,498.7 443.8,497.9 444.0,497.2 C444.1,496.5 444.5,495.7 445.0,495.1 C445.5,494.6 446.4,494.3 446.9,493.8 C447.5,493.2 447.7,492.3 448.3,491.8 C448.9,491.3 449.8,491.1 450.6,490.9 C451.4,490.8 452.3,490.9 453.1,490.9 C453.9,490.9 454.8,491.0 455.5,491.2 C456.2,491.5 456.9,492.0 457.5,492.4 C458.2,492.8 458.7,493.3 459.3,493.8 C459.9,494.2 460.7,494.6 461.1,495.2 C461.5,495.8 461.4,496.6 461.6,497.3 C461.8,498.0 462.2,498.7 462.2,499.4Z" fill="#f2e634" filter="url(#blur1)"/>
<path d="M460.0,499.4 C460.1,499.9 459.9,500.5 459.8,501.0 C459.7,501.6 459.7,502.2 459.4,502.7 C459.1,503.2 458.5,503.5 458.0,503.9 C457.5,504.2 457.1,504.6 456.6,504.9 C456.1,505.2 455.5,505.5 454.9,505.6 C454.3,505.7 453.7,505.5 453.1,505.5 C452.5,505.5 451.9,505.6 451.3,505.5 C450.7,505.4 450.1,505.2 449.6,504.9 C449.0,504.7 448.4,504.4 448.1,504.0 C447.7,503.6 447.6,502.9 447.3,502.4 C447.1,501.9 446.7,501.5 446.5,501.0 C446.4,500.5 446.5,499.9 446.4,499.4 C446.4,498.9 446.1,498.2 446.2,497.7 C446.3,497.2 446.6,496.6 447.0,496.2 C447.3,495.7 448.0,495.6 448.4,495.1 C448.8,494.7 449.0,494.0 449.5,493.7 C449.9,493.3 450.6,493.1 451.2,493.0 C451.8,492.9 452.5,492.9 453.1,493.0 C453.7,493.0 454.4,493.0 454.9,493.2 C455.5,493.4 456.0,493.8 456.4,494.1 C456.9,494.4 457.3,494.8 457.8,495.1 C458.2,495.5 458.8,495.8 459.1,496.2 C459.4,496.7 459.4,497.3 459.5,497.8 C459.7,498.4 459.9,498.9 460.0,499.4Z" fill="#7cc242" filter="url(#blur1)"/>
<rect x="500.3" y="469" width="75.59999999999997" height="62.10000000000002" fill="#4046a4" stroke="#5a48a8" stroke-width="1.5" opacity="0.55" filter="url(#blur1)"/>
<path d="M525.3,481.2 C528.7,479.9 536.4,477.6 540.4,477.4 C544.4,477.2 552.5,478.0 555.5,479.7 C558.5,481.4 562.1,486.9 563.1,490.3 C564.1,493.7 564.1,502.0 563.1,505.4 C562.1,508.8 558.5,513.8 555.5,516.0 C552.5,518.2 544.0,521.4 540.4,522.0 C536.8,522.6 530.3,521.1 528.3,520.5 C526.3,519.9 526.1,517.5 525.3,517.5 C524.5,517.5 524.2,519.1 522.2,520.5 C520.2,521.9 513.0,526.7 510.1,528.1 C507.2,529.5 501.5,531.7 500.3,531.1 C499.1,530.5 500.3,525.3 501.0,523.5 C501.7,521.7 504.8,521.3 505.6,517.5 C506.4,513.7 505.9,498.8 507.1,494.8 C508.3,490.8 512.3,489.0 514.7,487.2 C517.1,485.4 521.9,482.5 525.3,481.2Z" fill="none" stroke="#3a8cb8" stroke-width="5" filter="url(#blur2)" opacity="0.6"/>
<path d="M525.3,481.2 C528.7,479.9 536.4,477.6 540.4,477.4 C544.4,477.2 552.5,478.0 555.5,479.7 C558.5,481.4 562.1,486.9 563.1,490.3 C564.1,493.7 564.1,502.0 563.1,505.4 C562.1,508.8 558.5,513.8 555.5,516.0 C552.5,518.2 544.0,521.4 540.4,522.0 C536.8,522.6 530.3,521.1 528.3,520.5 C526.3,519.9 526.1,517.5 525.3,517.5 C524.5,517.5 524.2,519.1 522.2,520.5 C520.2,521.9 513.0,526.7 510.1,528.1 C507.2,529.5 501.5,531.7 500.3,531.1 C499.1,530.5 500.3,525.3 501.0,523.5 C501.7,521.7 504.8,521.3 505.6,517.5 C506.4,513.7 505.9,498.8 507.1,494.8 C508.3,490.8 512.3,489.0 514.7,487.2 C517.1,485.4 521.9,482.5 525.3,481.2Z" fill="#49ad3a" filter="url(#blur1)"/>
<path d="M525.3,481.2 C528.7,479.9 536.4,477.6 540.4,477.4 C544.4,477.2 552.5,478.0 555.5,479.7 C558.5,481.4 562.1,486.9 563.1,490.3 C564.1,493.7 564.1,502.0 563.1,505.4 C562.1,508.8 558.5,513.8 555.5,516.0 C552.5,518.2 544.0,521.4 540.4,522.0 C536.8,522.6 530.3,521.1 528.3,520.5 C526.3,519.9 526.1,517.5 525.3,517.5 C524.5,517.5 524.2,519.1 522.2,520.5 C520.2,521.9 513.0,526.7 510.1,528.1 C507.2,529.5 501.5,531.7 500.3,531.1 C499.1,530.5 500.3,525.3 501.0,523.5 C501.7,521.7 504.8,521.3 505.6,517.5 C506.4,513.7 505.9,498.8 507.1,494.8 C508.3,490.8 512.3,489.0 514.7,487.2 C517.1,485.4 521.9,482.5 525.3,481.2Z" fill="#7cc242" transform="translate(0,0)" filter="url(#blur3)" opacity="0.9"/>
<path d="M558.1,498.2 C558.0,499.8 558.5,501.4 558.2,502.9 C557.9,504.4 557.1,505.9 556.3,507.3 C555.5,508.7 554.8,510.2 553.5,511.2 C552.3,512.2 550.4,512.5 549.0,513.1 C547.5,513.7 546.2,514.6 544.7,514.9 C543.2,515.3 541.6,515.4 540.0,515.4 C538.4,515.4 536.9,515.2 535.3,514.9 C533.8,514.7 531.9,514.7 530.5,514.0 C529.2,513.2 528.5,511.5 527.4,510.3 C526.3,509.2 524.7,508.4 523.9,507.1 C523.1,505.9 523.0,504.2 522.6,502.7 C522.3,501.2 521.9,499.7 521.9,498.2 C521.8,496.7 522.0,495.2 522.3,493.6 C522.5,492.1 522.7,490.4 523.4,489.0 C524.2,487.6 525.5,486.4 526.8,485.5 C528.1,484.6 529.8,484.2 531.2,483.5 C532.6,482.9 533.9,481.8 535.3,481.4 C536.8,481.0 538.4,481.2 540.0,481.0 C541.6,480.9 543.4,480.2 545.0,480.4 C546.6,480.6 548.1,481.5 549.5,482.3 C551.0,483.1 552.3,484.1 553.5,485.2 C554.6,486.3 555.7,487.6 556.5,489.0 C557.3,490.4 558.1,491.9 558.3,493.5 C558.6,495.0 558.1,496.6 558.1,498.2Z" fill="#f2e634" filter="url(#blur2)"/>
<path d="M555.5,498.2 C555.5,499.5 555.9,500.9 555.7,502.2 C555.4,503.5 554.7,504.8 554.0,506.0 C553.4,507.2 552.7,508.6 551.6,509.4 C550.6,510.2 549.0,510.5 547.7,511.0 C546.4,511.6 545.3,512.3 544.0,512.6 C542.7,512.9 541.3,513.0 540.0,513.0 C538.7,513.0 537.4,512.8 536.0,512.6 C534.6,512.4 533.0,512.4 531.9,511.8 C530.7,511.1 530.1,509.6 529.2,508.6 C528.2,507.6 526.9,507.0 526.2,505.9 C525.5,504.8 525.4,503.3 525.1,502.0 C524.8,500.8 524.5,499.5 524.4,498.2 C524.4,496.9 524.5,495.6 524.7,494.3 C525.0,492.9 525.1,491.5 525.8,490.3 C526.4,489.1 527.5,488.0 528.6,487.3 C529.7,486.5 531.2,486.2 532.4,485.6 C533.7,485.0 534.7,484.1 536.0,483.7 C537.2,483.4 538.6,483.6 540.0,483.4 C541.4,483.3 542.9,482.7 544.3,482.9 C545.6,483.0 547.0,483.8 548.2,484.5 C549.4,485.2 550.6,486.1 551.6,487.0 C552.6,488.0 553.5,489.1 554.2,490.3 C554.9,491.5 555.5,492.8 555.7,494.1 C556.0,495.5 555.5,496.9 555.5,498.2Z" fill="#f07a22" filter="url(#blur2)"/>
<path d="M549.4,498.2 C549.4,499.0 549.6,499.9 549.5,500.6 C549.3,501.4 548.9,502.2 548.5,502.9 C548.1,503.6 547.7,504.5 547.0,505.0 C546.4,505.5 545.4,505.6 544.7,506.0 C543.9,506.3 543.2,506.7 542.4,506.9 C541.6,507.1 540.8,507.1 540.0,507.1 C539.2,507.1 538.4,507.0 537.6,506.9 C536.8,506.8 535.8,506.8 535.1,506.4 C534.4,506.0 534.0,505.1 533.4,504.5 C532.9,503.9 532.1,503.5 531.6,502.8 C531.2,502.2 531.2,501.3 531.0,500.5 C530.8,499.8 530.6,499.0 530.6,498.2 C530.5,497.4 530.6,496.6 530.8,495.8 C530.9,495.0 531.0,494.1 531.4,493.4 C531.8,492.7 532.5,492.1 533.1,491.6 C533.8,491.1 534.7,490.9 535.4,490.6 C536.2,490.2 536.8,489.7 537.6,489.5 C538.3,489.2 539.2,489.4 540.0,489.3 C540.8,489.2 541.8,488.8 542.6,488.9 C543.4,489.0 544.2,489.5 545.0,489.9 C545.7,490.4 546.4,490.9 547.0,491.5 C547.6,492.0 548.2,492.7 548.6,493.4 C549.0,494.1 549.4,494.9 549.5,495.7 C549.7,496.5 549.4,497.4 549.4,498.2Z" fill="#f2e634" filter="url(#blur1)"/>
<path d="M547.6,498.2 C547.6,498.9 547.8,499.5 547.6,500.2 C547.5,500.8 547.2,501.4 546.9,502.0 C546.5,502.6 546.2,503.3 545.7,503.7 C545.2,504.1 544.4,504.2 543.8,504.5 C543.1,504.7 542.6,505.1 542.0,505.2 C541.3,505.4 540.7,505.4 540.0,505.4 C539.3,505.4 538.7,505.3 538.0,505.2 C537.4,505.1 536.6,505.1 536.0,504.8 C535.5,504.5 535.2,503.8 534.7,503.3 C534.2,502.8 533.6,502.5 533.2,501.9 C532.9,501.4 532.9,500.7 532.7,500.1 C532.6,499.5 532.4,498.8 532.4,498.2 C532.4,497.6 532.4,496.9 532.5,496.3 C532.7,495.6 532.7,494.9 533.0,494.3 C533.4,493.8 533.9,493.2 534.4,492.9 C535.0,492.5 535.7,492.3 536.3,492.0 C536.9,491.8 537.4,491.3 538.0,491.1 C538.7,491.0 539.3,491.1 540.0,491.0 C540.7,490.9 541.4,490.6 542.1,490.7 C542.8,490.8 543.4,491.2 544.0,491.5 C544.6,491.9 545.2,492.3 545.7,492.8 C546.2,493.2 546.6,493.8 546.9,494.3 C547.3,494.9 547.6,495.6 547.7,496.2 C547.8,496.9 547.6,497.5 547.6,498.2Z" fill="#7cc242" filter="url(#blur1)"/>
<ellipse cx="531" cy="498" rx="3" ry="7" fill="#e82a22" filter="url(#blur2)" opacity="0.7"/>
<ellipse cx="546" cy="486" rx="5" ry="3" fill="#e82a22" filter="url(#blur2)" opacity="0.6"/>
<line x1="497" y1="463" x2="497" y2="542" stroke="#4a68c0" stroke-width="0.8" opacity="0.6"/>
</g>
<g clip-path="url(#sp598)">
<rect x="598" y="463" width="183.6" height="79" fill="#2c4fac"/>
<rect x="607.3" y="469.8" width="76.40000000000009" height="65.09999999999997" fill="#4046a4" stroke="#5a48a8" stroke-width="1.5" opacity="0.55" filter="url(#blur1)"/>
<path d="M608.1,536.0 C606.1,532.4 607.8,510.5 608.1,505.4 C608.4,500.3 609.7,498.9 610.4,497.8 C611.1,496.7 612.7,496.1 613.4,497.1 C614.1,498.1 615.2,503.3 615.7,505.4 C616.2,507.5 616.3,511.8 617.2,513.0 C618.1,514.2 621.9,516.3 622.5,514.5 C623.1,512.7 621.2,502.5 621.7,499.3 C622.2,496.1 624.5,492.2 626.3,490.3 C628.1,488.4 632.5,485.9 635.3,485.0 C638.1,484.1 644.4,483.2 647.4,483.4 C650.4,483.6 655.7,484.8 658.0,486.5 C660.3,488.2 663.8,493.4 664.8,496.3 C665.8,499.2 666.3,505.6 665.6,508.4 C664.9,511.2 661.7,515.7 659.5,517.5 C657.3,519.3 652.2,520.8 649.0,522.0 C645.8,523.2 638.7,525.2 635.3,526.6 C631.9,528.0 626.8,531.3 623.2,532.6 C619.6,533.9 610.1,539.6 608.1,536.0Z" fill="none" stroke="#3a8cb8" stroke-width="5" filter="url(#blur2)" opacity="0.6"/>
<path d="M608.1,536.0 C606.1,532.4 607.8,510.5 608.1,505.4 C608.4,500.3 609.7,498.9 610.4,497.8 C611.1,496.7 612.7,496.1 613.4,497.1 C614.1,498.1 615.2,503.3 615.7,505.4 C616.2,507.5 616.3,511.8 617.2,513.0 C618.1,514.2 621.9,516.3 622.5,514.5 C623.1,512.7 621.2,502.5 621.7,499.3 C622.2,496.1 624.5,492.2 626.3,490.3 C628.1,488.4 632.5,485.9 635.3,485.0 C638.1,484.1 644.4,483.2 647.4,483.4 C650.4,483.6 655.7,484.8 658.0,486.5 C660.3,488.2 663.8,493.4 664.8,496.3 C665.8,499.2 666.3,505.6 665.6,508.4 C664.9,511.2 661.7,515.7 659.5,517.5 C657.3,519.3 652.2,520.8 649.0,522.0 C645.8,523.2 638.7,525.2 635.3,526.6 C631.9,528.0 626.8,531.3 623.2,532.6 C619.6,533.9 610.1,539.6 608.1,536.0Z" fill="#49ad3a" filter="url(#blur1)"/>
<path d="M608.1,536.0 C606.1,532.4 607.8,510.5 608.1,505.4 C608.4,500.3 609.7,498.9 610.4,497.8 C611.1,496.7 612.7,496.1 613.4,497.1 C614.1,498.1 615.2,503.3 615.7,505.4 C616.2,507.5 616.3,511.8 617.2,513.0 C618.1,514.2 621.9,516.3 622.5,514.5 C623.1,512.7 621.2,502.5 621.7,499.3 C622.2,496.1 624.5,492.2 626.3,490.3 C628.1,488.4 632.5,485.9 635.3,485.0 C638.1,484.1 644.4,483.2 647.4,483.4 C650.4,483.6 655.7,484.8 658.0,486.5 C660.3,488.2 663.8,493.4 664.8,496.3 C665.8,499.2 666.3,505.6 665.6,508.4 C664.9,511.2 661.7,515.7 659.5,517.5 C657.3,519.3 652.2,520.8 649.0,522.0 C645.8,523.2 638.7,525.2 635.3,526.6 C631.9,528.0 626.8,531.3 623.2,532.6 C619.6,533.9 610.1,539.6 608.1,536.0Z" fill="#7cc242" transform="translate(0,0)" filter="url(#blur3)" opacity="0.9"/>
<ellipse cx="620" cy="527" rx="8" ry="5" fill="#a8d840" filter="url(#blur3)" opacity="0.7"/>
<path d="M664.6,503.3 C664.4,504.7 662.7,506.0 662.2,507.4 C661.7,508.8 662.3,510.6 661.6,511.8 C660.8,513.0 658.9,513.5 657.8,514.6 C656.6,515.7 656.2,517.7 654.8,518.4 C653.4,519.0 651.2,518.2 649.6,518.6 C648.0,518.9 646.6,520.4 645.0,520.5 C643.4,520.7 641.7,520.0 640.1,519.6 C638.5,519.2 636.8,518.9 635.3,518.2 C633.8,517.5 632.1,516.8 631.1,515.6 C630.1,514.5 629.9,512.7 629.2,511.4 C628.6,510.0 627.8,508.9 627.2,507.5 C626.7,506.2 625.9,504.7 625.9,503.3 C625.9,501.9 626.8,500.4 627.3,499.1 C627.9,497.7 628.4,496.4 629.2,495.2 C630.0,494.0 631.1,493.0 632.1,491.9 C633.2,490.7 634.0,489.3 635.3,488.4 C636.6,487.5 638.4,487.0 640.0,486.7 C641.6,486.3 643.4,486.0 645.0,486.2 C646.6,486.4 648.1,487.4 649.7,487.7 C651.3,488.1 653.3,487.7 654.7,488.3 C656.2,489.0 657.2,490.4 658.2,491.5 C659.2,492.7 660.0,494.0 660.8,495.2 C661.6,496.5 662.3,497.7 663.0,499.0 C663.6,500.4 664.7,501.9 664.6,503.3Z" fill="#f2e634" filter="url(#blur2)"/>
<path d="M661.8,503.3 C661.7,504.5 660.2,505.6 659.8,506.8 C659.3,508.0 659.9,509.6 659.3,510.6 C658.6,511.6 657.0,512.1 656.0,513.0 C655.0,514.0 654.6,515.7 653.4,516.3 C652.3,516.8 650.4,516.1 649.0,516.4 C647.6,516.7 646.4,518.0 645.0,518.1 C643.6,518.3 642.2,517.7 640.8,517.3 C639.4,517.0 638.0,516.7 636.7,516.1 C635.4,515.5 633.9,514.9 633.1,513.9 C632.2,512.9 632.0,511.4 631.4,510.3 C630.9,509.1 630.2,508.1 629.7,506.9 C629.2,505.8 628.6,504.5 628.6,503.3 C628.6,502.1 629.3,500.8 629.8,499.7 C630.3,498.5 630.7,497.4 631.4,496.3 C632.1,495.3 633.1,494.5 633.9,493.5 C634.8,492.5 635.5,491.2 636.7,490.5 C637.8,489.7 639.3,489.3 640.7,489.0 C642.1,488.7 643.6,488.4 645.0,488.6 C646.4,488.7 647.7,489.6 649.0,489.9 C650.4,490.2 652.2,489.9 653.4,490.4 C654.6,491.0 655.5,492.2 656.4,493.2 C657.2,494.2 657.9,495.3 658.6,496.4 C659.2,497.4 659.9,498.5 660.5,499.6 C661.0,500.8 661.9,502.1 661.8,503.3Z" fill="#e82a22" filter="url(#blur1)"/>
<ellipse cx="645" cy="514" rx="9" ry="5" fill="#f2e634" filter="url(#blur2)" opacity="0.95"/>
<path d="M655.4,503.3 C655.4,504.1 655.4,505.0 655.1,505.7 C654.9,506.5 654.5,507.3 654.0,508.0 C653.6,508.7 653.0,509.3 652.4,509.9 C651.8,510.5 651.0,511.0 650.2,511.4 C649.4,511.8 648.6,512.3 647.8,512.5 C646.9,512.7 645.9,512.5 645.0,512.5 C644.1,512.5 643.1,512.7 642.3,512.5 C641.4,512.2 640.7,511.6 640.0,511.1 C639.2,510.7 638.3,510.4 637.7,509.8 C637.0,509.3 636.5,508.6 636.0,507.9 C635.6,507.2 635.4,506.4 635.1,505.7 C634.9,504.9 634.3,504.1 634.3,503.3 C634.3,502.5 634.8,501.7 635.0,500.9 C635.2,500.1 635.3,499.2 635.7,498.5 C636.1,497.7 636.6,496.9 637.3,496.4 C638.0,495.9 639.0,495.7 639.9,495.3 C640.7,494.9 641.3,494.2 642.2,493.9 C643.1,493.7 644.1,493.6 645.0,493.7 C645.9,493.7 646.9,493.8 647.8,494.1 C648.6,494.4 649.3,495.0 650.1,495.5 C650.8,495.9 651.7,496.2 652.4,496.7 C653.1,497.2 653.8,497.8 654.2,498.6 C654.6,499.3 654.8,500.1 655.0,500.9 C655.2,501.7 655.4,502.5 655.4,503.3Z" fill="#f2e634" filter="url(#blur1)"/>
<path d="M652.0,503.3 C652.0,503.9 652.1,504.4 652.0,505.0 C651.9,505.5 651.7,506.1 651.3,506.6 C651.0,507.0 650.3,507.3 649.8,507.7 C649.4,508.0 649.1,508.6 648.6,508.9 C648.1,509.2 647.4,509.4 646.8,509.5 C646.2,509.6 645.6,509.8 645.0,509.7 C644.4,509.6 643.8,509.3 643.3,509.1 C642.7,508.9 642.2,508.7 641.7,508.5 C641.1,508.3 640.6,508.0 640.1,507.7 C639.6,507.4 639.1,507.0 638.8,506.5 C638.5,506.1 638.5,505.4 638.4,504.9 C638.3,504.4 638.0,503.8 638.0,503.3 C638.0,502.8 638.2,502.2 638.4,501.7 C638.5,501.2 638.5,500.5 638.7,500.0 C639.0,499.5 639.4,499.0 639.8,498.6 C640.3,498.3 641.0,498.2 641.5,497.9 C642.1,497.6 642.5,497.0 643.1,496.9 C643.7,496.8 644.4,497.3 645.0,497.3 C645.6,497.3 646.3,497.0 646.9,497.0 C647.5,497.1 648.1,497.3 648.6,497.6 C649.1,498.0 649.4,498.6 649.8,499.0 C650.2,499.4 650.8,499.6 651.2,500.1 C651.5,500.5 651.7,501.1 651.8,501.7 C651.9,502.2 652.0,502.7 652.0,503.3Z" fill="#7cc242" filter="url(#blur1)"/>
<ellipse cx="645" cy="503" rx="2.4" ry="2.4" fill="#1a3a9a" filter="url(#blur1)" opacity="1"/>
<rect x="697.8" y="468.3" width="71.10000000000002" height="68.09999999999997" fill="#4046a4" stroke="#5a48a8" stroke-width="1.5" opacity="0.55" filter="url(#blur1)"/>
<path d="M714.2,500.0 C714.2,496.7 716.4,492.0 718.0,490.0 C719.6,488.0 723.3,485.7 726.0,485.0 C728.7,484.3 734.8,484.3 738.0,484.6 C741.2,484.9 747.5,485.5 750.0,487.0 C752.5,488.5 756.0,493.2 757.0,496.0 C758.0,498.8 758.3,505.1 757.5,508.0 C756.7,510.9 753.6,516.1 751.0,518.0 C748.4,519.9 741.3,521.6 738.0,522.0 C734.7,522.4 728.7,521.9 726.0,521.0 C723.3,520.1 719.6,517.8 718.0,515.0 C716.4,512.2 714.2,503.3 714.2,500.0Z" fill="none" stroke="#3a8cb8" stroke-width="5" filter="url(#blur2)" opacity="0.6"/>
<path d="M714.2,500.0 C714.2,496.7 716.4,492.0 718.0,490.0 C719.6,488.0 723.3,485.7 726.0,485.0 C728.7,484.3 734.8,484.3 738.0,484.6 C741.2,484.9 747.5,485.5 750.0,487.0 C752.5,488.5 756.0,493.2 757.0,496.0 C758.0,498.8 758.3,505.1 757.5,508.0 C756.7,510.9 753.6,516.1 751.0,518.0 C748.4,519.9 741.3,521.6 738.0,522.0 C734.7,522.4 728.7,521.9 726.0,521.0 C723.3,520.1 719.6,517.8 718.0,515.0 C716.4,512.2 714.2,503.3 714.2,500.0Z" fill="#49ad3a" filter="url(#blur1)"/>
<path d="M714.2,500.0 C714.2,496.7 716.4,492.0 718.0,490.0 C719.6,488.0 723.3,485.7 726.0,485.0 C728.7,484.3 734.8,484.3 738.0,484.6 C741.2,484.9 747.5,485.5 750.0,487.0 C752.5,488.5 756.0,493.2 757.0,496.0 C758.0,498.8 758.3,505.1 757.5,508.0 C756.7,510.9 753.6,516.1 751.0,518.0 C748.4,519.9 741.3,521.6 738.0,522.0 C734.7,522.4 728.7,521.9 726.0,521.0 C723.3,520.1 719.6,517.8 718.0,515.0 C716.4,512.2 714.2,503.3 714.2,500.0Z" fill="#7cc242" transform="translate(0,0)" filter="url(#blur3)" opacity="0.9"/>
<path d="M711,494 C705,496 702,506 704,516 C706,524 714,528 720,524 C722,518 716,512 714,504 C713,499 714,495 711,494Z" fill="#7cc242" filter="url(#blur2)"/>
<ellipse cx="700" cy="528" rx="1.5" ry="1.5" fill="#7cc242" filter="url(#blur1)" opacity="1"/>
<path d="M752.8,503.2 C752.9,504.5 753.0,505.9 752.7,507.3 C752.5,508.6 752.1,510.1 751.2,511.1 C750.3,512.2 748.7,512.8 747.6,513.7 C746.5,514.6 745.7,516.0 744.5,516.7 C743.3,517.5 741.7,517.9 740.3,518.2 C738.8,518.5 737.3,518.8 735.8,518.6 C734.3,518.5 732.9,517.8 731.6,517.3 C730.2,516.8 729.0,516.3 727.7,515.7 C726.4,515.2 725.1,514.6 723.9,513.8 C722.8,513.0 721.4,512.1 720.7,511.0 C720.0,509.9 720.1,508.3 719.8,507.0 C719.5,505.7 718.8,504.5 718.8,503.2 C718.8,501.9 719.4,500.6 719.7,499.3 C720.0,498.0 720.0,496.6 720.6,495.3 C721.2,494.1 722.1,492.8 723.2,492.0 C724.4,491.1 726.1,490.9 727.4,490.2 C728.7,489.5 729.8,488.0 731.2,487.8 C732.6,487.5 734.3,488.6 735.8,488.7 C737.3,488.7 738.9,487.9 740.3,488.1 C741.8,488.2 743.4,488.7 744.6,489.5 C745.8,490.3 746.4,491.8 747.4,492.8 C748.4,493.8 750.0,494.4 750.8,495.4 C751.6,496.5 752.0,498.0 752.3,499.2 C752.7,500.5 752.8,501.9 752.8,503.2Z" fill="#f2e634" filter="url(#blur2)"/>
<path d="M744.3,503.2 C744.4,503.9 744.4,504.6 744.3,505.2 C744.1,505.9 743.9,506.6 743.5,507.2 C743.1,507.7 742.2,508.0 741.7,508.5 C741.1,508.9 740.8,509.6 740.2,510.0 C739.6,510.3 738.8,510.5 738.0,510.7 C737.3,510.9 736.5,511.0 735.8,510.9 C735.1,510.8 734.4,510.5 733.7,510.3 C733.0,510.0 732.4,509.8 731.8,509.5 C731.1,509.2 730.4,508.9 729.9,508.5 C729.3,508.1 728.6,507.7 728.3,507.1 C727.9,506.5 728.0,505.8 727.8,505.1 C727.6,504.5 727.3,503.8 727.3,503.2 C727.3,502.6 727.6,501.9 727.7,501.3 C727.9,500.6 727.9,499.9 728.2,499.3 C728.5,498.7 729.0,498.0 729.5,497.6 C730.1,497.2 730.9,497.0 731.6,496.7 C732.3,496.3 732.8,495.6 733.5,495.5 C734.2,495.4 735.0,495.9 735.8,495.9 C736.6,496.0 737.3,495.6 738.1,495.6 C738.8,495.7 739.6,496.0 740.2,496.4 C740.8,496.8 741.1,497.5 741.6,498.0 C742.1,498.5 742.9,498.8 743.3,499.3 C743.7,499.9 743.9,500.6 744.1,501.2 C744.2,501.9 744.3,502.5 744.3,503.2Z" fill="#49ad3a" filter="url(#blur1)"/>
<path d="M739.9,503.2 C739.9,503.5 739.9,503.9 739.9,504.2 C739.8,504.5 739.7,504.8 739.5,505.1 C739.3,505.4 738.9,505.5 738.6,505.7 C738.4,505.9 738.2,506.3 737.9,506.4 C737.6,506.6 737.2,506.7 736.9,506.8 C736.5,506.9 736.1,506.9 735.8,506.9 C735.5,506.9 735.1,506.7 734.8,506.6 C734.5,506.5 734.2,506.3 733.9,506.2 C733.6,506.1 733.2,505.9 732.9,505.7 C732.7,505.6 732.3,505.3 732.2,505.1 C732.0,504.8 732.0,504.4 732.0,504.1 C731.9,503.8 731.7,503.5 731.7,503.2 C731.7,502.9 731.9,502.6 731.9,502.3 C732.0,502.0 732.0,501.6 732.1,501.3 C732.3,501.0 732.5,500.7 732.8,500.5 C733.1,500.3 733.5,500.2 733.8,500.1 C734.1,499.9 734.4,499.6 734.7,499.5 C735.0,499.4 735.4,499.7 735.8,499.7 C736.2,499.7 736.5,499.5 736.9,499.6 C737.2,499.6 737.6,499.7 737.9,499.9 C738.2,500.1 738.3,500.5 738.6,500.7 C738.8,500.9 739.2,501.1 739.4,501.3 C739.6,501.6 739.7,501.9 739.8,502.3 C739.8,502.6 739.9,502.9 739.9,503.2Z" fill="#1a3a9a" filter="url(#blur1)"/>
<ellipse cx="740" cy="492" rx="3.5" ry="2" fill="#f07a22" filter="url(#blur2)" opacity="0.9"/>
<line x1="688" y1="463" x2="688" y2="542" stroke="#4a68c0" stroke-width="0.8" opacity="0.6"/>
</g>
<g font-size="13.2" fill="#333">
<text x="47.1" y="458.6" textLength="25.7" lengthAdjust="spacingAndGlyphs">Early</text>
<text x="129.8" y="458.6" textLength="44.4" lengthAdjust="spacingAndGlyphs">Delayed</text>
<text x="238.7" y="458.6" textLength="25.7" lengthAdjust="spacingAndGlyphs">Early</text>
<text x="321.3" y="458.6" textLength="44.4" lengthAdjust="spacingAndGlyphs">Delayed</text>
<text x="436.1" y="458.6" textLength="25.7" lengthAdjust="spacingAndGlyphs">Early</text>
<text x="517.8" y="458.6" textLength="44.4" lengthAdjust="spacingAndGlyphs">Delayed</text>
<text x="628.1" y="458.6" textLength="25.7" lengthAdjust="spacingAndGlyphs">Early</text>
<text x="710.8" y="458.6" textLength="44.4" lengthAdjust="spacingAndGlyphs">Delayed</text>
<text x="151.9" y="556" textLength="47.8" lengthAdjust="spacingAndGlyphs">WR 8.8%</text>
<text x="337.3" y="556" textLength="55" lengthAdjust="spacingAndGlyphs">WR 24.8%</text>
<text x="540.3" y="556" textLength="48.7" lengthAdjust="spacingAndGlyphs">WR 9.9%</text>
<text x="726.2" y="556" textLength="55.4" lengthAdjust="spacingAndGlyphs">WR 22.2%</text>
</g>
<rect x="1" y="1" width="797" height="560" fill="none" stroke="#000" stroke-width="2"/>
</svg>
</body></html>
